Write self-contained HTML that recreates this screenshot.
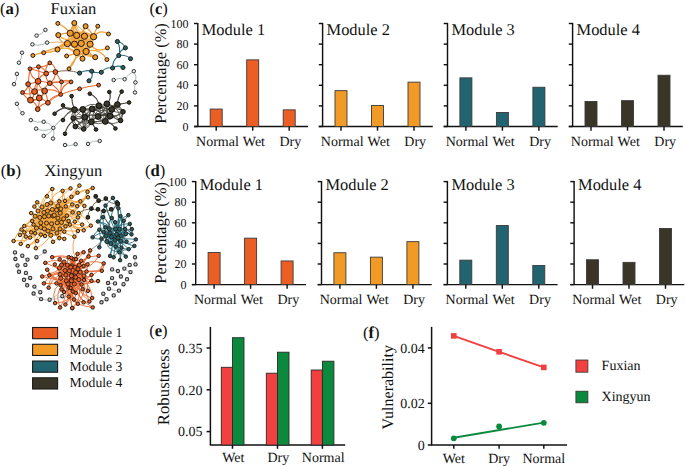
<!DOCTYPE html>
<html><head><meta charset="utf-8"><style>
html,body{margin:0;padding:0;background:#fff;width:685px;height:467px;overflow:hidden}
svg{display:block}
text{font-family:"Liberation Serif", serif;fill:#111;text-rendering:geometricPrecision}
</style></head><body>
<svg width="685" height="467" viewBox="0 0 685 467">
<rect width="685" height="467" fill="#fff"/>
<path d="M70.20,33.20 Q73.80,33.27 76.70,35.40" fill="none" stroke="#F2A33A" stroke-width="0.9" stroke-opacity="0.9"/>
<path d="M70.20,33.20 Q74.14,32.26 76.70,35.40" fill="none" stroke="#F2A33A" stroke-width="0.9" stroke-opacity="0.9"/>
<path d="M70.20,33.20 Q76.94,36.64 84.50,36.20" fill="none" stroke="#F2A33A" stroke-width="0.9" stroke-opacity="0.9"/>
<path d="M70.20,33.20 Q78.50,29.20 84.50,36.20" fill="none" stroke="#F2A33A" stroke-width="0.9" stroke-opacity="0.9"/>
<path d="M70.20,33.20 Q81.79,35.71 93.60,36.70" fill="none" stroke="#F2A33A" stroke-width="0.9" stroke-opacity="0.9"/>
<path d="M70.20,33.20 Q82.32,32.12 93.60,36.70" fill="none" stroke="#F2A33A" stroke-width="0.9" stroke-opacity="0.9"/>
<path d="M70.20,33.20 Q72.94,39.51 67.40,43.60" fill="none" stroke="#F2A33A" stroke-width="0.9" stroke-opacity="0.9"/>
<path d="M70.20,33.20 Q68.73,38.38 67.40,43.60" fill="none" stroke="#F2A33A" stroke-width="0.9" stroke-opacity="0.9"/>
<path d="M70.20,33.20 Q76.93,36.91 74.50,44.20" fill="none" stroke="#F2A33A" stroke-width="0.9" stroke-opacity="0.9"/>
<path d="M70.20,33.20 Q73.01,38.44 74.50,44.20" fill="none" stroke="#F2A33A" stroke-width="0.9" stroke-opacity="0.9"/>
<path d="M70.20,33.20 Q79.65,34.04 81.20,43.40" fill="none" stroke="#F2A33A" stroke-width="0.9" stroke-opacity="0.9"/>
<path d="M70.20,33.20 Q79.46,34.25 81.20,43.40" fill="none" stroke="#F2A33A" stroke-width="0.9" stroke-opacity="0.9"/>
<path d="M70.20,33.20 Q80.90,37.35 90.10,44.20" fill="none" stroke="#F2A33A" stroke-width="0.9" stroke-opacity="0.9"/>
<path d="M70.20,33.20 Q76.91,44.55 90.10,44.20" fill="none" stroke="#F2A33A" stroke-width="0.9" stroke-opacity="0.9"/>
<path d="M70.20,33.20 Q79.95,40.60 76.70,52.40" fill="none" stroke="#F2A33A" stroke-width="0.9" stroke-opacity="0.9"/>
<path d="M70.20,33.20 Q78.23,41.18 76.70,52.40" fill="none" stroke="#F2A33A" stroke-width="0.9" stroke-opacity="0.9"/>
<path d="M70.20,33.20 Q76.05,44.17 86.10,51.50" fill="none" stroke="#F2A33A" stroke-width="0.9" stroke-opacity="0.9"/>
<path d="M70.20,33.20 Q70.78,48.76 86.10,51.50" fill="none" stroke="#F2A33A" stroke-width="0.9" stroke-opacity="0.9"/>
<path d="M76.70,35.40 Q80.54,36.34 84.50,36.20" fill="none" stroke="#F2A33A" stroke-width="0.9" stroke-opacity="0.9"/>
<path d="M76.70,35.40 Q80.67,35.07 84.50,36.20" fill="none" stroke="#F2A33A" stroke-width="0.9" stroke-opacity="0.9"/>
<path d="M76.70,35.40 Q84.59,43.29 93.60,36.70" fill="none" stroke="#F2A33A" stroke-width="0.9" stroke-opacity="0.9"/>
<path d="M76.70,35.40 Q85.68,29.15 93.60,36.70" fill="none" stroke="#F2A33A" stroke-width="0.9" stroke-opacity="0.9"/>
<path d="M76.70,35.40 Q69.40,36.50 67.40,43.60" fill="none" stroke="#F2A33A" stroke-width="0.9" stroke-opacity="0.9"/>
<path d="M76.70,35.40 Q73.60,41.26 67.40,43.60" fill="none" stroke="#F2A33A" stroke-width="0.9" stroke-opacity="0.9"/>
<path d="M76.70,35.40 Q78.42,40.50 74.50,44.20" fill="none" stroke="#F2A33A" stroke-width="0.9" stroke-opacity="0.9"/>
<path d="M76.70,35.40 Q78.63,40.56 74.50,44.20" fill="none" stroke="#F2A33A" stroke-width="0.9" stroke-opacity="0.9"/>
<path d="M76.70,35.40 Q80.33,38.62 81.20,43.40" fill="none" stroke="#F2A33A" stroke-width="0.9" stroke-opacity="0.9"/>
<path d="M76.70,35.40 Q76.67,40.68 81.20,43.40" fill="none" stroke="#F2A33A" stroke-width="0.9" stroke-opacity="0.9"/>
<path d="M76.70,35.40 Q85.93,35.95 90.10,44.20" fill="none" stroke="#F2A33A" stroke-width="0.9" stroke-opacity="0.9"/>
<path d="M76.70,35.40 Q82.75,40.78 90.10,44.20" fill="none" stroke="#F2A33A" stroke-width="0.9" stroke-opacity="0.9"/>
<path d="M76.70,35.40 Q74.57,43.90 76.70,52.40" fill="none" stroke="#F2A33A" stroke-width="0.9" stroke-opacity="0.9"/>
<path d="M76.70,35.40 Q78.65,43.90 76.70,52.40" fill="none" stroke="#F2A33A" stroke-width="0.9" stroke-opacity="0.9"/>
<path d="M76.70,35.40 Q80.71,43.85 86.10,51.50" fill="none" stroke="#F2A33A" stroke-width="0.9" stroke-opacity="0.9"/>
<path d="M76.70,35.40 Q87.74,39.75 86.10,51.50" fill="none" stroke="#F2A33A" stroke-width="0.9" stroke-opacity="0.9"/>
<path d="M84.50,36.20 Q89.25,32.84 93.60,36.70" fill="none" stroke="#F2A33A" stroke-width="0.9" stroke-opacity="0.9"/>
<path d="M84.50,36.20 Q89.18,34.04 93.60,36.70" fill="none" stroke="#F2A33A" stroke-width="0.9" stroke-opacity="0.9"/>
<path d="M84.50,36.20 Q74.75,37.12 67.40,43.60" fill="none" stroke="#F2A33A" stroke-width="0.9" stroke-opacity="0.9"/>
<path d="M84.50,36.20 Q76.43,41.01 67.40,43.60" fill="none" stroke="#F2A33A" stroke-width="0.9" stroke-opacity="0.9"/>
<path d="M84.50,36.20 Q80.84,41.87 74.50,44.20" fill="none" stroke="#F2A33A" stroke-width="0.9" stroke-opacity="0.9"/>
<path d="M84.50,36.20 Q78.88,39.43 74.50,44.20" fill="none" stroke="#F2A33A" stroke-width="0.9" stroke-opacity="0.9"/>
<path d="M84.50,36.20 Q83.15,39.94 81.20,43.40" fill="none" stroke="#F2A33A" stroke-width="0.9" stroke-opacity="0.9"/>
<path d="M84.50,36.20 Q84.15,40.39 81.20,43.40" fill="none" stroke="#F2A33A" stroke-width="0.9" stroke-opacity="0.9"/>
<path d="M84.50,36.20 Q85.18,41.68 90.10,44.20" fill="none" stroke="#F2A33A" stroke-width="0.9" stroke-opacity="0.9"/>
<path d="M84.50,36.20 Q85.87,41.20 90.10,44.20" fill="none" stroke="#F2A33A" stroke-width="0.9" stroke-opacity="0.9"/>
<path d="M84.50,36.20 Q84.33,46.10 76.70,52.40" fill="none" stroke="#F2A33A" stroke-width="0.9" stroke-opacity="0.9"/>
<path d="M84.50,36.20 Q79.51,43.78 76.70,52.40" fill="none" stroke="#F2A33A" stroke-width="0.9" stroke-opacity="0.9"/>
<path d="M84.50,36.20 Q84.95,43.89 86.10,51.50" fill="none" stroke="#F2A33A" stroke-width="0.9" stroke-opacity="0.9"/>
<path d="M84.50,36.20 Q80.13,44.39 86.10,51.50" fill="none" stroke="#F2A33A" stroke-width="0.9" stroke-opacity="0.9"/>
<path d="M93.60,36.70 Q79.08,34.74 67.40,43.60" fill="none" stroke="#F2A33A" stroke-width="0.9" stroke-opacity="0.9"/>
<path d="M93.60,36.70 Q81.82,45.15 67.40,43.60" fill="none" stroke="#F2A33A" stroke-width="0.9" stroke-opacity="0.9"/>
<path d="M93.60,36.70 Q80.81,32.20 74.50,44.20" fill="none" stroke="#F2A33A" stroke-width="0.9" stroke-opacity="0.9"/>
<path d="M93.60,36.70 Q86.63,47.02 74.50,44.20" fill="none" stroke="#F2A33A" stroke-width="0.9" stroke-opacity="0.9"/>
<path d="M93.60,36.70 Q87.89,40.96 81.20,43.40" fill="none" stroke="#F2A33A" stroke-width="0.9" stroke-opacity="0.9"/>
<path d="M93.60,36.70 Q85.85,37.18 81.20,43.40" fill="none" stroke="#F2A33A" stroke-width="0.9" stroke-opacity="0.9"/>
<path d="M93.60,36.70 Q94.20,41.55 90.10,44.20" fill="none" stroke="#F2A33A" stroke-width="0.9" stroke-opacity="0.9"/>
<path d="M93.60,36.70 Q91.92,40.48 90.10,44.20" fill="none" stroke="#F2A33A" stroke-width="0.9" stroke-opacity="0.9"/>
<path d="M93.60,36.70 Q91.66,51.56 76.70,52.40" fill="none" stroke="#F2A33A" stroke-width="0.9" stroke-opacity="0.9"/>
<path d="M93.60,36.70 Q82.77,41.99 76.70,52.40" fill="none" stroke="#F2A33A" stroke-width="0.9" stroke-opacity="0.9"/>
<path d="M93.60,36.70 Q86.33,42.31 86.10,51.50" fill="none" stroke="#F2A33A" stroke-width="0.9" stroke-opacity="0.9"/>
<path d="M93.60,36.70 Q88.88,43.61 86.10,51.50" fill="none" stroke="#F2A33A" stroke-width="0.9" stroke-opacity="0.9"/>
<path d="M67.40,43.60 Q70.75,46.30 74.50,44.20" fill="none" stroke="#F2A33A" stroke-width="0.9" stroke-opacity="0.9"/>
<path d="M67.40,43.60 Q71.05,42.71 74.50,44.20" fill="none" stroke="#F2A33A" stroke-width="0.9" stroke-opacity="0.9"/>
<path d="M67.40,43.60 Q74.34,45.93 81.20,43.40" fill="none" stroke="#F2A33A" stroke-width="0.9" stroke-opacity="0.9"/>
<path d="M67.40,43.60 Q74.32,44.67 81.20,43.40" fill="none" stroke="#F2A33A" stroke-width="0.9" stroke-opacity="0.9"/>
<path d="M67.40,43.60 Q78.71,45.53 90.10,44.20" fill="none" stroke="#F2A33A" stroke-width="0.9" stroke-opacity="0.9"/>
<path d="M67.40,43.60 Q78.77,43.01 90.10,44.20" fill="none" stroke="#F2A33A" stroke-width="0.9" stroke-opacity="0.9"/>
<path d="M67.40,43.60 Q69.36,50.85 76.70,52.40" fill="none" stroke="#F2A33A" stroke-width="0.9" stroke-opacity="0.9"/>
<path d="M67.40,43.60 Q68.53,51.72 76.70,52.40" fill="none" stroke="#F2A33A" stroke-width="0.9" stroke-opacity="0.9"/>
<path d="M67.40,43.60 Q76.93,47.11 86.10,51.50" fill="none" stroke="#F2A33A" stroke-width="0.9" stroke-opacity="0.9"/>
<path d="M67.40,43.60 Q75.58,50.31 86.10,51.50" fill="none" stroke="#F2A33A" stroke-width="0.9" stroke-opacity="0.9"/>
<path d="M74.50,44.20 Q77.53,41.15 81.20,43.40" fill="none" stroke="#F2A33A" stroke-width="0.9" stroke-opacity="0.9"/>
<path d="M74.50,44.20 Q78.00,45.01 81.20,43.40" fill="none" stroke="#F2A33A" stroke-width="0.9" stroke-opacity="0.9"/>
<path d="M74.50,44.20 Q82.30,46.27 90.10,44.20" fill="none" stroke="#F2A33A" stroke-width="0.9" stroke-opacity="0.9"/>
<path d="M74.50,44.20 Q82.30,51.12 90.10,44.20" fill="none" stroke="#F2A33A" stroke-width="0.9" stroke-opacity="0.9"/>
<path d="M74.50,44.20 Q73.22,48.94 76.70,52.40" fill="none" stroke="#F2A33A" stroke-width="0.9" stroke-opacity="0.9"/>
<path d="M74.50,44.20 Q77.19,47.87 76.70,52.40" fill="none" stroke="#F2A33A" stroke-width="0.9" stroke-opacity="0.9"/>
<path d="M74.50,44.20 Q81.05,46.66 86.10,51.50" fill="none" stroke="#F2A33A" stroke-width="0.9" stroke-opacity="0.9"/>
<path d="M74.50,44.20 Q79.19,49.61 86.10,51.50" fill="none" stroke="#F2A33A" stroke-width="0.9" stroke-opacity="0.9"/>
<path d="M81.20,43.40 Q85.99,39.98 90.10,44.20" fill="none" stroke="#F2A33A" stroke-width="0.9" stroke-opacity="0.9"/>
<path d="M81.20,43.40 Q85.68,43.49 90.10,44.20" fill="none" stroke="#F2A33A" stroke-width="0.9" stroke-opacity="0.9"/>
<path d="M81.20,43.40 Q81.64,49.24 76.70,52.40" fill="none" stroke="#F2A33A" stroke-width="0.9" stroke-opacity="0.9"/>
<path d="M81.20,43.40 Q82.05,49.45 76.70,52.40" fill="none" stroke="#F2A33A" stroke-width="0.9" stroke-opacity="0.9"/>
<path d="M81.20,43.40 Q86.87,45.50 86.10,51.50" fill="none" stroke="#F2A33A" stroke-width="0.9" stroke-opacity="0.9"/>
<path d="M81.20,43.40 Q81.69,48.63 86.10,51.50" fill="none" stroke="#F2A33A" stroke-width="0.9" stroke-opacity="0.9"/>
<path d="M90.10,44.20 Q86.14,52.77 76.70,52.40" fill="none" stroke="#F2A33A" stroke-width="0.9" stroke-opacity="0.9"/>
<path d="M90.10,44.20 Q85.26,51.34 76.70,52.40" fill="none" stroke="#F2A33A" stroke-width="0.9" stroke-opacity="0.9"/>
<path d="M90.10,44.20 Q88.82,48.24 86.10,51.50" fill="none" stroke="#F2A33A" stroke-width="0.9" stroke-opacity="0.9"/>
<path d="M90.10,44.20 Q85.66,46.51 86.10,51.50" fill="none" stroke="#F2A33A" stroke-width="0.9" stroke-opacity="0.9"/>
<path d="M76.70,52.40 Q81.06,48.40 86.10,51.50" fill="none" stroke="#F2A33A" stroke-width="0.9" stroke-opacity="0.9"/>
<path d="M76.70,52.40 Q81.36,51.52 86.10,51.50" fill="none" stroke="#F2A33A" stroke-width="0.9" stroke-opacity="0.9"/>
<path d="M74.30,23.00 Q71.75,27.90 70.20,33.20" fill="none" stroke="#F2A33A" stroke-width="1.3" stroke-opacity="1.0"/>
<path d="M74.30,23.00 Q70.75,30.12 76.70,35.40" fill="none" stroke="#F2A33A" stroke-width="1.3" stroke-opacity="1.0"/>
<path d="M74.30,23.00 Q75.19,32.86 84.50,36.20" fill="none" stroke="#F2A33A" stroke-width="1.3" stroke-opacity="1.0"/>
<path d="M85.60,26.20 Q81.41,30.80 84.50,36.20" fill="none" stroke="#F2A33A" stroke-width="1.3" stroke-opacity="1.0"/>
<path d="M85.60,26.20 Q83.19,32.77 76.70,35.40" fill="none" stroke="#F2A33A" stroke-width="1.3" stroke-opacity="1.0"/>
<path d="M85.60,26.20 Q90.49,30.77 93.60,36.70" fill="none" stroke="#F2A33A" stroke-width="1.3" stroke-opacity="1.0"/>
<path d="M58.30,35.10 Q63.98,32.47 70.20,33.20" fill="none" stroke="#F2A33A" stroke-width="1.3" stroke-opacity="1.0"/>
<path d="M58.30,35.10 Q59.58,42.85 67.40,43.60" fill="none" stroke="#F2A33A" stroke-width="1.3" stroke-opacity="1.0"/>
<path d="M58.30,35.10 Q67.36,43.67 76.70,35.40" fill="none" stroke="#F2A33A" stroke-width="1.3" stroke-opacity="1.0"/>
<path d="M57.50,49.50 Q60.39,43.09 67.40,43.60" fill="none" stroke="#F2A33A" stroke-width="1.3" stroke-opacity="1.0"/>
<path d="M57.50,49.50 Q64.28,41.35 74.50,44.20" fill="none" stroke="#F2A33A" stroke-width="1.3" stroke-opacity="1.0"/>
<path d="M57.50,49.50 Q67.88,45.80 76.70,52.40" fill="none" stroke="#F2A33A" stroke-width="1.3" stroke-opacity="1.0"/>
<path d="M82.50,58.70 Q82.38,54.14 86.10,51.50" fill="none" stroke="#F2A33A" stroke-width="1.3" stroke-opacity="1.0"/>
<path d="M82.50,58.70 Q79.51,55.64 76.70,52.40" fill="none" stroke="#F2A33A" stroke-width="1.3" stroke-opacity="1.0"/>
<path d="M82.50,58.70 Q83.21,50.93 81.20,43.40" fill="none" stroke="#F2A33A" stroke-width="1.3" stroke-opacity="1.0"/>
<path d="M95.20,57.20 Q89.30,56.51 86.10,51.50" fill="none" stroke="#F2A33A" stroke-width="1.3" stroke-opacity="1.0"/>
<path d="M95.20,57.20 Q86.20,53.23 90.10,44.20" fill="none" stroke="#F2A33A" stroke-width="1.3" stroke-opacity="1.0"/>
<path d="M95.20,57.20 Q85.56,56.30 76.70,52.40" fill="none" stroke="#F2A33A" stroke-width="1.3" stroke-opacity="1.0"/>
<path d="M57.80,23.40 Q65.28,26.68 70.20,33.20" fill="none" stroke="#F2A33A" stroke-width="1.3" stroke-opacity="1.0"/>
<path d="M97.80,26.20 Q95.00,31.17 93.60,36.70" fill="none" stroke="#F2A33A" stroke-width="1.3" stroke-opacity="1.0"/>
<path d="M108.50,34.00 Q99.83,28.60 93.60,36.70" fill="none" stroke="#F2A33A" stroke-width="1.3" stroke-opacity="1.0"/>
<path d="M43.70,52.70 Q57.28,52.66 67.40,43.60" fill="none" stroke="#F2A33A" stroke-width="1.3" stroke-opacity="1.0"/>
<path d="M32.90,55.50 Q50.33,50.08 67.40,43.60" fill="none" stroke="#F2A33A" stroke-width="1.3" stroke-opacity="1.0"/>
<path d="M66.60,56.00 Q72.07,55.39 76.70,52.40" fill="none" stroke="#F2A33A" stroke-width="1.3" stroke-opacity="1.0"/>
<path d="M69.00,68.80 Q75.74,61.96 76.70,52.40" fill="none" stroke="#F2A33A" stroke-width="1.3" stroke-opacity="1.0"/>
<path d="M107.40,47.90 Q97.10,53.77 90.10,44.20" fill="none" stroke="#F2A33A" stroke-width="1.3" stroke-opacity="1.0"/>
<path d="M106.90,59.60 Q99.74,47.24 86.10,51.50" fill="none" stroke="#F2A33A" stroke-width="1.3" stroke-opacity="1.0"/>
<path d="M74.30,23.00 Q71.23,27.69 70.20,33.20" fill="none" stroke="#F2A33A" stroke-width="0.9" stroke-opacity="1.0"/>
<path d="M74.30,23.00 Q74.26,29.44 76.70,35.40" fill="none" stroke="#F2A33A" stroke-width="0.9" stroke-opacity="1.0"/>
<path d="M74.30,23.00 Q78.08,30.62 84.50,36.20" fill="none" stroke="#F2A33A" stroke-width="0.9" stroke-opacity="1.0"/>
<path d="M74.30,23.00 Q82.58,31.78 93.60,36.70" fill="none" stroke="#F2A33A" stroke-width="0.9" stroke-opacity="1.0"/>
<path d="M74.30,23.00 Q68.79,32.61 67.40,43.60" fill="none" stroke="#F2A33A" stroke-width="0.9" stroke-opacity="1.0"/>
<path d="M74.30,23.00 Q72.28,33.62 74.50,44.20" fill="none" stroke="#F2A33A" stroke-width="0.9" stroke-opacity="1.0"/>
<path d="M43.70,52.70 Q38.16,53.56 32.90,55.50" fill="none" stroke="#F2A33A" stroke-width="1.1" stroke-opacity="1.0"/>
<path d="M69.00,68.80 Q74.09,56.73 86.10,51.50" fill="none" stroke="#F2A33A" stroke-width="1.1" stroke-opacity="1.0"/>
<path d="M47.10,42.60 Q57.35,41.07 67.40,43.60" fill="none" stroke="#D9B27A" stroke-width="1.0" stroke-opacity="1.0"/>
<path d="M38.10,81.30 Q34.28,85.74 34.50,91.60" fill="none" stroke="#EC6A30" stroke-width="1.1" stroke-opacity="1.0"/>
<path d="M38.10,81.30 Q38.83,87.80 44.60,90.90" fill="none" stroke="#EC6A30" stroke-width="1.1" stroke-opacity="1.0"/>
<path d="M38.10,81.30 Q35.22,89.90 39.30,98.00" fill="none" stroke="#EC6A30" stroke-width="1.1" stroke-opacity="1.0"/>
<path d="M38.10,81.30 Q33.31,83.45 28.10,84.10" fill="none" stroke="#EC6A30" stroke-width="1.1" stroke-opacity="1.0"/>
<path d="M38.10,81.30 Q44.08,81.42 49.80,83.20" fill="none" stroke="#EC6A30" stroke-width="1.1" stroke-opacity="1.0"/>
<path d="M38.10,81.30 Q40.01,75.20 46.20,73.60" fill="none" stroke="#EC6A30" stroke-width="1.1" stroke-opacity="1.0"/>
<path d="M38.10,81.30 Q39.67,74.04 38.50,66.70" fill="none" stroke="#EC6A30" stroke-width="1.1" stroke-opacity="1.0"/>
<path d="M38.10,81.30 Q30.22,77.53 30.00,68.80" fill="none" stroke="#EC6A30" stroke-width="1.1" stroke-opacity="1.0"/>
<path d="M34.50,91.60 Q39.34,88.19 44.60,90.90" fill="none" stroke="#EC6A30" stroke-width="1.1" stroke-opacity="1.0"/>
<path d="M34.50,91.60 Q34.23,96.67 30.50,100.10" fill="none" stroke="#EC6A30" stroke-width="1.1" stroke-opacity="1.0"/>
<path d="M34.50,91.60 Q38.41,93.67 39.30,98.00" fill="none" stroke="#EC6A30" stroke-width="1.1" stroke-opacity="1.0"/>
<path d="M34.50,91.60 Q30.46,88.57 28.10,84.10" fill="none" stroke="#EC6A30" stroke-width="1.1" stroke-opacity="1.0"/>
<path d="M34.50,91.60 Q28.78,95.81 22.50,92.50" fill="none" stroke="#EC6A30" stroke-width="1.1" stroke-opacity="1.0"/>
<path d="M44.60,90.90 Q40.77,100.43 30.50,100.10" fill="none" stroke="#EC6A30" stroke-width="1.1" stroke-opacity="1.0"/>
<path d="M44.60,90.90 Q43.68,95.74 39.30,98.00" fill="none" stroke="#EC6A30" stroke-width="1.1" stroke-opacity="1.0"/>
<path d="M44.60,90.90 Q45.05,85.60 49.80,83.20" fill="none" stroke="#EC6A30" stroke-width="1.1" stroke-opacity="1.0"/>
<path d="M44.60,90.90 Q47.39,96.53 47.90,102.80" fill="none" stroke="#EC6A30" stroke-width="1.1" stroke-opacity="1.0"/>
<path d="M44.60,90.90 Q53.85,87.35 60.70,94.50" fill="none" stroke="#EC6A30" stroke-width="1.1" stroke-opacity="1.0"/>
<path d="M30.50,100.10 Q35.45,101.36 39.30,98.00" fill="none" stroke="#EC6A30" stroke-width="1.1" stroke-opacity="1.0"/>
<path d="M30.50,100.10 Q30.58,91.91 28.10,84.10" fill="none" stroke="#EC6A30" stroke-width="1.1" stroke-opacity="1.0"/>
<path d="M30.50,100.10 Q36.34,102.88 37.70,109.20" fill="none" stroke="#EC6A30" stroke-width="1.1" stroke-opacity="1.0"/>
<path d="M30.50,100.10 Q25.18,97.69 22.50,92.50" fill="none" stroke="#EC6A30" stroke-width="1.1" stroke-opacity="1.0"/>
<path d="M39.30,98.00 Q44.11,99.48 47.90,102.80" fill="none" stroke="#EC6A30" stroke-width="1.1" stroke-opacity="1.0"/>
<path d="M39.30,98.00 Q39.56,103.75 37.70,109.20" fill="none" stroke="#EC6A30" stroke-width="1.1" stroke-opacity="1.0"/>
<path d="M55.40,72.00 Q55.56,79.08 49.80,83.20" fill="none" stroke="#EC6A30" stroke-width="1.1" stroke-opacity="1.0"/>
<path d="M55.40,72.00 Q50.41,70.55 46.20,73.60" fill="none" stroke="#EC6A30" stroke-width="1.1" stroke-opacity="1.0"/>
<path d="M55.40,72.00 Q55.74,65.52 49.80,62.90" fill="none" stroke="#EC6A30" stroke-width="1.1" stroke-opacity="1.0"/>
<path d="M55.40,72.00 Q58.69,76.80 61.50,81.90" fill="none" stroke="#EC6A30" stroke-width="1.1" stroke-opacity="1.0"/>
<path d="M28.10,84.10 Q28.88,76.43 30.00,68.80" fill="none" stroke="#EC6A30" stroke-width="1.1" stroke-opacity="1.0"/>
<path d="M28.10,84.10 Q27.73,89.92 22.50,92.50" fill="none" stroke="#EC6A30" stroke-width="1.1" stroke-opacity="1.0"/>
<path d="M49.80,83.20 Q45.33,79.40 46.20,73.60" fill="none" stroke="#EC6A30" stroke-width="1.1" stroke-opacity="1.0"/>
<path d="M49.80,83.20 Q55.51,81.26 61.50,81.90" fill="none" stroke="#EC6A30" stroke-width="1.1" stroke-opacity="1.0"/>
<path d="M49.80,83.20 Q57.11,87.06 60.70,94.50" fill="none" stroke="#EC6A30" stroke-width="1.1" stroke-opacity="1.0"/>
<path d="M47.90,102.80 Q41.33,103.65 37.70,109.20" fill="none" stroke="#EC6A30" stroke-width="1.1" stroke-opacity="1.0"/>
<path d="M47.90,102.80 Q52.33,95.62 60.70,94.50" fill="none" stroke="#EC6A30" stroke-width="1.1" stroke-opacity="1.0"/>
<path d="M46.20,73.60 Q44.43,67.05 49.80,62.90" fill="none" stroke="#EC6A30" stroke-width="1.1" stroke-opacity="1.0"/>
<path d="M46.20,73.60 Q44.53,67.72 38.50,66.70" fill="none" stroke="#EC6A30" stroke-width="1.1" stroke-opacity="1.0"/>
<path d="M46.20,73.60 Q38.19,70.88 30.00,68.80" fill="none" stroke="#EC6A30" stroke-width="1.1" stroke-opacity="1.0"/>
<path d="M49.80,62.90 Q45.09,67.60 38.50,66.70" fill="none" stroke="#EC6A30" stroke-width="1.1" stroke-opacity="1.0"/>
<path d="M38.50,66.70 Q34.19,67.49 30.00,68.80" fill="none" stroke="#EC6A30" stroke-width="1.1" stroke-opacity="1.0"/>
<path d="M61.50,81.90 Q66.30,78.72 71.10,81.90" fill="none" stroke="#EC6A30" stroke-width="1.1" stroke-opacity="1.0"/>
<path d="M61.50,81.90 Q60.85,88.18 60.70,94.50" fill="none" stroke="#EC6A30" stroke-width="1.1" stroke-opacity="1.0"/>
<path d="M71.10,81.90 Q61.68,84.72 60.70,94.50" fill="none" stroke="#EC6A30" stroke-width="1.1" stroke-opacity="1.0"/>
<path d="M47.90,102.80 Q53.47,97.37 60.70,94.50" fill="none" stroke="#EC6A30" stroke-width="1.0" stroke-opacity="1.0"/>
<path d="M60.70,94.50 Q69.87,90.71 79.60,88.80" fill="none" stroke="#EC6A30" stroke-width="1.0" stroke-opacity="1.0"/>
<path d="M79.60,88.80 Q88.91,86.00 98.60,85.10" fill="none" stroke="#EC6A30" stroke-width="1.0" stroke-opacity="1.0"/>
<path d="M49.80,83.20 Q55.65,82.55 61.50,81.90" fill="none" stroke="#EC6A30" stroke-width="1.0" stroke-opacity="1.0"/>
<path d="M61.50,81.90 Q66.30,81.90 71.10,81.90" fill="none" stroke="#EC6A30" stroke-width="1.0" stroke-opacity="1.0"/>
<path d="M55.40,72.00 Q67.66,68.92 79.60,73.10" fill="none" stroke="#8a6a55" stroke-width="1.0" stroke-opacity="1.0"/>
<path d="M117.40,41.50 Q123.25,42.39 125.40,47.90" fill="none" stroke="#2C7382" stroke-width="1.15" stroke-opacity="1.0"/>
<path d="M125.40,47.90 Q120.10,50.05 118.70,55.60" fill="none" stroke="#2C7382" stroke-width="1.15" stroke-opacity="1.0"/>
<path d="M117.40,41.50 Q121.17,48.26 118.70,55.60" fill="none" stroke="#2C7382" stroke-width="1.15" stroke-opacity="1.0"/>
<path d="M118.70,55.60 Q125.40,54.12 130.50,58.70" fill="none" stroke="#2C7382" stroke-width="1.15" stroke-opacity="1.0"/>
<path d="M118.70,55.60 Q112.21,60.11 112.60,68.00" fill="none" stroke="#2C7382" stroke-width="1.15" stroke-opacity="1.0"/>
<path d="M112.60,68.00 Q117.64,64.51 123.00,67.50" fill="none" stroke="#2C7382" stroke-width="1.15" stroke-opacity="1.0"/>
<path d="M112.60,68.00 Q105.67,66.78 101.30,72.30" fill="none" stroke="#2C7382" stroke-width="1.15" stroke-opacity="1.0"/>
<path d="M101.30,72.30 Q96.29,73.57 91.70,71.20" fill="none" stroke="#2C7382" stroke-width="1.15" stroke-opacity="1.0"/>
<path d="M91.70,71.20 Q85.23,69.47 79.60,73.10" fill="none" stroke="#2C7382" stroke-width="1.15" stroke-opacity="1.0"/>
<path d="M91.70,71.20 Q93.69,76.94 89.00,80.80" fill="none" stroke="#2C7382" stroke-width="1.15" stroke-opacity="1.0"/>
<path d="M106.90,103.80 Q111.94,106.94 117.40,104.60" fill="none" stroke="#3f3d33" stroke-width="0.8" stroke-opacity="1.0"/>
<path d="M106.90,103.80 Q102.95,104.95 98.90,105.70" fill="none" stroke="#3f3d33" stroke-width="0.8" stroke-opacity="1.0"/>
<path d="M106.90,103.80 Q100.96,110.40 92.20,108.90" fill="none" stroke="#3f3d33" stroke-width="0.8" stroke-opacity="1.0"/>
<path d="M106.90,103.80 Q108.82,107.06 111.80,109.40" fill="none" stroke="#3f3d33" stroke-width="0.8" stroke-opacity="1.0"/>
<path d="M106.90,103.80 Q104.28,111.38 98.10,116.50" fill="none" stroke="#3f3d33" stroke-width="0.8" stroke-opacity="1.0"/>
<path d="M106.90,103.80 Q105.08,110.84 110.10,116.10" fill="none" stroke="#3f3d33" stroke-width="0.8" stroke-opacity="1.0"/>
<path d="M106.90,103.80 Q95.54,109.69 91.40,121.80" fill="none" stroke="#3f3d33" stroke-width="0.8" stroke-opacity="1.0"/>
<path d="M106.90,103.80 Q108.48,112.82 105.30,121.40" fill="none" stroke="#3f3d33" stroke-width="0.8" stroke-opacity="1.0"/>
<path d="M106.90,103.80 Q111.53,114.68 123.00,111.80" fill="none" stroke="#3f3d33" stroke-width="0.8" stroke-opacity="1.0"/>
<path d="M106.90,103.80 Q120.05,106.98 120.60,120.50" fill="none" stroke="#3f3d33" stroke-width="0.8" stroke-opacity="1.0"/>
<path d="M117.40,104.60 Q108.54,111.77 98.90,105.70" fill="none" stroke="#3f3d33" stroke-width="0.8" stroke-opacity="1.0"/>
<path d="M117.40,104.60 Q114.73,107.15 111.80,109.40" fill="none" stroke="#3f3d33" stroke-width="0.8" stroke-opacity="1.0"/>
<path d="M117.40,104.60 Q109.49,113.37 98.10,116.50" fill="none" stroke="#3f3d33" stroke-width="0.8" stroke-opacity="1.0"/>
<path d="M117.40,104.60 Q113.93,110.46 110.10,116.10" fill="none" stroke="#3f3d33" stroke-width="0.8" stroke-opacity="1.0"/>
<path d="M117.40,104.60 Q104.01,107.72 105.30,121.40" fill="none" stroke="#3f3d33" stroke-width="0.8" stroke-opacity="1.0"/>
<path d="M117.40,104.60 Q119.49,108.76 123.00,111.80" fill="none" stroke="#3f3d33" stroke-width="0.8" stroke-opacity="1.0"/>
<path d="M117.40,104.60 Q126.13,111.12 120.60,120.50" fill="none" stroke="#3f3d33" stroke-width="0.8" stroke-opacity="1.0"/>
<path d="M98.90,105.70 Q89.49,101.62 82.80,109.40" fill="none" stroke="#3f3d33" stroke-width="0.8" stroke-opacity="1.0"/>
<path d="M98.90,105.70 Q96.00,108.24 92.20,108.90" fill="none" stroke="#3f3d33" stroke-width="0.8" stroke-opacity="1.0"/>
<path d="M98.90,105.70 Q104.87,109.21 111.80,109.40" fill="none" stroke="#3f3d33" stroke-width="0.8" stroke-opacity="1.0"/>
<path d="M98.90,105.70 Q88.36,107.25 84.80,117.30" fill="none" stroke="#3f3d33" stroke-width="0.8" stroke-opacity="1.0"/>
<path d="M98.90,105.70 Q102.19,111.37 98.10,116.50" fill="none" stroke="#3f3d33" stroke-width="0.8" stroke-opacity="1.0"/>
<path d="M98.90,105.70 Q105.54,109.78 110.10,116.10" fill="none" stroke="#3f3d33" stroke-width="0.8" stroke-opacity="1.0"/>
<path d="M98.90,105.70 Q92.09,112.32 91.40,121.80" fill="none" stroke="#3f3d33" stroke-width="0.8" stroke-opacity="1.0"/>
<path d="M98.90,105.70 Q106.35,111.82 105.30,121.40" fill="none" stroke="#3f3d33" stroke-width="0.8" stroke-opacity="1.0"/>
<path d="M74.50,109.70 Q78.76,112.46 82.80,109.40" fill="none" stroke="#3f3d33" stroke-width="0.8" stroke-opacity="1.0"/>
<path d="M74.50,109.70 Q83.30,108.25 92.20,108.90" fill="none" stroke="#3f3d33" stroke-width="0.8" stroke-opacity="1.0"/>
<path d="M74.50,109.70 Q78.72,114.76 84.80,117.30" fill="none" stroke="#3f3d33" stroke-width="0.8" stroke-opacity="1.0"/>
<path d="M74.50,109.70 Q87.45,109.46 91.40,121.80" fill="none" stroke="#3f3d33" stroke-width="0.8" stroke-opacity="1.0"/>
<path d="M74.50,109.70 Q68.11,118.47 75.30,126.60" fill="none" stroke="#3f3d33" stroke-width="0.8" stroke-opacity="1.0"/>
<path d="M74.50,109.70 Q75.25,121.19 83.70,129.00" fill="none" stroke="#3f3d33" stroke-width="0.8" stroke-opacity="1.0"/>
<path d="M74.50,109.70 Q74.13,113.99 73.20,118.20" fill="none" stroke="#3f3d33" stroke-width="0.8" stroke-opacity="1.0"/>
<path d="M82.80,109.40 Q87.61,111.21 92.20,108.90" fill="none" stroke="#3f3d33" stroke-width="0.8" stroke-opacity="1.0"/>
<path d="M82.80,109.40 Q86.75,112.60 84.80,117.30" fill="none" stroke="#3f3d33" stroke-width="0.8" stroke-opacity="1.0"/>
<path d="M82.80,109.40 Q92.63,108.25 98.10,116.50" fill="none" stroke="#3f3d33" stroke-width="0.8" stroke-opacity="1.0"/>
<path d="M82.80,109.40 Q81.60,119.42 91.40,121.80" fill="none" stroke="#3f3d33" stroke-width="0.8" stroke-opacity="1.0"/>
<path d="M82.80,109.40 Q86.36,121.19 75.30,126.60" fill="none" stroke="#3f3d33" stroke-width="0.8" stroke-opacity="1.0"/>
<path d="M82.80,109.40 Q81.65,119.27 83.70,129.00" fill="none" stroke="#3f3d33" stroke-width="0.8" stroke-opacity="1.0"/>
<path d="M82.80,109.40 Q78.27,114.10 73.20,118.20" fill="none" stroke="#3f3d33" stroke-width="0.8" stroke-opacity="1.0"/>
<path d="M92.20,108.90 Q101.93,111.90 111.80,109.40" fill="none" stroke="#3f3d33" stroke-width="0.8" stroke-opacity="1.0"/>
<path d="M92.20,108.90 Q87.66,112.36 84.80,117.30" fill="none" stroke="#3f3d33" stroke-width="0.8" stroke-opacity="1.0"/>
<path d="M92.20,108.90 Q94.49,113.21 98.10,116.50" fill="none" stroke="#3f3d33" stroke-width="0.8" stroke-opacity="1.0"/>
<path d="M92.20,108.90 Q101.32,112.09 110.10,116.10" fill="none" stroke="#3f3d33" stroke-width="0.8" stroke-opacity="1.0"/>
<path d="M92.20,108.90 Q86.72,115.04 91.40,121.80" fill="none" stroke="#3f3d33" stroke-width="0.8" stroke-opacity="1.0"/>
<path d="M92.20,108.90 Q102.62,111.09 105.30,121.40" fill="none" stroke="#3f3d33" stroke-width="0.8" stroke-opacity="1.0"/>
<path d="M92.20,108.90 Q87.08,118.58 83.70,129.00" fill="none" stroke="#3f3d33" stroke-width="0.8" stroke-opacity="1.0"/>
<path d="M92.20,108.90 Q86.71,121.73 73.20,118.20" fill="none" stroke="#3f3d33" stroke-width="0.8" stroke-opacity="1.0"/>
<path d="M111.80,109.40 Q103.04,109.26 98.10,116.50" fill="none" stroke="#3f3d33" stroke-width="0.8" stroke-opacity="1.0"/>
<path d="M111.80,109.40 Q109.58,112.40 110.10,116.10" fill="none" stroke="#3f3d33" stroke-width="0.8" stroke-opacity="1.0"/>
<path d="M111.80,109.40 Q106.03,122.89 91.40,121.80" fill="none" stroke="#3f3d33" stroke-width="0.8" stroke-opacity="1.0"/>
<path d="M111.80,109.40 Q105.86,113.94 105.30,121.40" fill="none" stroke="#3f3d33" stroke-width="0.8" stroke-opacity="1.0"/>
<path d="M111.80,109.40 Q118.18,106.96 123.00,111.80" fill="none" stroke="#3f3d33" stroke-width="0.8" stroke-opacity="1.0"/>
<path d="M111.80,109.40 Q111.34,118.80 120.60,120.50" fill="none" stroke="#3f3d33" stroke-width="0.8" stroke-opacity="1.0"/>
<path d="M84.80,117.30 Q91.23,113.25 98.10,116.50" fill="none" stroke="#3f3d33" stroke-width="0.8" stroke-opacity="1.0"/>
<path d="M84.80,117.30 Q86.59,121.77 91.40,121.80" fill="none" stroke="#3f3d33" stroke-width="0.8" stroke-opacity="1.0"/>
<path d="M84.80,117.30 Q96.79,110.64 105.30,121.40" fill="none" stroke="#3f3d33" stroke-width="0.8" stroke-opacity="1.0"/>
<path d="M84.80,117.30 Q82.45,124.41 75.30,126.60" fill="none" stroke="#3f3d33" stroke-width="0.8" stroke-opacity="1.0"/>
<path d="M84.80,117.30 Q84.24,123.15 83.70,129.00" fill="none" stroke="#3f3d33" stroke-width="0.8" stroke-opacity="1.0"/>
<path d="M84.80,117.30 Q78.79,115.00 73.20,118.20" fill="none" stroke="#3f3d33" stroke-width="0.8" stroke-opacity="1.0"/>
<path d="M98.10,116.50 Q104.04,114.42 110.10,116.10" fill="none" stroke="#3f3d33" stroke-width="0.8" stroke-opacity="1.0"/>
<path d="M98.10,116.50 Q94.54,118.88 91.40,121.80" fill="none" stroke="#3f3d33" stroke-width="0.8" stroke-opacity="1.0"/>
<path d="M98.10,116.50 Q100.23,121.12 105.30,121.40" fill="none" stroke="#3f3d33" stroke-width="0.8" stroke-opacity="1.0"/>
<path d="M98.10,116.50 Q110.93,109.61 120.60,120.50" fill="none" stroke="#3f3d33" stroke-width="0.8" stroke-opacity="1.0"/>
<path d="M98.10,116.50 Q88.20,119.64 83.70,129.00" fill="none" stroke="#3f3d33" stroke-width="0.8" stroke-opacity="1.0"/>
<path d="M110.10,116.10 Q98.71,112.26 91.40,121.80" fill="none" stroke="#3f3d33" stroke-width="0.8" stroke-opacity="1.0"/>
<path d="M110.10,116.10 Q106.92,118.05 105.30,121.40" fill="none" stroke="#3f3d33" stroke-width="0.8" stroke-opacity="1.0"/>
<path d="M110.10,116.10 Q117.77,117.61 123.00,111.80" fill="none" stroke="#3f3d33" stroke-width="0.8" stroke-opacity="1.0"/>
<path d="M110.10,116.10 Q115.28,118.46 120.60,120.50" fill="none" stroke="#3f3d33" stroke-width="0.8" stroke-opacity="1.0"/>
<path d="M91.40,121.80 Q98.47,125.69 105.30,121.40" fill="none" stroke="#3f3d33" stroke-width="0.8" stroke-opacity="1.0"/>
<path d="M91.40,121.80 Q81.72,118.72 75.30,126.60" fill="none" stroke="#3f3d33" stroke-width="0.8" stroke-opacity="1.0"/>
<path d="M91.40,121.80 Q89.94,127.96 83.70,129.00" fill="none" stroke="#3f3d33" stroke-width="0.8" stroke-opacity="1.0"/>
<path d="M91.40,121.80 Q81.17,125.70 73.20,118.20" fill="none" stroke="#3f3d33" stroke-width="0.8" stroke-opacity="1.0"/>
<path d="M105.30,121.40 Q114.24,116.77 123.00,111.80" fill="none" stroke="#3f3d33" stroke-width="0.8" stroke-opacity="1.0"/>
<path d="M105.30,121.40 Q113.25,126.08 120.60,120.50" fill="none" stroke="#3f3d33" stroke-width="0.8" stroke-opacity="1.0"/>
<path d="M105.30,121.40 Q92.61,119.82 83.70,129.00" fill="none" stroke="#3f3d33" stroke-width="0.8" stroke-opacity="1.0"/>
<path d="M123.00,111.80 Q120.95,115.92 120.60,120.50" fill="none" stroke="#3f3d33" stroke-width="0.8" stroke-opacity="1.0"/>
<path d="M75.30,126.60 Q78.90,129.89 83.70,129.00" fill="none" stroke="#3f3d33" stroke-width="0.8" stroke-opacity="1.0"/>
<path d="M75.30,126.60 Q71.60,123.06 73.20,118.20" fill="none" stroke="#3f3d33" stroke-width="0.8" stroke-opacity="1.0"/>
<path d="M83.70,129.00 Q74.97,126.99 73.20,118.20" fill="none" stroke="#3f3d33" stroke-width="0.8" stroke-opacity="1.0"/>
<path d="M71.60,96.10 Q71.75,103.18 74.50,109.70" fill="none" stroke="#3f3d33" stroke-width="1.1" stroke-opacity="1.0"/>
<path d="M89.80,93.70 Q97.99,96.94 98.90,105.70" fill="none" stroke="#3f3d33" stroke-width="1.1" stroke-opacity="1.0"/>
<path d="M109.30,92.00 Q112.24,98.74 106.90,103.80" fill="none" stroke="#3f3d33" stroke-width="1.1" stroke-opacity="1.0"/>
<path d="M121.70,91.60 Q117.65,97.47 117.40,104.60" fill="none" stroke="#3f3d33" stroke-width="1.1" stroke-opacity="1.0"/>
<path d="M129.10,102.50 Q123.20,103.26 117.40,104.60" fill="none" stroke="#3f3d33" stroke-width="1.1" stroke-opacity="1.0"/>
<path d="M96.00,129.50 Q93.59,125.71 91.40,121.80" fill="none" stroke="#3f3d33" stroke-width="1.1" stroke-opacity="1.0"/>
<path d="M115.40,128.50 Q111.92,122.72 105.30,121.40" fill="none" stroke="#3f3d33" stroke-width="1.1" stroke-opacity="1.0"/>
<path d="M63.00,105.40 Q67.43,111.08 74.50,109.70" fill="none" stroke="#3f3d33" stroke-width="1.1" stroke-opacity="1.0"/>
<path d="M54.60,113.70 Q63.13,104.64 74.50,109.70" fill="none" stroke="#3f3d33" stroke-width="1.1" stroke-opacity="1.0"/>
<path d="M63.00,120.10 Q66.18,112.06 74.50,109.70" fill="none" stroke="#3f3d33" stroke-width="1.1" stroke-opacity="1.0"/>
<path d="M65.00,133.80 Q68.86,118.30 84.80,117.30" fill="none" stroke="#3f3d33" stroke-width="1.1" stroke-opacity="1.0"/>
<path d="M45.40,29.90 Q42.00,34.30 36.60,35.60" fill="none" stroke="#a3b0b0" stroke-width="0.9" stroke-opacity="1.0"/>
<path d="M47.10,42.60 Q40.14,46.65 32.40,44.40" fill="none" stroke="#a3b0b0" stroke-width="0.9" stroke-opacity="1.0"/>
<path d="M22.00,52.70 Q22.11,58.22 18.90,62.70" fill="none" stroke="#a3b0b0" stroke-width="0.9" stroke-opacity="1.0"/>
<path d="M16.90,73.90 Q17.53,79.59 14.00,84.10" fill="none" stroke="#a3b0b0" stroke-width="0.9" stroke-opacity="1.0"/>
<path d="M16.90,103.80 Q18.04,109.49 22.50,113.20" fill="none" stroke="#a3b0b0" stroke-width="0.9" stroke-opacity="1.0"/>
<path d="M30.80,120.10 Q36.95,123.22 43.70,121.80" fill="none" stroke="#a3b0b0" stroke-width="0.9" stroke-opacity="1.0"/>
<path d="M43.70,121.80 Q49.75,122.88 53.30,127.90" fill="none" stroke="#a3b0b0" stroke-width="0.9" stroke-opacity="1.0"/>
<path d="M36.10,128.70 Q44.89,132.40 53.30,127.90" fill="none" stroke="#a3b0b0" stroke-width="0.9" stroke-opacity="1.0"/>
<path d="M53.30,127.90 Q50.31,134.07 43.70,135.90" fill="none" stroke="#a3b0b0" stroke-width="0.9" stroke-opacity="1.0"/>
<path d="M53.30,127.90 Q54.89,133.30 53.00,138.60" fill="none" stroke="#a3b0b0" stroke-width="0.9" stroke-opacity="1.0"/>
<path d="M65.00,145.00 Q70.43,146.36 75.60,144.20" fill="none" stroke="#a3b0b0" stroke-width="0.9" stroke-opacity="1.0"/>
<path d="M88.00,143.90 Q93.27,140.10 99.70,141.00" fill="none" stroke="#a3b0b0" stroke-width="0.9" stroke-opacity="1.0"/>
<path d="M133.80,71.20 Q128.31,74.18 124.60,79.20" fill="none" stroke="#a3b0b0" stroke-width="0.9" stroke-opacity="1.0"/>
<path d="M124.60,79.20 Q118.98,77.23 113.70,80.00" fill="none" stroke="#a3b0b0" stroke-width="0.9" stroke-opacity="1.0"/>
<path d="M133.80,71.20 Q137.30,76.41 135.40,82.40" fill="none" stroke="#a3b0b0" stroke-width="0.9" stroke-opacity="1.0"/>
<path d="M135.40,82.40 Q133.97,87.40 135.00,92.50" fill="none" stroke="#a3b0b0" stroke-width="0.9" stroke-opacity="1.0"/>
<path d="M53.30,127.90 Q62.08,116.68 74.50,109.70" fill="none" stroke="#8d9a90" stroke-width="0.9" stroke-opacity="1.0"/>
<circle cx="70.20" cy="33.20" r="3.10" fill="#F29A26" stroke="#241a12" stroke-width="1.0"/>
<circle cx="76.70" cy="35.40" r="3.10" fill="#F29A26" stroke="#241a12" stroke-width="1.0"/>
<circle cx="84.50" cy="36.20" r="3.10" fill="#F29A26" stroke="#241a12" stroke-width="1.0"/>
<circle cx="93.60" cy="36.70" r="3.10" fill="#F29A26" stroke="#241a12" stroke-width="1.0"/>
<circle cx="67.40" cy="43.60" r="3.10" fill="#F29A26" stroke="#241a12" stroke-width="1.0"/>
<circle cx="74.50" cy="44.20" r="3.10" fill="#F29A26" stroke="#241a12" stroke-width="1.0"/>
<circle cx="81.20" cy="43.40" r="3.10" fill="#F29A26" stroke="#241a12" stroke-width="1.0"/>
<circle cx="90.10" cy="44.20" r="3.10" fill="#F29A26" stroke="#241a12" stroke-width="1.0"/>
<circle cx="76.70" cy="52.40" r="3.10" fill="#F29A26" stroke="#241a12" stroke-width="1.0"/>
<circle cx="86.10" cy="51.50" r="3.10" fill="#F29A26" stroke="#241a12" stroke-width="1.0"/>
<circle cx="74.30" cy="23.00" r="2.50" fill="#F29A26" stroke="#241a12" stroke-width="1.0"/>
<circle cx="85.60" cy="26.20" r="2.50" fill="#F29A26" stroke="#241a12" stroke-width="1.0"/>
<circle cx="58.30" cy="35.10" r="2.50" fill="#F29A26" stroke="#241a12" stroke-width="1.0"/>
<circle cx="57.50" cy="49.50" r="2.50" fill="#F29A26" stroke="#241a12" stroke-width="1.0"/>
<circle cx="82.50" cy="58.70" r="2.50" fill="#F29A26" stroke="#241a12" stroke-width="1.0"/>
<circle cx="95.20" cy="57.20" r="2.50" fill="#F29A26" stroke="#241a12" stroke-width="1.0"/>
<circle cx="57.80" cy="23.40" r="1.95" fill="#F29A26" stroke="#241a12" stroke-width="1.0"/>
<circle cx="97.80" cy="26.20" r="1.95" fill="#F29A26" stroke="#241a12" stroke-width="1.0"/>
<circle cx="108.50" cy="34.00" r="1.95" fill="#F29A26" stroke="#241a12" stroke-width="1.0"/>
<circle cx="43.70" cy="52.70" r="1.95" fill="#F29A26" stroke="#241a12" stroke-width="1.0"/>
<circle cx="32.90" cy="55.50" r="1.95" fill="#F29A26" stroke="#241a12" stroke-width="1.0"/>
<circle cx="66.60" cy="56.00" r="1.95" fill="#F29A26" stroke="#241a12" stroke-width="1.0"/>
<circle cx="69.00" cy="68.80" r="1.95" fill="#F29A26" stroke="#241a12" stroke-width="1.0"/>
<circle cx="107.40" cy="47.90" r="1.95" fill="#F29A26" stroke="#241a12" stroke-width="1.0"/>
<circle cx="106.90" cy="59.60" r="1.95" fill="#F29A26" stroke="#241a12" stroke-width="1.0"/>
<circle cx="38.10" cy="81.30" r="2.90" fill="#EB5F24" stroke="#241a12" stroke-width="1.0"/>
<circle cx="34.50" cy="91.60" r="2.90" fill="#EB5F24" stroke="#241a12" stroke-width="1.0"/>
<circle cx="44.60" cy="90.90" r="2.90" fill="#EB5F24" stroke="#241a12" stroke-width="1.0"/>
<circle cx="30.50" cy="100.10" r="2.90" fill="#EB5F24" stroke="#241a12" stroke-width="1.0"/>
<circle cx="39.30" cy="98.00" r="2.90" fill="#EB5F24" stroke="#241a12" stroke-width="1.0"/>
<circle cx="55.40" cy="72.00" r="2.35" fill="#EB5F24" stroke="#241a12" stroke-width="1.0"/>
<circle cx="28.10" cy="84.10" r="2.35" fill="#EB5F24" stroke="#241a12" stroke-width="1.0"/>
<circle cx="49.80" cy="83.20" r="2.35" fill="#EB5F24" stroke="#241a12" stroke-width="1.0"/>
<circle cx="47.90" cy="102.80" r="2.35" fill="#EB5F24" stroke="#241a12" stroke-width="1.0"/>
<circle cx="37.70" cy="109.20" r="2.35" fill="#EB5F24" stroke="#241a12" stroke-width="1.0"/>
<circle cx="46.20" cy="73.60" r="2.35" fill="#EB5F24" stroke="#241a12" stroke-width="1.0"/>
<circle cx="49.80" cy="62.90" r="1.90" fill="#EB5F24" stroke="#241a12" stroke-width="1.0"/>
<circle cx="38.50" cy="66.70" r="1.90" fill="#EB5F24" stroke="#241a12" stroke-width="1.0"/>
<circle cx="30.00" cy="68.80" r="1.90" fill="#EB5F24" stroke="#241a12" stroke-width="1.0"/>
<circle cx="61.50" cy="81.90" r="1.90" fill="#EB5F24" stroke="#241a12" stroke-width="1.0"/>
<circle cx="71.10" cy="81.90" r="1.90" fill="#EB5F24" stroke="#241a12" stroke-width="1.0"/>
<circle cx="22.50" cy="92.50" r="1.90" fill="#EB5F24" stroke="#241a12" stroke-width="1.0"/>
<circle cx="60.70" cy="94.50" r="1.90" fill="#EB5F24" stroke="#241a12" stroke-width="1.0"/>
<circle cx="79.60" cy="88.80" r="1.90" fill="#EB5F24" stroke="#241a12" stroke-width="1.0"/>
<circle cx="98.60" cy="85.10" r="1.90" fill="#EB5F24" stroke="#241a12" stroke-width="1.0"/>
<circle cx="117.40" cy="41.50" r="2.05" fill="#21646F" stroke="#241a12" stroke-width="1.0"/>
<circle cx="125.40" cy="47.90" r="2.05" fill="#21646F" stroke="#241a12" stroke-width="1.0"/>
<circle cx="118.70" cy="55.60" r="2.05" fill="#21646F" stroke="#241a12" stroke-width="1.0"/>
<circle cx="130.50" cy="58.70" r="2.05" fill="#21646F" stroke="#241a12" stroke-width="1.0"/>
<circle cx="112.60" cy="68.00" r="2.05" fill="#21646F" stroke="#241a12" stroke-width="1.0"/>
<circle cx="123.00" cy="67.50" r="2.05" fill="#21646F" stroke="#241a12" stroke-width="1.0"/>
<circle cx="101.30" cy="72.30" r="2.05" fill="#21646F" stroke="#241a12" stroke-width="1.0"/>
<circle cx="91.70" cy="71.20" r="2.05" fill="#21646F" stroke="#241a12" stroke-width="1.0"/>
<circle cx="79.60" cy="73.10" r="2.05" fill="#21646F" stroke="#241a12" stroke-width="1.0"/>
<circle cx="89.00" cy="80.80" r="2.05" fill="#21646F" stroke="#241a12" stroke-width="1.0"/>
<circle cx="106.90" cy="103.80" r="2.90" fill="#3a372b" stroke="#0e0d0a" stroke-width="1.0"/>
<circle cx="117.40" cy="104.60" r="2.90" fill="#3a372b" stroke="#0e0d0a" stroke-width="1.0"/>
<circle cx="98.90" cy="105.70" r="2.90" fill="#3a372b" stroke="#0e0d0a" stroke-width="1.0"/>
<circle cx="74.50" cy="109.70" r="2.90" fill="#3a372b" stroke="#0e0d0a" stroke-width="1.0"/>
<circle cx="82.80" cy="109.40" r="2.90" fill="#3a372b" stroke="#0e0d0a" stroke-width="1.0"/>
<circle cx="92.20" cy="108.90" r="2.90" fill="#3a372b" stroke="#0e0d0a" stroke-width="1.0"/>
<circle cx="111.80" cy="109.40" r="2.90" fill="#3a372b" stroke="#0e0d0a" stroke-width="1.0"/>
<circle cx="84.80" cy="117.30" r="2.90" fill="#3a372b" stroke="#0e0d0a" stroke-width="1.0"/>
<circle cx="98.10" cy="116.50" r="2.90" fill="#3a372b" stroke="#0e0d0a" stroke-width="1.0"/>
<circle cx="110.10" cy="116.10" r="2.90" fill="#3a372b" stroke="#0e0d0a" stroke-width="1.0"/>
<circle cx="91.40" cy="121.80" r="2.90" fill="#3a372b" stroke="#0e0d0a" stroke-width="1.0"/>
<circle cx="105.30" cy="121.40" r="2.90" fill="#3a372b" stroke="#0e0d0a" stroke-width="1.0"/>
<circle cx="123.00" cy="111.80" r="2.30" fill="#3a372b" stroke="#0e0d0a" stroke-width="1.0"/>
<circle cx="120.60" cy="120.50" r="2.30" fill="#3a372b" stroke="#0e0d0a" stroke-width="1.0"/>
<circle cx="75.30" cy="126.60" r="2.30" fill="#3a372b" stroke="#0e0d0a" stroke-width="1.0"/>
<circle cx="83.70" cy="129.00" r="2.30" fill="#3a372b" stroke="#0e0d0a" stroke-width="1.0"/>
<circle cx="73.20" cy="118.20" r="2.30" fill="#3a372b" stroke="#0e0d0a" stroke-width="1.0"/>
<circle cx="71.60" cy="96.10" r="1.80" fill="#3a372b" stroke="#0e0d0a" stroke-width="1.0"/>
<circle cx="89.80" cy="93.70" r="1.80" fill="#3a372b" stroke="#0e0d0a" stroke-width="1.0"/>
<circle cx="109.30" cy="92.00" r="1.80" fill="#3a372b" stroke="#0e0d0a" stroke-width="1.0"/>
<circle cx="121.70" cy="91.60" r="1.80" fill="#3a372b" stroke="#0e0d0a" stroke-width="1.0"/>
<circle cx="129.10" cy="102.50" r="1.80" fill="#3a372b" stroke="#0e0d0a" stroke-width="1.0"/>
<circle cx="96.00" cy="129.50" r="1.80" fill="#3a372b" stroke="#0e0d0a" stroke-width="1.0"/>
<circle cx="115.40" cy="128.50" r="1.80" fill="#3a372b" stroke="#0e0d0a" stroke-width="1.0"/>
<circle cx="63.00" cy="105.40" r="1.80" fill="#3a372b" stroke="#0e0d0a" stroke-width="1.0"/>
<circle cx="54.60" cy="113.70" r="1.80" fill="#3a372b" stroke="#0e0d0a" stroke-width="1.0"/>
<circle cx="63.00" cy="120.10" r="1.80" fill="#3a372b" stroke="#0e0d0a" stroke-width="1.0"/>
<circle cx="65.00" cy="133.80" r="1.80" fill="#3a372b" stroke="#0e0d0a" stroke-width="1.0"/>
<circle cx="45.40" cy="29.90" r="1.75" fill="#e9e9e9" stroke="#333" stroke-width="1.0"/>
<circle cx="36.60" cy="35.60" r="1.75" fill="#e9e9e9" stroke="#333" stroke-width="1.0"/>
<circle cx="47.10" cy="42.60" r="1.75" fill="#e9e9e9" stroke="#333" stroke-width="1.0"/>
<circle cx="32.40" cy="44.40" r="1.75" fill="#e9e9e9" stroke="#333" stroke-width="1.0"/>
<circle cx="22.00" cy="52.70" r="1.75" fill="#e9e9e9" stroke="#333" stroke-width="1.0"/>
<circle cx="18.90" cy="62.70" r="1.75" fill="#e9e9e9" stroke="#333" stroke-width="1.0"/>
<circle cx="16.90" cy="73.90" r="1.75" fill="#e9e9e9" stroke="#333" stroke-width="1.0"/>
<circle cx="14.00" cy="84.10" r="1.75" fill="#e9e9e9" stroke="#333" stroke-width="1.0"/>
<circle cx="16.90" cy="103.80" r="1.75" fill="#e9e9e9" stroke="#333" stroke-width="1.0"/>
<circle cx="22.50" cy="113.20" r="1.75" fill="#e9e9e9" stroke="#333" stroke-width="1.0"/>
<circle cx="30.80" cy="120.10" r="1.75" fill="#e9e9e9" stroke="#333" stroke-width="1.0"/>
<circle cx="43.70" cy="121.80" r="1.75" fill="#e9e9e9" stroke="#333" stroke-width="1.0"/>
<circle cx="36.10" cy="128.70" r="1.75" fill="#e9e9e9" stroke="#333" stroke-width="1.0"/>
<circle cx="53.30" cy="127.90" r="1.75" fill="#e9e9e9" stroke="#333" stroke-width="1.0"/>
<circle cx="43.70" cy="135.90" r="1.75" fill="#e9e9e9" stroke="#333" stroke-width="1.0"/>
<circle cx="53.00" cy="138.60" r="1.75" fill="#e9e9e9" stroke="#333" stroke-width="1.0"/>
<circle cx="65.00" cy="145.00" r="1.75" fill="#e9e9e9" stroke="#333" stroke-width="1.0"/>
<circle cx="75.60" cy="144.20" r="1.75" fill="#e9e9e9" stroke="#333" stroke-width="1.0"/>
<circle cx="88.00" cy="143.90" r="1.75" fill="#e9e9e9" stroke="#333" stroke-width="1.0"/>
<circle cx="99.70" cy="141.00" r="1.75" fill="#e9e9e9" stroke="#333" stroke-width="1.0"/>
<circle cx="133.80" cy="71.20" r="1.75" fill="#e9e9e9" stroke="#333" stroke-width="1.0"/>
<circle cx="124.60" cy="79.20" r="1.75" fill="#e9e9e9" stroke="#333" stroke-width="1.0"/>
<circle cx="113.70" cy="80.00" r="1.75" fill="#e9e9e9" stroke="#333" stroke-width="1.0"/>
<circle cx="135.40" cy="82.40" r="1.75" fill="#e9e9e9" stroke="#333" stroke-width="1.0"/>
<circle cx="135.00" cy="92.50" r="1.75" fill="#e9e9e9" stroke="#333" stroke-width="1.0"/>
<path d="M47.00,204.50 Q48.68,203.20 50.80,203.00" fill="none" stroke="#F2A33A" stroke-width="0.85" stroke-opacity="0.95"/>
<path d="M47.00,204.50 Q43.17,207.57 44.00,212.40" fill="none" stroke="#F2A33A" stroke-width="0.85" stroke-opacity="0.95"/>
<path d="M47.00,204.50 Q48.31,208.42 52.30,209.50" fill="none" stroke="#F2A33A" stroke-width="0.85" stroke-opacity="0.95"/>
<path d="M47.00,204.50 Q45.62,210.58 48.70,216.00" fill="none" stroke="#F2A33A" stroke-width="0.85" stroke-opacity="0.95"/>
<path d="M47.00,204.50 Q52.83,202.23 57.90,205.90" fill="none" stroke="#F2A33A" stroke-width="0.85" stroke-opacity="0.95"/>
<path d="M47.00,204.50 Q53.84,203.63 56.50,210.00" fill="none" stroke="#F2A33A" stroke-width="0.85" stroke-opacity="0.95"/>
<path d="M47.00,204.50 Q44.32,205.39 42.00,207.00" fill="none" stroke="#F2A33A" stroke-width="0.85" stroke-opacity="0.95"/>
<path d="M47.00,204.50 Q42.78,208.14 38.00,211.00" fill="none" stroke="#F2A33A" stroke-width="0.85" stroke-opacity="0.95"/>
<path d="M50.80,203.00 Q46.91,207.35 44.00,212.40" fill="none" stroke="#F2A33A" stroke-width="0.85" stroke-opacity="0.95"/>
<path d="M50.80,203.00 Q47.34,206.26 47.50,211.00" fill="none" stroke="#F2A33A" stroke-width="0.85" stroke-opacity="0.95"/>
<path d="M50.80,203.00 Q51.38,206.29 52.30,209.50" fill="none" stroke="#F2A33A" stroke-width="0.85" stroke-opacity="0.95"/>
<path d="M44.00,212.40 Q45.39,210.80 47.50,211.00" fill="none" stroke="#F2A33A" stroke-width="0.85" stroke-opacity="0.95"/>
<path d="M44.00,212.40 Q48.67,212.45 52.30,209.50" fill="none" stroke="#F2A33A" stroke-width="0.85" stroke-opacity="0.95"/>
<path d="M44.00,212.40 Q40.54,216.62 35.10,216.20" fill="none" stroke="#F2A33A" stroke-width="0.85" stroke-opacity="0.95"/>
<path d="M44.00,212.40 Q40.61,213.82 39.80,217.40" fill="none" stroke="#F2A33A" stroke-width="0.85" stroke-opacity="0.95"/>
<path d="M44.00,212.40 Q45.83,214.87 48.70,216.00" fill="none" stroke="#F2A33A" stroke-width="0.85" stroke-opacity="0.95"/>
<path d="M44.00,212.40 Q47.48,216.74 53.00,216.00" fill="none" stroke="#F2A33A" stroke-width="0.85" stroke-opacity="0.95"/>
<path d="M44.00,212.40 Q40.89,217.14 40.80,222.80" fill="none" stroke="#F2A33A" stroke-width="0.85" stroke-opacity="0.95"/>
<path d="M44.00,212.40 Q42.76,218.33 46.50,223.10" fill="none" stroke="#F2A33A" stroke-width="0.85" stroke-opacity="0.95"/>
<path d="M44.00,212.40 Q50.01,210.65 54.30,215.20" fill="none" stroke="#F2A33A" stroke-width="0.85" stroke-opacity="0.95"/>
<path d="M44.00,212.40 Q42.01,210.07 42.00,207.00" fill="none" stroke="#F2A33A" stroke-width="0.85" stroke-opacity="0.95"/>
<path d="M44.00,212.40 Q40.65,213.20 38.00,211.00" fill="none" stroke="#F2A33A" stroke-width="0.85" stroke-opacity="0.95"/>
<path d="M47.50,211.00 Q49.59,209.26 52.30,209.50" fill="none" stroke="#F2A33A" stroke-width="0.85" stroke-opacity="0.95"/>
<path d="M47.50,211.00 Q43.34,213.83 39.80,217.40" fill="none" stroke="#F2A33A" stroke-width="0.85" stroke-opacity="0.95"/>
<path d="M47.50,211.00 Q45.69,213.71 44.40,216.70" fill="none" stroke="#F2A33A" stroke-width="0.85" stroke-opacity="0.95"/>
<path d="M47.50,211.00 Q48.80,215.09 53.00,216.00" fill="none" stroke="#F2A33A" stroke-width="0.85" stroke-opacity="0.95"/>
<path d="M47.50,211.00 Q53.49,210.06 57.90,205.90" fill="none" stroke="#F2A33A" stroke-width="0.85" stroke-opacity="0.95"/>
<path d="M47.50,211.00 Q51.57,212.01 54.30,215.20" fill="none" stroke="#F2A33A" stroke-width="0.85" stroke-opacity="0.95"/>
<path d="M47.50,211.00 Q52.20,212.31 56.50,210.00" fill="none" stroke="#F2A33A" stroke-width="0.85" stroke-opacity="0.95"/>
<path d="M47.50,211.00 Q45.81,207.54 42.00,207.00" fill="none" stroke="#F2A33A" stroke-width="0.85" stroke-opacity="0.95"/>
<path d="M52.30,209.50 Q51.01,216.02 44.40,216.70" fill="none" stroke="#F2A33A" stroke-width="0.85" stroke-opacity="0.95"/>
<path d="M52.30,209.50 Q50.30,212.64 48.70,216.00" fill="none" stroke="#F2A33A" stroke-width="0.85" stroke-opacity="0.95"/>
<path d="M52.30,209.50 Q53.83,212.62 53.00,216.00" fill="none" stroke="#F2A33A" stroke-width="0.85" stroke-opacity="0.95"/>
<path d="M52.30,209.50 Q53.85,205.76 57.90,205.90" fill="none" stroke="#F2A33A" stroke-width="0.85" stroke-opacity="0.95"/>
<path d="M52.30,209.50 Q55.74,212.55 60.30,213.10" fill="none" stroke="#F2A33A" stroke-width="0.85" stroke-opacity="0.95"/>
<path d="M52.30,209.50 Q53.13,212.41 54.30,215.20" fill="none" stroke="#F2A33A" stroke-width="0.85" stroke-opacity="0.95"/>
<path d="M52.30,209.50 Q54.55,208.45 56.50,210.00" fill="none" stroke="#F2A33A" stroke-width="0.85" stroke-opacity="0.95"/>
<path d="M52.30,209.50 Q56.52,208.26 60.88,208.88" fill="none" stroke="#F2A33A" stroke-width="0.85" stroke-opacity="0.95"/>
<path d="M35.10,216.20 Q37.48,216.67 39.80,217.40" fill="none" stroke="#F2A33A" stroke-width="0.85" stroke-opacity="0.95"/>
<path d="M35.10,216.20 Q39.60,219.24 44.40,216.70" fill="none" stroke="#F2A33A" stroke-width="0.85" stroke-opacity="0.95"/>
<path d="M35.10,216.20 Q37.66,219.75 40.80,222.80" fill="none" stroke="#F2A33A" stroke-width="0.85" stroke-opacity="0.95"/>
<path d="M35.10,216.20 Q37.71,221.92 36.50,228.10" fill="none" stroke="#F2A33A" stroke-width="0.85" stroke-opacity="0.95"/>
<path d="M35.10,216.20 Q37.70,214.24 38.00,211.00" fill="none" stroke="#F2A33A" stroke-width="0.85" stroke-opacity="0.95"/>
<path d="M39.80,217.40 Q42.26,218.13 44.40,216.70" fill="none" stroke="#F2A33A" stroke-width="0.85" stroke-opacity="0.95"/>
<path d="M39.80,217.40 Q44.57,218.74 48.70,216.00" fill="none" stroke="#F2A33A" stroke-width="0.85" stroke-opacity="0.95"/>
<path d="M39.80,217.40 Q41.52,219.87 40.80,222.80" fill="none" stroke="#F2A33A" stroke-width="0.85" stroke-opacity="0.95"/>
<path d="M39.80,217.40 Q38.66,222.91 36.50,228.10" fill="none" stroke="#F2A33A" stroke-width="0.85" stroke-opacity="0.95"/>
<path d="M39.80,217.40 Q44.02,222.03 40.80,227.40" fill="none" stroke="#F2A33A" stroke-width="0.85" stroke-opacity="0.95"/>
<path d="M39.80,217.40 Q43.85,212.82 42.00,207.00" fill="none" stroke="#F2A33A" stroke-width="0.85" stroke-opacity="0.95"/>
<path d="M39.80,217.40 Q40.36,213.79 38.00,211.00" fill="none" stroke="#F2A33A" stroke-width="0.85" stroke-opacity="0.95"/>
<path d="M44.40,216.70 Q48.80,217.54 53.00,216.00" fill="none" stroke="#F2A33A" stroke-width="0.85" stroke-opacity="0.95"/>
<path d="M44.40,216.70 Q43.72,220.41 40.80,222.80" fill="none" stroke="#F2A33A" stroke-width="0.85" stroke-opacity="0.95"/>
<path d="M44.40,216.70 Q45.52,219.88 46.50,223.10" fill="none" stroke="#F2A33A" stroke-width="0.85" stroke-opacity="0.95"/>
<path d="M44.40,216.70 Q47.57,220.69 51.60,223.80" fill="none" stroke="#F2A33A" stroke-width="0.85" stroke-opacity="0.95"/>
<path d="M44.40,216.70 Q49.18,214.83 54.30,215.20" fill="none" stroke="#F2A33A" stroke-width="0.85" stroke-opacity="0.95"/>
<path d="M44.40,216.70 Q40.02,215.17 38.00,211.00" fill="none" stroke="#F2A33A" stroke-width="0.85" stroke-opacity="0.95"/>
<path d="M48.70,216.00 Q44.18,218.73 40.80,222.80" fill="none" stroke="#F2A33A" stroke-width="0.85" stroke-opacity="0.95"/>
<path d="M48.70,216.00 Q48.15,220.64 51.60,223.80" fill="none" stroke="#F2A33A" stroke-width="0.85" stroke-opacity="0.95"/>
<path d="M48.70,216.00 Q55.14,217.09 60.30,213.10" fill="none" stroke="#F2A33A" stroke-width="0.85" stroke-opacity="0.95"/>
<path d="M48.70,216.00 Q51.64,216.56 54.30,215.20" fill="none" stroke="#F2A33A" stroke-width="0.85" stroke-opacity="0.95"/>
<path d="M48.70,216.00 Q51.94,220.67 57.20,222.80" fill="none" stroke="#F2A33A" stroke-width="0.85" stroke-opacity="0.95"/>
<path d="M48.70,216.00 Q52.72,213.15 56.50,210.00" fill="none" stroke="#F2A33A" stroke-width="0.85" stroke-opacity="0.95"/>
<path d="M48.70,216.00 Q45.16,209.62 38.00,211.00" fill="none" stroke="#F2A33A" stroke-width="0.85" stroke-opacity="0.95"/>
<path d="M53.00,216.00 Q49.94,219.73 46.50,223.10" fill="none" stroke="#F2A33A" stroke-width="0.85" stroke-opacity="0.95"/>
<path d="M53.00,216.00 Q56.35,213.81 60.30,213.10" fill="none" stroke="#F2A33A" stroke-width="0.85" stroke-opacity="0.95"/>
<path d="M53.00,216.00 Q53.81,215.86 54.30,215.20" fill="none" stroke="#F2A33A" stroke-width="0.85" stroke-opacity="0.95"/>
<path d="M53.00,216.00 Q56.26,215.16 57.90,218.10" fill="none" stroke="#F2A33A" stroke-width="0.85" stroke-opacity="0.95"/>
<path d="M53.00,216.00 Q58.35,217.21 63.60,218.80" fill="none" stroke="#F2A33A" stroke-width="0.85" stroke-opacity="0.95"/>
<path d="M53.00,216.00 Q56.84,218.32 57.20,222.80" fill="none" stroke="#F2A33A" stroke-width="0.85" stroke-opacity="0.95"/>
<path d="M40.80,222.80 Q43.73,221.50 46.50,223.10" fill="none" stroke="#F2A33A" stroke-width="0.85" stroke-opacity="0.95"/>
<path d="M40.80,222.80 Q46.03,225.16 51.60,223.80" fill="none" stroke="#F2A33A" stroke-width="0.85" stroke-opacity="0.95"/>
<path d="M40.80,222.80 Q38.91,225.66 36.50,228.10" fill="none" stroke="#F2A33A" stroke-width="0.85" stroke-opacity="0.95"/>
<path d="M40.80,222.80 Q42.50,225.10 40.80,227.40" fill="none" stroke="#F2A33A" stroke-width="0.85" stroke-opacity="0.95"/>
<path d="M40.80,222.80 Q41.67,226.40 44.40,228.90" fill="none" stroke="#F2A33A" stroke-width="0.85" stroke-opacity="0.95"/>
<path d="M40.80,222.80 Q46.15,225.36 48.00,231.00" fill="none" stroke="#F2A33A" stroke-width="0.85" stroke-opacity="0.95"/>
<path d="M46.50,223.10 Q49.17,222.54 51.60,223.80" fill="none" stroke="#F2A33A" stroke-width="0.85" stroke-opacity="0.95"/>
<path d="M46.50,223.10 Q40.18,222.95 36.50,228.10" fill="none" stroke="#F2A33A" stroke-width="0.85" stroke-opacity="0.95"/>
<path d="M46.50,223.10 Q42.97,224.35 40.80,227.40" fill="none" stroke="#F2A33A" stroke-width="0.85" stroke-opacity="0.95"/>
<path d="M46.50,223.10 Q44.37,225.61 44.40,228.90" fill="none" stroke="#F2A33A" stroke-width="0.85" stroke-opacity="0.95"/>
<path d="M46.50,223.10 Q51.74,223.77 53.00,228.90" fill="none" stroke="#F2A33A" stroke-width="0.85" stroke-opacity="0.95"/>
<path d="M46.50,223.10 Q50.56,219.30 54.30,215.20" fill="none" stroke="#F2A33A" stroke-width="0.85" stroke-opacity="0.95"/>
<path d="M46.50,223.10 Q51.80,221.23 57.20,222.80" fill="none" stroke="#F2A33A" stroke-width="0.85" stroke-opacity="0.95"/>
<path d="M46.50,223.10 Q44.20,227.63 48.00,231.00" fill="none" stroke="#F2A33A" stroke-width="0.85" stroke-opacity="0.95"/>
<path d="M51.60,223.80 Q46.21,225.63 40.80,227.40" fill="none" stroke="#F2A33A" stroke-width="0.85" stroke-opacity="0.95"/>
<path d="M51.60,223.80 Q53.38,226.05 53.00,228.90" fill="none" stroke="#F2A33A" stroke-width="0.85" stroke-opacity="0.95"/>
<path d="M51.60,223.80 Q54.37,229.77 50.80,235.30" fill="none" stroke="#F2A33A" stroke-width="0.85" stroke-opacity="0.95"/>
<path d="M51.60,223.80 Q56.41,222.11 61.50,222.40" fill="none" stroke="#F2A33A" stroke-width="0.85" stroke-opacity="0.95"/>
<path d="M51.60,223.80 Q57.14,224.14 60.00,228.90" fill="none" stroke="#F2A33A" stroke-width="0.85" stroke-opacity="0.95"/>
<path d="M51.60,223.80 Q55.56,227.66 57.00,233.00" fill="none" stroke="#F2A33A" stroke-width="0.85" stroke-opacity="0.95"/>
<path d="M36.50,228.10 Q38.75,228.34 40.80,227.40" fill="none" stroke="#F2A33A" stroke-width="0.85" stroke-opacity="0.95"/>
<path d="M36.50,228.10 Q40.64,226.64 44.40,228.90" fill="none" stroke="#F2A33A" stroke-width="0.85" stroke-opacity="0.95"/>
<path d="M36.50,228.10 Q42.90,226.96 48.00,231.00" fill="none" stroke="#F2A33A" stroke-width="0.85" stroke-opacity="0.95"/>
<path d="M40.80,227.40 Q43.17,231.66 48.00,231.00" fill="none" stroke="#F2A33A" stroke-width="0.85" stroke-opacity="0.95"/>
<path d="M44.40,228.90 Q45.44,234.26 50.80,235.30" fill="none" stroke="#F2A33A" stroke-width="0.85" stroke-opacity="0.95"/>
<path d="M53.00,228.90 Q49.47,231.27 50.80,235.30" fill="none" stroke="#F2A33A" stroke-width="0.85" stroke-opacity="0.95"/>
<path d="M53.00,228.90 Q56.66,224.05 57.90,218.10" fill="none" stroke="#F2A33A" stroke-width="0.85" stroke-opacity="0.95"/>
<path d="M53.00,228.90 Q56.14,226.56 57.20,222.80" fill="none" stroke="#F2A33A" stroke-width="0.85" stroke-opacity="0.95"/>
<path d="M53.00,228.90 Q58.66,227.50 61.50,222.40" fill="none" stroke="#F2A33A" stroke-width="0.85" stroke-opacity="0.95"/>
<path d="M53.00,228.90 Q49.93,228.60 48.00,231.00" fill="none" stroke="#F2A33A" stroke-width="0.85" stroke-opacity="0.95"/>
<path d="M53.00,228.90 Q56.51,229.48 57.00,233.00" fill="none" stroke="#F2A33A" stroke-width="0.85" stroke-opacity="0.95"/>
<path d="M50.80,235.30 Q47.80,234.19 48.00,231.00" fill="none" stroke="#F2A33A" stroke-width="0.85" stroke-opacity="0.95"/>
<path d="M50.80,235.30 Q54.19,234.92 57.00,233.00" fill="none" stroke="#F2A33A" stroke-width="0.85" stroke-opacity="0.95"/>
<path d="M57.90,205.90 Q59.85,209.25 60.30,213.10" fill="none" stroke="#F2A33A" stroke-width="0.85" stroke-opacity="0.95"/>
<path d="M57.90,205.90 Q54.57,209.96 54.30,215.20" fill="none" stroke="#F2A33A" stroke-width="0.85" stroke-opacity="0.95"/>
<path d="M57.90,205.90 Q56.06,207.56 56.50,210.00" fill="none" stroke="#F2A33A" stroke-width="0.85" stroke-opacity="0.95"/>
<path d="M57.90,205.90 Q58.73,208.05 60.88,208.88" fill="none" stroke="#F2A33A" stroke-width="0.85" stroke-opacity="0.95"/>
<path d="M60.30,213.10 Q57.96,216.03 54.30,215.20" fill="none" stroke="#F2A33A" stroke-width="0.85" stroke-opacity="0.95"/>
<path d="M60.30,213.10 Q61.04,216.48 63.60,218.80" fill="none" stroke="#F2A33A" stroke-width="0.85" stroke-opacity="0.95"/>
<path d="M60.30,213.10 Q57.25,212.96 56.50,210.00" fill="none" stroke="#F2A33A" stroke-width="0.85" stroke-opacity="0.95"/>
<path d="M60.30,213.10 Q61.72,211.14 60.88,208.88" fill="none" stroke="#F2A33A" stroke-width="0.85" stroke-opacity="0.95"/>
<path d="M54.30,215.20 Q56.80,215.79 57.90,218.10" fill="none" stroke="#F2A33A" stroke-width="0.85" stroke-opacity="0.95"/>
<path d="M54.30,215.20 Q53.34,219.92 57.20,222.80" fill="none" stroke="#F2A33A" stroke-width="0.85" stroke-opacity="0.95"/>
<path d="M54.30,215.20 Q59.37,217.33 61.50,222.40" fill="none" stroke="#F2A33A" stroke-width="0.85" stroke-opacity="0.95"/>
<path d="M54.30,215.20 Q58.37,212.85 60.88,208.88" fill="none" stroke="#F2A33A" stroke-width="0.85" stroke-opacity="0.95"/>
<path d="M57.90,218.10 Q60.92,217.05 63.60,218.80" fill="none" stroke="#F2A33A" stroke-width="0.85" stroke-opacity="0.95"/>
<path d="M57.90,218.10 Q57.19,220.40 57.20,222.80" fill="none" stroke="#F2A33A" stroke-width="0.85" stroke-opacity="0.95"/>
<path d="M57.90,218.10 Q58.61,221.16 61.50,222.40" fill="none" stroke="#F2A33A" stroke-width="0.85" stroke-opacity="0.95"/>
<path d="M57.90,218.10 Q61.50,223.00 60.00,228.90" fill="none" stroke="#F2A33A" stroke-width="0.85" stroke-opacity="0.95"/>
<path d="M57.90,218.10 Q60.00,213.57 56.50,210.00" fill="none" stroke="#F2A33A" stroke-width="0.85" stroke-opacity="0.95"/>
<path d="M57.90,218.10 Q61.78,214.26 60.88,208.88" fill="none" stroke="#F2A33A" stroke-width="0.85" stroke-opacity="0.95"/>
<path d="M63.60,218.80 Q63.48,221.14 61.50,222.40" fill="none" stroke="#F2A33A" stroke-width="0.85" stroke-opacity="0.95"/>
<path d="M63.60,218.80 Q63.05,224.30 60.00,228.90" fill="none" stroke="#F2A33A" stroke-width="0.85" stroke-opacity="0.95"/>
<path d="M63.60,218.80 Q59.62,214.75 56.50,210.00" fill="none" stroke="#F2A33A" stroke-width="0.85" stroke-opacity="0.95"/>
<path d="M63.60,218.80 Q62.79,213.69 60.88,208.88" fill="none" stroke="#F2A33A" stroke-width="0.85" stroke-opacity="0.95"/>
<path d="M57.20,222.80 Q59.48,224.01 61.50,222.40" fill="none" stroke="#F2A33A" stroke-width="0.85" stroke-opacity="0.95"/>
<path d="M57.20,222.80 Q60.96,224.77 60.00,228.90" fill="none" stroke="#F2A33A" stroke-width="0.85" stroke-opacity="0.95"/>
<path d="M57.20,222.80 Q60.30,227.96 57.00,233.00" fill="none" stroke="#F2A33A" stroke-width="0.85" stroke-opacity="0.95"/>
<path d="M61.50,222.40 Q58.61,225.16 60.00,228.90" fill="none" stroke="#F2A33A" stroke-width="0.85" stroke-opacity="0.95"/>
<path d="M60.00,228.90 Q59.98,232.03 57.00,233.00" fill="none" stroke="#F2A33A" stroke-width="0.85" stroke-opacity="0.95"/>
<path d="M56.50,210.00 Q58.33,208.04 60.88,208.88" fill="none" stroke="#F2A33A" stroke-width="0.85" stroke-opacity="0.95"/>
<path d="M48.00,231.00 Q52.39,232.50 57.00,233.00" fill="none" stroke="#F2A33A" stroke-width="0.85" stroke-opacity="0.95"/>
<path d="M52.30,189.00 Q50.24,203.06 60.30,213.10" fill="none" stroke="#F2A33A" stroke-width="0.95" stroke-opacity="0.95"/>
<path d="M52.30,189.00 Q33.13,203.28 46.50,223.10" fill="none" stroke="#F2A33A" stroke-width="0.95" stroke-opacity="0.95"/>
<path d="M52.30,189.00 Q48.06,191.50 47.00,196.30" fill="none" stroke="#F2A33A" stroke-width="0.95" stroke-opacity="0.95"/>
<path d="M47.00,196.30 Q58.55,205.15 63.60,218.80" fill="none" stroke="#F2A33A" stroke-width="0.95" stroke-opacity="0.95"/>
<path d="M47.00,196.30 Q38.50,206.96 48.70,216.00" fill="none" stroke="#F2A33A" stroke-width="0.95" stroke-opacity="0.95"/>
<path d="M37.20,202.30 Q56.84,211.29 48.00,231.00" fill="none" stroke="#F2A33A" stroke-width="0.95" stroke-opacity="0.95"/>
<path d="M37.20,202.30 Q38.54,208.73 44.00,212.40" fill="none" stroke="#F2A33A" stroke-width="0.95" stroke-opacity="0.95"/>
<path d="M37.20,202.30 Q35.31,204.13 34.40,206.60" fill="none" stroke="#F2A33A" stroke-width="0.95" stroke-opacity="0.95"/>
<path d="M34.40,206.60 Q38.95,214.74 47.50,211.00" fill="none" stroke="#F2A33A" stroke-width="0.95" stroke-opacity="0.95"/>
<path d="M34.40,206.60 Q45.73,220.53 63.60,218.80" fill="none" stroke="#F2A33A" stroke-width="0.95" stroke-opacity="0.95"/>
<path d="M34.40,206.60 Q36.09,204.64 37.20,202.30" fill="none" stroke="#F2A33A" stroke-width="0.95" stroke-opacity="0.95"/>
<path d="M31.20,213.10 Q46.34,215.72 48.00,231.00" fill="none" stroke="#F2A33A" stroke-width="0.95" stroke-opacity="0.95"/>
<path d="M31.20,213.10 Q38.07,215.90 40.80,222.80" fill="none" stroke="#F2A33A" stroke-width="0.95" stroke-opacity="0.95"/>
<path d="M31.20,213.10 Q32.89,214.97 35.10,216.20" fill="none" stroke="#F2A33A" stroke-width="0.95" stroke-opacity="0.95"/>
<path d="M32.20,221.00 Q39.17,221.31 44.40,216.70" fill="none" stroke="#F2A33A" stroke-width="0.95" stroke-opacity="0.95"/>
<path d="M32.20,221.00 Q35.16,217.42 39.80,217.40" fill="none" stroke="#F2A33A" stroke-width="0.95" stroke-opacity="0.95"/>
<path d="M32.20,221.00 Q33.41,222.60 33.60,224.60" fill="none" stroke="#F2A33A" stroke-width="0.95" stroke-opacity="0.95"/>
<path d="M24.30,226.00 Q36.25,229.27 39.80,217.40" fill="none" stroke="#F2A33A" stroke-width="0.95" stroke-opacity="0.95"/>
<path d="M24.30,226.00 Q34.68,225.13 44.40,228.90" fill="none" stroke="#F2A33A" stroke-width="0.95" stroke-opacity="0.95"/>
<path d="M33.60,224.60 Q40.79,219.66 48.70,216.00" fill="none" stroke="#F2A33A" stroke-width="0.95" stroke-opacity="0.95"/>
<path d="M33.60,224.60 Q43.50,220.76 53.00,216.00" fill="none" stroke="#F2A33A" stroke-width="0.95" stroke-opacity="0.95"/>
<path d="M33.60,224.60 Q33.34,222.63 32.20,221.00" fill="none" stroke="#F2A33A" stroke-width="0.95" stroke-opacity="0.95"/>
<path d="M21.50,229.60 Q41.09,235.32 57.20,222.80" fill="none" stroke="#F2A33A" stroke-width="0.95" stroke-opacity="0.95"/>
<path d="M21.50,229.60 Q30.57,218.15 44.00,212.40" fill="none" stroke="#F2A33A" stroke-width="0.95" stroke-opacity="0.95"/>
<path d="M24.30,232.40 Q37.03,215.68 57.90,218.10" fill="none" stroke="#F2A33A" stroke-width="0.95" stroke-opacity="0.95"/>
<path d="M24.30,232.40 Q40.87,217.61 60.00,228.90" fill="none" stroke="#F2A33A" stroke-width="0.95" stroke-opacity="0.95"/>
<path d="M31.20,232.40 Q36.47,225.63 44.40,228.90" fill="none" stroke="#F2A33A" stroke-width="0.95" stroke-opacity="0.95"/>
<path d="M31.20,232.40 Q36.08,223.10 44.40,216.70" fill="none" stroke="#F2A33A" stroke-width="0.95" stroke-opacity="0.95"/>
<path d="M35.10,233.20 Q53.65,240.89 61.50,222.40" fill="none" stroke="#F2A33A" stroke-width="0.95" stroke-opacity="0.95"/>
<path d="M35.10,233.20 Q30.42,216.02 47.50,211.00" fill="none" stroke="#F2A33A" stroke-width="0.95" stroke-opacity="0.95"/>
<path d="M35.10,233.20 Q33.25,232.29 31.20,232.40" fill="none" stroke="#F2A33A" stroke-width="0.95" stroke-opacity="0.95"/>
<path d="M40.80,234.60 Q44.06,232.67 44.40,228.90" fill="none" stroke="#F2A33A" stroke-width="0.95" stroke-opacity="0.95"/>
<path d="M40.80,234.60 Q55.67,232.90 57.90,218.10" fill="none" stroke="#F2A33A" stroke-width="0.95" stroke-opacity="0.95"/>
<path d="M40.80,234.60 Q42.89,235.32 45.00,236.00" fill="none" stroke="#F2A33A" stroke-width="0.95" stroke-opacity="0.95"/>
<path d="M20.00,234.90 Q41.42,225.81 63.60,218.80" fill="none" stroke="#F2A33A" stroke-width="0.95" stroke-opacity="0.95"/>
<path d="M20.00,234.90 Q35.09,227.33 51.60,223.80" fill="none" stroke="#F2A33A" stroke-width="0.95" stroke-opacity="0.95"/>
<path d="M20.00,234.90 Q21.96,233.32 24.30,232.40" fill="none" stroke="#F2A33A" stroke-width="0.95" stroke-opacity="0.95"/>
<path d="M25.80,236.70 Q40.45,224.98 57.90,218.10" fill="none" stroke="#F2A33A" stroke-width="0.95" stroke-opacity="0.95"/>
<path d="M25.80,236.70 Q24.48,216.75 44.00,212.40" fill="none" stroke="#F2A33A" stroke-width="0.95" stroke-opacity="0.95"/>
<path d="M30.10,237.50 Q36.32,226.46 44.40,216.70" fill="none" stroke="#F2A33A" stroke-width="0.95" stroke-opacity="0.95"/>
<path d="M30.10,237.50 Q40.98,223.47 57.90,218.10" fill="none" stroke="#F2A33A" stroke-width="0.95" stroke-opacity="0.95"/>
<path d="M13.60,241.00 Q26.66,210.97 57.20,222.80" fill="none" stroke="#F2A33A" stroke-width="0.95" stroke-opacity="0.95"/>
<path d="M13.60,241.00 Q35.89,242.79 46.50,223.10" fill="none" stroke="#F2A33A" stroke-width="0.95" stroke-opacity="0.95"/>
<path d="M20.70,243.90 Q36.08,233.74 51.60,223.80" fill="none" stroke="#F2A33A" stroke-width="0.95" stroke-opacity="0.95"/>
<path d="M20.70,243.90 Q23.68,227.04 40.80,227.40" fill="none" stroke="#F2A33A" stroke-width="0.95" stroke-opacity="0.95"/>
<path d="M27.90,246.10 Q51.06,236.01 47.50,211.00" fill="none" stroke="#F2A33A" stroke-width="0.95" stroke-opacity="0.95"/>
<path d="M27.90,246.10 Q46.78,234.42 44.00,212.40" fill="none" stroke="#F2A33A" stroke-width="0.95" stroke-opacity="0.95"/>
<path d="M37.20,241.00 Q42.50,235.96 44.40,228.90" fill="none" stroke="#F2A33A" stroke-width="0.95" stroke-opacity="0.95"/>
<path d="M37.20,241.00 Q49.40,231.40 44.40,216.70" fill="none" stroke="#F2A33A" stroke-width="0.95" stroke-opacity="0.95"/>
<path d="M53.00,241.80 Q70.46,230.96 60.30,213.10" fill="none" stroke="#F2A33A" stroke-width="0.95" stroke-opacity="0.95"/>
<path d="M53.00,241.80 Q47.28,230.57 57.20,222.80" fill="none" stroke="#F2A33A" stroke-width="0.95" stroke-opacity="0.95"/>
<path d="M35.80,248.20 Q32.64,232.13 39.80,217.40" fill="none" stroke="#F2A33A" stroke-width="0.95" stroke-opacity="0.95"/>
<path d="M35.80,248.20 Q57.80,238.33 48.70,216.00" fill="none" stroke="#F2A33A" stroke-width="0.95" stroke-opacity="0.95"/>
<path d="M62.60,190.90 Q67.60,204.69 63.60,218.80" fill="none" stroke="#F2A33A" stroke-width="0.95" stroke-opacity="0.95"/>
<path d="M62.60,190.90 Q63.80,209.59 51.60,223.80" fill="none" stroke="#F2A33A" stroke-width="0.95" stroke-opacity="0.95"/>
<path d="M70.50,188.40 Q57.07,200.20 44.00,212.40" fill="none" stroke="#F2A33A" stroke-width="0.95" stroke-opacity="0.95"/>
<path d="M70.50,188.40 Q49.64,190.17 47.50,211.00" fill="none" stroke="#F2A33A" stroke-width="0.95" stroke-opacity="0.95"/>
<path d="M79.40,185.60 Q68.50,204.65 47.50,211.00" fill="none" stroke="#F2A33A" stroke-width="0.95" stroke-opacity="0.95"/>
<path d="M79.40,185.60 Q62.63,205.27 39.80,217.40" fill="none" stroke="#F2A33A" stroke-width="0.95" stroke-opacity="0.95"/>
<path d="M92.70,188.00 Q57.87,196.53 48.00,231.00" fill="none" stroke="#F2A33A" stroke-width="0.95" stroke-opacity="0.95"/>
<path d="M92.70,188.00 Q69.29,191.25 60.30,213.10" fill="none" stroke="#F2A33A" stroke-width="0.95" stroke-opacity="0.95"/>
<path d="M92.70,188.00 Q90.46,190.44 87.50,191.90" fill="none" stroke="#F2A33A" stroke-width="0.95" stroke-opacity="0.95"/>
<path d="M77.50,192.70 Q59.26,203.84 51.60,223.80" fill="none" stroke="#F2A33A" stroke-width="0.95" stroke-opacity="0.95"/>
<path d="M77.50,192.70 Q63.56,208.30 44.40,216.70" fill="none" stroke="#F2A33A" stroke-width="0.95" stroke-opacity="0.95"/>
<path d="M87.50,191.90 Q80.91,214.28 57.90,218.10" fill="none" stroke="#F2A33A" stroke-width="0.95" stroke-opacity="0.95"/>
<path d="M87.50,191.90 Q81.28,211.97 60.30,213.10" fill="none" stroke="#F2A33A" stroke-width="0.95" stroke-opacity="0.95"/>
<path d="M71.50,196.90 Q66.17,209.12 54.30,215.20" fill="none" stroke="#F2A33A" stroke-width="0.95" stroke-opacity="0.95"/>
<path d="M71.50,196.90 Q52.80,209.16 48.00,231.00" fill="none" stroke="#F2A33A" stroke-width="0.95" stroke-opacity="0.95"/>
<path d="M88.00,197.30 Q66.78,201.44 61.50,222.40" fill="none" stroke="#F2A33A" stroke-width="0.95" stroke-opacity="0.95"/>
<path d="M88.00,197.30 Q64.49,208.77 39.80,217.40" fill="none" stroke="#F2A33A" stroke-width="0.95" stroke-opacity="0.95"/>
<path d="M59.30,201.30 Q52.55,216.12 40.80,227.40" fill="none" stroke="#F2A33A" stroke-width="0.95" stroke-opacity="0.95"/>
<path d="M59.30,201.30 Q44.96,212.55 53.00,228.90" fill="none" stroke="#F2A33A" stroke-width="0.95" stroke-opacity="0.95"/>
<path d="M65.00,200.90 Q66.17,216.96 51.60,223.80" fill="none" stroke="#F2A33A" stroke-width="0.95" stroke-opacity="0.95"/>
<path d="M65.00,200.90 Q48.90,207.43 40.80,222.80" fill="none" stroke="#F2A33A" stroke-width="0.95" stroke-opacity="0.95"/>
<path d="M80.40,201.30 Q68.20,226.05 40.80,222.80" fill="none" stroke="#F2A33A" stroke-width="0.95" stroke-opacity="0.95"/>
<path d="M80.40,201.30 Q58.89,200.79 44.40,216.70" fill="none" stroke="#F2A33A" stroke-width="0.95" stroke-opacity="0.95"/>
<path d="M80.40,201.30 Q78.79,203.75 77.20,206.20" fill="none" stroke="#F2A33A" stroke-width="0.95" stroke-opacity="0.95"/>
<path d="M72.20,204.50 Q60.38,212.53 51.60,223.80" fill="none" stroke="#F2A33A" stroke-width="0.95" stroke-opacity="0.95"/>
<path d="M72.20,204.50 Q63.54,209.71 57.90,218.10" fill="none" stroke="#F2A33A" stroke-width="0.95" stroke-opacity="0.95"/>
<path d="M65.80,206.40 Q65.65,211.89 60.30,213.10" fill="none" stroke="#F2A33A" stroke-width="0.95" stroke-opacity="0.95"/>
<path d="M65.80,206.40 Q48.62,211.33 40.80,227.40" fill="none" stroke="#F2A33A" stroke-width="0.95" stroke-opacity="0.95"/>
<path d="M77.20,206.20 Q62.54,207.70 61.50,222.40" fill="none" stroke="#F2A33A" stroke-width="0.95" stroke-opacity="0.95"/>
<path d="M77.20,206.20 Q63.43,197.91 52.30,209.50" fill="none" stroke="#F2A33A" stroke-width="0.95" stroke-opacity="0.95"/>
<path d="M77.20,206.20 Q74.85,204.92 72.20,204.50" fill="none" stroke="#F2A33A" stroke-width="0.95" stroke-opacity="0.95"/>
<path d="M84.40,205.90 Q61.36,191.52 44.00,212.40" fill="none" stroke="#F2A33A" stroke-width="0.95" stroke-opacity="0.95"/>
<path d="M84.40,205.90 Q79.36,231.95 53.00,228.90" fill="none" stroke="#F2A33A" stroke-width="0.95" stroke-opacity="0.95"/>
<path d="M84.40,205.90 Q82.14,203.83 80.40,201.30" fill="none" stroke="#F2A33A" stroke-width="0.95" stroke-opacity="0.95"/>
<path d="M72.60,212.40 Q63.52,220.72 51.60,223.80" fill="none" stroke="#F2A33A" stroke-width="0.95" stroke-opacity="0.95"/>
<path d="M72.60,212.40 Q61.83,215.28 52.30,209.50" fill="none" stroke="#F2A33A" stroke-width="0.95" stroke-opacity="0.95"/>
<path d="M72.60,212.40 Q75.56,213.57 78.70,213.10" fill="none" stroke="#F2A33A" stroke-width="0.95" stroke-opacity="0.95"/>
<path d="M78.70,213.10 Q61.02,219.85 44.40,228.90" fill="none" stroke="#F2A33A" stroke-width="0.95" stroke-opacity="0.95"/>
<path d="M78.70,213.10 Q73.26,221.54 63.60,218.80" fill="none" stroke="#F2A33A" stroke-width="0.95" stroke-opacity="0.95"/>
<path d="M66.90,215.70 Q56.01,213.63 51.60,223.80" fill="none" stroke="#F2A33A" stroke-width="0.95" stroke-opacity="0.95"/>
<path d="M66.90,215.70 Q59.22,221.53 53.00,228.90" fill="none" stroke="#F2A33A" stroke-width="0.95" stroke-opacity="0.95"/>
<path d="M77.90,217.40 Q68.77,201.57 52.30,209.50" fill="none" stroke="#F2A33A" stroke-width="0.95" stroke-opacity="0.95"/>
<path d="M77.90,217.40 Q67.19,204.60 54.30,215.20" fill="none" stroke="#F2A33A" stroke-width="0.95" stroke-opacity="0.95"/>
<path d="M68.60,221.00 Q60.62,230.78 48.00,231.00" fill="none" stroke="#F2A33A" stroke-width="0.95" stroke-opacity="0.95"/>
<path d="M68.60,221.00 Q55.56,218.80 44.00,212.40" fill="none" stroke="#F2A33A" stroke-width="0.95" stroke-opacity="0.95"/>
<path d="M68.60,221.00 Q68.47,223.04 69.80,224.60" fill="none" stroke="#F2A33A" stroke-width="0.95" stroke-opacity="0.95"/>
<path d="M74.80,221.70 Q68.51,211.38 56.50,210.00" fill="none" stroke="#F2A33A" stroke-width="0.95" stroke-opacity="0.95"/>
<path d="M74.80,221.70 Q55.96,230.45 39.80,217.40" fill="none" stroke="#F2A33A" stroke-width="0.95" stroke-opacity="0.95"/>
<path d="M82.20,224.60 Q61.41,224.60 40.80,227.40" fill="none" stroke="#F2A33A" stroke-width="0.95" stroke-opacity="0.95"/>
<path d="M82.20,224.60 Q68.61,208.01 48.70,216.00" fill="none" stroke="#F2A33A" stroke-width="0.95" stroke-opacity="0.95"/>
<path d="M90.80,225.70 Q74.94,201.31 47.50,211.00" fill="none" stroke="#F2A33A" stroke-width="0.95" stroke-opacity="0.95"/>
<path d="M90.80,225.70 Q74.67,232.22 63.60,218.80" fill="none" stroke="#F2A33A" stroke-width="0.95" stroke-opacity="0.95"/>
<path d="M90.80,225.70 Q87.00,227.62 83.70,230.30" fill="none" stroke="#F2A33A" stroke-width="0.95" stroke-opacity="0.95"/>
<path d="M65.50,226.30 Q63.54,229.28 60.00,228.90" fill="none" stroke="#F2A33A" stroke-width="0.95" stroke-opacity="0.95"/>
<path d="M65.50,226.30 Q69.02,213.72 56.50,210.00" fill="none" stroke="#F2A33A" stroke-width="0.95" stroke-opacity="0.95"/>
<path d="M65.50,226.30 Q67.34,224.67 69.80,224.60" fill="none" stroke="#F2A33A" stroke-width="0.95" stroke-opacity="0.95"/>
<path d="M69.80,224.60 Q57.44,224.73 48.70,216.00" fill="none" stroke="#F2A33A" stroke-width="0.95" stroke-opacity="0.95"/>
<path d="M69.80,224.60 Q60.69,224.38 51.60,223.80" fill="none" stroke="#F2A33A" stroke-width="0.95" stroke-opacity="0.95"/>
<path d="M83.70,230.30 Q65.07,224.32 52.30,209.50" fill="none" stroke="#F2A33A" stroke-width="0.95" stroke-opacity="0.95"/>
<path d="M83.70,230.30 Q66.40,229.31 60.30,213.10" fill="none" stroke="#F2A33A" stroke-width="0.95" stroke-opacity="0.95"/>
<path d="M77.90,231.00 Q62.66,211.94 40.80,222.80" fill="none" stroke="#F2A33A" stroke-width="0.95" stroke-opacity="0.95"/>
<path d="M77.90,231.00 Q57.15,233.21 44.40,216.70" fill="none" stroke="#F2A33A" stroke-width="0.95" stroke-opacity="0.95"/>
<path d="M77.90,231.00 Q80.59,228.95 83.70,230.30" fill="none" stroke="#F2A33A" stroke-width="0.95" stroke-opacity="0.95"/>
<path d="M64.30,231.70 Q54.31,230.55 44.40,228.90" fill="none" stroke="#F2A33A" stroke-width="0.95" stroke-opacity="0.95"/>
<path d="M64.30,231.70 Q50.61,240.16 40.80,227.40" fill="none" stroke="#F2A33A" stroke-width="0.95" stroke-opacity="0.95"/>
<path d="M64.30,231.70 Q62.13,230.34 60.00,228.90" fill="none" stroke="#F2A33A" stroke-width="0.95" stroke-opacity="0.95"/>
<path d="M74.40,236.70 Q70.13,219.71 53.00,216.00" fill="none" stroke="#F2A33A" stroke-width="0.95" stroke-opacity="0.95"/>
<path d="M74.40,236.70 Q58.34,229.39 40.80,227.40" fill="none" stroke="#F2A33A" stroke-width="0.95" stroke-opacity="0.95"/>
<path d="M59.30,238.20 Q46.64,230.53 39.80,217.40" fill="none" stroke="#F2A33A" stroke-width="0.95" stroke-opacity="0.95"/>
<path d="M59.30,238.20 Q65.59,223.34 56.50,210.00" fill="none" stroke="#F2A33A" stroke-width="0.95" stroke-opacity="0.95"/>
<path d="M64.30,238.90 Q47.47,230.77 44.00,212.40" fill="none" stroke="#F2A33A" stroke-width="0.95" stroke-opacity="0.95"/>
<path d="M64.30,238.90 Q51.71,234.86 40.80,227.40" fill="none" stroke="#F2A33A" stroke-width="0.95" stroke-opacity="0.95"/>
<path d="M45.00,236.00 Q39.95,224.72 48.70,216.00" fill="none" stroke="#F2A33A" stroke-width="0.95" stroke-opacity="0.95"/>
<path d="M45.00,236.00 Q43.83,221.56 57.90,218.10" fill="none" stroke="#F2A33A" stroke-width="0.95" stroke-opacity="0.95"/>
<path d="M109.30,228.70 Q112.48,227.19 115.50,229.00" fill="none" stroke="#2C7382" stroke-width="0.85" stroke-opacity="0.95"/>
<path d="M109.30,228.70 Q114.83,229.12 116.50,234.40" fill="none" stroke="#2C7382" stroke-width="0.85" stroke-opacity="0.95"/>
<path d="M109.30,228.70 Q108.96,233.14 111.50,236.80" fill="none" stroke="#2C7382" stroke-width="0.85" stroke-opacity="0.95"/>
<path d="M109.30,228.70 Q109.23,233.06 106.00,236.00" fill="none" stroke="#2C7382" stroke-width="0.85" stroke-opacity="0.95"/>
<path d="M115.50,229.00 Q117.45,229.02 119.40,229.10" fill="none" stroke="#2C7382" stroke-width="0.85" stroke-opacity="0.95"/>
<path d="M115.50,229.00 Q114.12,232.78 110.10,233.00" fill="none" stroke="#2C7382" stroke-width="0.85" stroke-opacity="0.95"/>
<path d="M115.50,229.00 Q116.29,231.65 116.50,234.40" fill="none" stroke="#2C7382" stroke-width="0.85" stroke-opacity="0.95"/>
<path d="M115.50,229.00 Q116.50,233.95 121.20,235.80" fill="none" stroke="#2C7382" stroke-width="0.85" stroke-opacity="0.95"/>
<path d="M115.50,229.00 Q121.15,230.24 125.80,233.70" fill="none" stroke="#2C7382" stroke-width="0.85" stroke-opacity="0.95"/>
<path d="M115.50,229.00 Q118.23,234.66 115.10,240.10" fill="none" stroke="#2C7382" stroke-width="0.85" stroke-opacity="0.95"/>
<path d="M115.50,229.00 Q115.42,233.87 118.00,238.00" fill="none" stroke="#2C7382" stroke-width="0.85" stroke-opacity="0.95"/>
<path d="M119.40,229.10 Q121.38,232.16 121.20,235.80" fill="none" stroke="#2C7382" stroke-width="0.85" stroke-opacity="0.95"/>
<path d="M119.40,229.10 Q116.67,234.20 111.50,236.80" fill="none" stroke="#2C7382" stroke-width="0.85" stroke-opacity="0.95"/>
<path d="M119.40,229.10 Q120.74,235.97 115.10,240.10" fill="none" stroke="#2C7382" stroke-width="0.85" stroke-opacity="0.95"/>
<path d="M119.40,229.10 Q116.95,233.27 118.00,238.00" fill="none" stroke="#2C7382" stroke-width="0.85" stroke-opacity="0.95"/>
<path d="M110.10,233.00 Q113.27,233.82 116.50,234.40" fill="none" stroke="#2C7382" stroke-width="0.85" stroke-opacity="0.95"/>
<path d="M110.10,233.00 Q115.93,233.30 121.20,235.80" fill="none" stroke="#2C7382" stroke-width="0.85" stroke-opacity="0.95"/>
<path d="M110.10,233.00 Q114.93,234.91 115.10,240.10" fill="none" stroke="#2C7382" stroke-width="0.85" stroke-opacity="0.95"/>
<path d="M110.10,233.00 Q109.75,237.76 106.90,241.60" fill="none" stroke="#2C7382" stroke-width="0.85" stroke-opacity="0.95"/>
<path d="M116.50,234.40 Q118.90,234.92 121.20,235.80" fill="none" stroke="#2C7382" stroke-width="0.85" stroke-opacity="0.95"/>
<path d="M116.50,234.40 Q120.89,230.57 125.80,233.70" fill="none" stroke="#2C7382" stroke-width="0.85" stroke-opacity="0.95"/>
<path d="M116.50,234.40 Q113.58,234.73 111.50,236.80" fill="none" stroke="#2C7382" stroke-width="0.85" stroke-opacity="0.95"/>
<path d="M116.50,234.40 Q116.18,237.34 115.10,240.10" fill="none" stroke="#2C7382" stroke-width="0.85" stroke-opacity="0.95"/>
<path d="M116.50,234.40 Q119.40,237.27 120.80,241.10" fill="none" stroke="#2C7382" stroke-width="0.85" stroke-opacity="0.95"/>
<path d="M116.50,234.40 Q112.48,239.04 106.90,241.60" fill="none" stroke="#2C7382" stroke-width="0.85" stroke-opacity="0.95"/>
<path d="M116.50,234.40 Q111.08,234.11 106.00,236.00" fill="none" stroke="#2C7382" stroke-width="0.85" stroke-opacity="0.95"/>
<path d="M116.50,234.40 Q118.06,235.86 118.00,238.00" fill="none" stroke="#2C7382" stroke-width="0.85" stroke-opacity="0.95"/>
<path d="M121.20,235.80 Q124.05,235.95 125.80,233.70" fill="none" stroke="#2C7382" stroke-width="0.85" stroke-opacity="0.95"/>
<path d="M121.20,235.80 Q116.52,237.98 111.50,236.80" fill="none" stroke="#2C7382" stroke-width="0.85" stroke-opacity="0.95"/>
<path d="M121.20,235.80 Q118.01,237.75 115.10,240.10" fill="none" stroke="#2C7382" stroke-width="0.85" stroke-opacity="0.95"/>
<path d="M121.20,235.80 Q119.59,238.34 120.80,241.10" fill="none" stroke="#2C7382" stroke-width="0.85" stroke-opacity="0.95"/>
<path d="M125.80,233.70 Q124.16,237.98 120.80,241.10" fill="none" stroke="#2C7382" stroke-width="0.85" stroke-opacity="0.95"/>
<path d="M111.50,236.80 Q113.74,237.97 115.10,240.10" fill="none" stroke="#2C7382" stroke-width="0.85" stroke-opacity="0.95"/>
<path d="M111.50,236.80 Q115.96,239.36 120.80,241.10" fill="none" stroke="#2C7382" stroke-width="0.85" stroke-opacity="0.95"/>
<path d="M111.50,236.80 Q108.58,238.60 106.90,241.60" fill="none" stroke="#2C7382" stroke-width="0.85" stroke-opacity="0.95"/>
<path d="M111.50,236.80 Q110.72,240.21 110.80,243.70" fill="none" stroke="#2C7382" stroke-width="0.85" stroke-opacity="0.95"/>
<path d="M111.50,236.80 Q115.02,235.93 118.00,238.00" fill="none" stroke="#2C7382" stroke-width="0.85" stroke-opacity="0.95"/>
<path d="M115.10,240.10 Q118.31,238.56 120.80,241.10" fill="none" stroke="#2C7382" stroke-width="0.85" stroke-opacity="0.95"/>
<path d="M115.10,240.10 Q111.19,241.88 106.90,241.60" fill="none" stroke="#2C7382" stroke-width="0.85" stroke-opacity="0.95"/>
<path d="M115.10,240.10 Q112.26,241.08 110.80,243.70" fill="none" stroke="#2C7382" stroke-width="0.85" stroke-opacity="0.95"/>
<path d="M115.10,240.10 Q110.11,239.03 106.00,236.00" fill="none" stroke="#2C7382" stroke-width="0.85" stroke-opacity="0.95"/>
<path d="M115.10,240.10 Q116.29,238.70 118.00,238.00" fill="none" stroke="#2C7382" stroke-width="0.85" stroke-opacity="0.95"/>
<path d="M120.80,241.10 Q114.94,239.08 110.80,243.70" fill="none" stroke="#2C7382" stroke-width="0.85" stroke-opacity="0.95"/>
<path d="M120.80,241.10 Q119.09,239.83 118.00,238.00" fill="none" stroke="#2C7382" stroke-width="0.85" stroke-opacity="0.95"/>
<path d="M106.90,241.60 Q109.50,241.44 110.80,243.70" fill="none" stroke="#2C7382" stroke-width="0.85" stroke-opacity="0.95"/>
<path d="M106.90,241.60 Q106.39,238.81 106.00,236.00" fill="none" stroke="#2C7382" stroke-width="0.85" stroke-opacity="0.95"/>
<path d="M110.80,243.70 Q106.90,240.79 106.00,236.00" fill="none" stroke="#2C7382" stroke-width="0.85" stroke-opacity="0.95"/>
<path d="M110.80,243.70 Q114.54,241.02 118.00,238.00" fill="none" stroke="#2C7382" stroke-width="0.85" stroke-opacity="0.95"/>
<path d="M112.90,197.90 Q90.70,217.11 106.90,241.60" fill="none" stroke="#2C7382" stroke-width="0.95" stroke-opacity="0.95"/>
<path d="M112.90,197.90 Q126.00,221.45 110.80,243.70" fill="none" stroke="#2C7382" stroke-width="0.95" stroke-opacity="0.95"/>
<path d="M116.90,202.20 Q126.42,219.82 118.00,238.00" fill="none" stroke="#2C7382" stroke-width="0.95" stroke-opacity="0.95"/>
<path d="M116.90,202.20 Q105.64,221.74 110.80,243.70" fill="none" stroke="#2C7382" stroke-width="0.95" stroke-opacity="0.95"/>
<path d="M105.50,205.50 Q111.07,222.01 118.00,238.00" fill="none" stroke="#2C7382" stroke-width="0.95" stroke-opacity="0.95"/>
<path d="M105.50,205.50 Q110.15,223.56 125.80,233.70" fill="none" stroke="#2C7382" stroke-width="0.95" stroke-opacity="0.95"/>
<path d="M118.40,208.20 Q119.81,219.00 115.50,229.00" fill="none" stroke="#2C7382" stroke-width="0.95" stroke-opacity="0.95"/>
<path d="M118.40,208.20 Q118.95,223.11 118.00,238.00" fill="none" stroke="#2C7382" stroke-width="0.95" stroke-opacity="0.95"/>
<path d="M102.90,217.20 Q102.58,226.91 106.00,236.00" fill="none" stroke="#2C7382" stroke-width="0.95" stroke-opacity="0.95"/>
<path d="M102.90,217.20 Q110.43,223.31 110.10,233.00" fill="none" stroke="#2C7382" stroke-width="0.95" stroke-opacity="0.95"/>
<path d="M102.90,217.20 Q101.07,220.13 97.90,221.50" fill="none" stroke="#2C7382" stroke-width="0.95" stroke-opacity="0.95"/>
<path d="M111.80,217.90 Q103.47,227.22 111.50,236.80" fill="none" stroke="#2C7382" stroke-width="0.95" stroke-opacity="0.95"/>
<path d="M111.80,217.90 Q123.37,227.53 115.10,240.10" fill="none" stroke="#2C7382" stroke-width="0.95" stroke-opacity="0.95"/>
<path d="M120.50,216.20 Q118.15,226.97 118.00,238.00" fill="none" stroke="#2C7382" stroke-width="0.95" stroke-opacity="0.95"/>
<path d="M120.50,216.20 Q125.63,230.71 111.50,236.80" fill="none" stroke="#2C7382" stroke-width="0.95" stroke-opacity="0.95"/>
<path d="M120.50,216.20 Q121.59,218.86 123.70,220.80" fill="none" stroke="#2C7382" stroke-width="0.95" stroke-opacity="0.95"/>
<path d="M128.40,215.10 Q114.52,219.86 116.50,234.40" fill="none" stroke="#2C7382" stroke-width="0.95" stroke-opacity="0.95"/>
<path d="M128.40,215.10 Q120.47,223.47 125.80,233.70" fill="none" stroke="#2C7382" stroke-width="0.95" stroke-opacity="0.95"/>
<path d="M97.90,221.50 Q104.12,224.27 109.30,228.70" fill="none" stroke="#2C7382" stroke-width="0.95" stroke-opacity="0.95"/>
<path d="M97.90,221.50 Q114.10,223.77 115.10,240.10" fill="none" stroke="#2C7382" stroke-width="0.95" stroke-opacity="0.95"/>
<path d="M97.90,221.50 Q101.04,220.09 102.90,217.20" fill="none" stroke="#2C7382" stroke-width="0.95" stroke-opacity="0.95"/>
<path d="M115.10,222.20 Q112.28,231.63 121.20,235.80" fill="none" stroke="#2C7382" stroke-width="0.95" stroke-opacity="0.95"/>
<path d="M115.10,222.20 Q115.73,232.35 125.80,233.70" fill="none" stroke="#2C7382" stroke-width="0.95" stroke-opacity="0.95"/>
<path d="M123.70,220.80 Q125.86,233.33 115.10,240.10" fill="none" stroke="#2C7382" stroke-width="0.95" stroke-opacity="0.95"/>
<path d="M123.70,220.80 Q118.87,229.07 109.30,228.70" fill="none" stroke="#2C7382" stroke-width="0.95" stroke-opacity="0.95"/>
<path d="M123.70,220.80 Q122.98,217.89 120.50,216.20" fill="none" stroke="#2C7382" stroke-width="0.95" stroke-opacity="0.95"/>
<path d="M129.80,223.90 Q120.90,230.71 111.50,236.80" fill="none" stroke="#2C7382" stroke-width="0.95" stroke-opacity="0.95"/>
<path d="M129.80,223.90 Q121.52,223.27 115.50,229.00" fill="none" stroke="#2C7382" stroke-width="0.95" stroke-opacity="0.95"/>
<path d="M129.80,223.90 Q129.91,226.84 131.80,229.10" fill="none" stroke="#2C7382" stroke-width="0.95" stroke-opacity="0.95"/>
<path d="M105.50,227.20 Q106.40,231.56 106.00,236.00" fill="none" stroke="#2C7382" stroke-width="0.95" stroke-opacity="0.95"/>
<path d="M105.50,227.20 Q105.89,236.94 115.10,240.10" fill="none" stroke="#2C7382" stroke-width="0.95" stroke-opacity="0.95"/>
<path d="M105.50,227.20 Q106.97,229.04 109.30,228.70" fill="none" stroke="#2C7382" stroke-width="0.95" stroke-opacity="0.95"/>
<path d="M125.10,229.10 Q117.31,231.20 111.50,236.80" fill="none" stroke="#2C7382" stroke-width="0.95" stroke-opacity="0.95"/>
<path d="M125.10,229.10 Q127.36,231.11 125.80,233.70" fill="none" stroke="#2C7382" stroke-width="0.95" stroke-opacity="0.95"/>
<path d="M125.10,229.10 Q124.68,231.52 125.80,233.70" fill="none" stroke="#2C7382" stroke-width="0.95" stroke-opacity="0.95"/>
<path d="M131.80,229.10 Q117.29,230.64 110.80,243.70" fill="none" stroke="#2C7382" stroke-width="0.95" stroke-opacity="0.95"/>
<path d="M131.80,229.10 Q123.58,238.05 111.50,236.80" fill="none" stroke="#2C7382" stroke-width="0.95" stroke-opacity="0.95"/>
<path d="M131.80,229.10 Q132.86,231.82 131.50,234.40" fill="none" stroke="#2C7382" stroke-width="0.95" stroke-opacity="0.95"/>
<path d="M99.30,229.70 Q108.77,237.81 120.80,241.10" fill="none" stroke="#2C7382" stroke-width="0.95" stroke-opacity="0.95"/>
<path d="M99.30,229.70 Q99.01,241.66 110.80,243.70" fill="none" stroke="#2C7382" stroke-width="0.95" stroke-opacity="0.95"/>
<path d="M99.30,229.70 Q101.24,231.25 103.60,232.00" fill="none" stroke="#2C7382" stroke-width="0.95" stroke-opacity="0.95"/>
<path d="M103.60,232.00 Q106.94,231.93 110.10,233.00" fill="none" stroke="#2C7382" stroke-width="0.95" stroke-opacity="0.95"/>
<path d="M103.60,232.00 Q113.17,230.62 115.10,240.10" fill="none" stroke="#2C7382" stroke-width="0.95" stroke-opacity="0.95"/>
<path d="M103.60,232.00 Q105.57,233.54 106.00,236.00" fill="none" stroke="#2C7382" stroke-width="0.95" stroke-opacity="0.95"/>
<path d="M131.50,234.40 Q123.28,230.70 118.00,238.00" fill="none" stroke="#2C7382" stroke-width="0.95" stroke-opacity="0.95"/>
<path d="M131.50,234.40 Q127.72,226.57 119.40,229.10" fill="none" stroke="#2C7382" stroke-width="0.95" stroke-opacity="0.95"/>
<path d="M131.50,234.40 Q130.51,231.69 131.80,229.10" fill="none" stroke="#2C7382" stroke-width="0.95" stroke-opacity="0.95"/>
<path d="M92.60,237.30 Q103.70,228.81 116.50,234.40" fill="none" stroke="#2C7382" stroke-width="0.95" stroke-opacity="0.95"/>
<path d="M92.60,237.30 Q97.74,226.77 109.30,228.70" fill="none" stroke="#2C7382" stroke-width="0.95" stroke-opacity="0.95"/>
<path d="M92.60,237.30 Q96.77,239.75 101.50,238.70" fill="none" stroke="#2C7382" stroke-width="0.95" stroke-opacity="0.95"/>
<path d="M101.50,238.70 Q107.11,229.97 116.50,234.40" fill="none" stroke="#2C7382" stroke-width="0.95" stroke-opacity="0.95"/>
<path d="M101.50,238.70 Q108.72,230.67 119.40,229.10" fill="none" stroke="#2C7382" stroke-width="0.95" stroke-opacity="0.95"/>
<path d="M126.50,241.60 Q116.70,245.21 106.90,241.60" fill="none" stroke="#2C7382" stroke-width="0.95" stroke-opacity="0.95"/>
<path d="M126.50,241.60 Q122.10,234.34 115.50,229.00" fill="none" stroke="#2C7382" stroke-width="0.95" stroke-opacity="0.95"/>
<path d="M126.50,241.60 Q123.58,242.15 120.80,241.10" fill="none" stroke="#2C7382" stroke-width="0.95" stroke-opacity="0.95"/>
<path d="M135.80,239.40 Q129.05,246.82 120.80,241.10" fill="none" stroke="#2C7382" stroke-width="0.95" stroke-opacity="0.95"/>
<path d="M135.80,239.40 Q125.37,237.47 115.10,240.10" fill="none" stroke="#2C7382" stroke-width="0.95" stroke-opacity="0.95"/>
<path d="M115.80,246.60 Q117.30,242.94 120.80,241.10" fill="none" stroke="#2C7382" stroke-width="0.95" stroke-opacity="0.95"/>
<path d="M115.80,246.60 Q113.08,241.02 106.90,241.60" fill="none" stroke="#2C7382" stroke-width="0.95" stroke-opacity="0.95"/>
<path d="M121.50,247.70 Q118.23,235.92 106.00,236.00" fill="none" stroke="#2C7382" stroke-width="0.95" stroke-opacity="0.95"/>
<path d="M121.50,247.70 Q114.59,241.29 110.10,233.00" fill="none" stroke="#2C7382" stroke-width="0.95" stroke-opacity="0.95"/>
<path d="M121.50,247.70 Q120.10,249.84 119.40,252.30" fill="none" stroke="#2C7382" stroke-width="0.95" stroke-opacity="0.95"/>
<path d="M128.70,249.20 Q119.47,238.95 106.00,236.00" fill="none" stroke="#2C7382" stroke-width="0.95" stroke-opacity="0.95"/>
<path d="M128.70,249.20 Q116.67,248.63 106.90,241.60" fill="none" stroke="#2C7382" stroke-width="0.95" stroke-opacity="0.95"/>
<path d="M134.40,245.90 Q121.55,256.06 110.80,243.70" fill="none" stroke="#2C7382" stroke-width="0.95" stroke-opacity="0.95"/>
<path d="M134.40,245.90 Q125.14,244.14 118.00,238.00" fill="none" stroke="#2C7382" stroke-width="0.95" stroke-opacity="0.95"/>
<path d="M99.30,247.30 Q102.15,236.85 109.30,228.70" fill="none" stroke="#2C7382" stroke-width="0.95" stroke-opacity="0.95"/>
<path d="M99.30,247.30 Q101.37,229.39 119.40,229.10" fill="none" stroke="#2C7382" stroke-width="0.95" stroke-opacity="0.95"/>
<path d="M99.30,247.30 Q99.80,242.85 101.50,238.70" fill="none" stroke="#2C7382" stroke-width="0.95" stroke-opacity="0.95"/>
<path d="M110.10,255.90 Q114.51,244.45 110.10,233.00" fill="none" stroke="#2C7382" stroke-width="0.95" stroke-opacity="0.95"/>
<path d="M110.10,255.90 Q111.28,247.58 115.10,240.10" fill="none" stroke="#2C7382" stroke-width="0.95" stroke-opacity="0.95"/>
<path d="M113.60,257.30 Q114.53,242.80 119.40,229.10" fill="none" stroke="#2C7382" stroke-width="0.95" stroke-opacity="0.95"/>
<path d="M113.60,257.30 Q122.22,249.39 115.10,240.10" fill="none" stroke="#2C7382" stroke-width="0.95" stroke-opacity="0.95"/>
<path d="M113.60,257.30 Q111.96,256.33 110.10,255.90" fill="none" stroke="#2C7382" stroke-width="0.95" stroke-opacity="0.95"/>
<path d="M119.40,252.30 Q104.81,250.64 106.00,236.00" fill="none" stroke="#2C7382" stroke-width="0.95" stroke-opacity="0.95"/>
<path d="M119.40,252.30 Q111.22,248.33 115.10,240.10" fill="none" stroke="#2C7382" stroke-width="0.95" stroke-opacity="0.95"/>
<path d="M125.80,256.60 Q116.51,248.90 106.90,241.60" fill="none" stroke="#2C7382" stroke-width="0.95" stroke-opacity="0.95"/>
<path d="M125.80,256.60 Q115.03,245.15 125.80,233.70" fill="none" stroke="#2C7382" stroke-width="0.95" stroke-opacity="0.95"/>
<path d="M120.10,260.20 Q121.46,246.42 111.50,236.80" fill="none" stroke="#2C7382" stroke-width="0.95" stroke-opacity="0.95"/>
<path d="M120.10,260.20 Q121.25,246.58 125.80,233.70" fill="none" stroke="#2C7382" stroke-width="0.95" stroke-opacity="0.95"/>
<path d="M61.50,265.10 Q64.40,265.84 67.30,265.10" fill="none" stroke="#EC6A30" stroke-width="0.85" stroke-opacity="0.95"/>
<path d="M61.50,265.10 Q66.89,263.42 72.00,265.80" fill="none" stroke="#EC6A30" stroke-width="0.85" stroke-opacity="0.95"/>
<path d="M61.50,265.10 Q60.02,266.18 59.40,267.90" fill="none" stroke="#EC6A30" stroke-width="0.85" stroke-opacity="0.95"/>
<path d="M61.50,265.10 Q62.27,268.49 65.10,270.50" fill="none" stroke="#EC6A30" stroke-width="0.85" stroke-opacity="0.95"/>
<path d="M61.50,265.10 Q61.23,269.81 60.10,274.40" fill="none" stroke="#EC6A30" stroke-width="0.85" stroke-opacity="0.95"/>
<path d="M61.50,265.10 Q66.35,268.94 65.80,275.10" fill="none" stroke="#EC6A30" stroke-width="0.85" stroke-opacity="0.95"/>
<path d="M61.50,265.10 Q66.74,263.37 70.70,267.20" fill="none" stroke="#EC6A30" stroke-width="0.85" stroke-opacity="0.95"/>
<path d="M61.50,265.10 Q63.74,264.35 64.00,262.00" fill="none" stroke="#EC6A30" stroke-width="0.85" stroke-opacity="0.95"/>
<path d="M67.30,265.10 Q63.64,267.32 59.40,267.90" fill="none" stroke="#EC6A30" stroke-width="0.85" stroke-opacity="0.95"/>
<path d="M67.30,265.10 Q65.70,267.60 65.10,270.50" fill="none" stroke="#EC6A30" stroke-width="0.85" stroke-opacity="0.95"/>
<path d="M67.30,265.10 Q66.75,268.54 69.40,270.80" fill="none" stroke="#EC6A30" stroke-width="0.85" stroke-opacity="0.95"/>
<path d="M67.30,265.10 Q66.77,270.13 65.80,275.10" fill="none" stroke="#EC6A30" stroke-width="0.85" stroke-opacity="0.95"/>
<path d="M67.30,265.10 Q72.63,268.73 71.60,275.10" fill="none" stroke="#EC6A30" stroke-width="0.85" stroke-opacity="0.95"/>
<path d="M67.30,265.10 Q70.46,268.69 75.00,267.20" fill="none" stroke="#EC6A30" stroke-width="0.85" stroke-opacity="0.95"/>
<path d="M67.30,265.10 Q68.95,271.70 75.70,272.50" fill="none" stroke="#EC6A30" stroke-width="0.85" stroke-opacity="0.95"/>
<path d="M67.30,265.10 Q68.68,270.71 71.40,275.80" fill="none" stroke="#EC6A30" stroke-width="0.85" stroke-opacity="0.95"/>
<path d="M67.30,265.10 Q64.96,264.28 64.00,262.00" fill="none" stroke="#EC6A30" stroke-width="0.85" stroke-opacity="0.95"/>
<path d="M67.30,265.10 Q73.72,264.11 78.00,269.00" fill="none" stroke="#EC6A30" stroke-width="0.85" stroke-opacity="0.95"/>
<path d="M72.00,265.80 Q66.95,265.80 65.10,270.50" fill="none" stroke="#EC6A30" stroke-width="0.85" stroke-opacity="0.95"/>
<path d="M72.00,265.80 Q71.59,268.76 69.40,270.80" fill="none" stroke="#EC6A30" stroke-width="0.85" stroke-opacity="0.95"/>
<path d="M72.00,265.80 Q65.78,268.37 65.80,275.10" fill="none" stroke="#EC6A30" stroke-width="0.85" stroke-opacity="0.95"/>
<path d="M72.00,265.80 Q68.73,270.32 71.60,275.10" fill="none" stroke="#EC6A30" stroke-width="0.85" stroke-opacity="0.95"/>
<path d="M72.00,265.80 Q70.88,266.06 70.70,267.20" fill="none" stroke="#EC6A30" stroke-width="0.85" stroke-opacity="0.95"/>
<path d="M72.00,265.80 Q73.50,266.50 75.00,267.20" fill="none" stroke="#EC6A30" stroke-width="0.85" stroke-opacity="0.95"/>
<path d="M72.00,265.80 Q75.74,266.41 79.30,265.10" fill="none" stroke="#EC6A30" stroke-width="0.85" stroke-opacity="0.95"/>
<path d="M72.00,265.80 Q71.52,270.43 75.70,272.50" fill="none" stroke="#EC6A30" stroke-width="0.85" stroke-opacity="0.95"/>
<path d="M72.00,265.80 Q75.31,271.02 71.40,275.80" fill="none" stroke="#EC6A30" stroke-width="0.85" stroke-opacity="0.95"/>
<path d="M72.00,265.80 Q76.13,265.27 78.00,269.00" fill="none" stroke="#EC6A30" stroke-width="0.85" stroke-opacity="0.95"/>
<path d="M59.40,267.90 Q61.66,270.49 65.10,270.50" fill="none" stroke="#EC6A30" stroke-width="0.85" stroke-opacity="0.95"/>
<path d="M59.40,267.90 Q64.99,267.31 69.40,270.80" fill="none" stroke="#EC6A30" stroke-width="0.85" stroke-opacity="0.95"/>
<path d="M59.40,267.90 Q59.94,271.13 60.10,274.40" fill="none" stroke="#EC6A30" stroke-width="0.85" stroke-opacity="0.95"/>
<path d="M59.40,267.90 Q62.10,271.94 65.80,275.10" fill="none" stroke="#EC6A30" stroke-width="0.85" stroke-opacity="0.95"/>
<path d="M59.40,267.90 Q64.94,265.77 70.70,267.20" fill="none" stroke="#EC6A30" stroke-width="0.85" stroke-opacity="0.95"/>
<path d="M59.40,267.90 Q59.60,263.32 64.00,262.00" fill="none" stroke="#EC6A30" stroke-width="0.85" stroke-opacity="0.95"/>
<path d="M65.10,270.50 Q67.31,269.82 69.40,270.80" fill="none" stroke="#EC6A30" stroke-width="0.85" stroke-opacity="0.95"/>
<path d="M65.10,270.50 Q63.80,273.05 65.80,275.10" fill="none" stroke="#EC6A30" stroke-width="0.85" stroke-opacity="0.95"/>
<path d="M65.10,270.50 Q67.16,274.49 71.60,275.10" fill="none" stroke="#EC6A30" stroke-width="0.85" stroke-opacity="0.95"/>
<path d="M65.10,270.50 Q60.35,272.97 60.80,278.30" fill="none" stroke="#EC6A30" stroke-width="0.85" stroke-opacity="0.95"/>
<path d="M65.10,270.50 Q65.35,275.69 66.30,280.80" fill="none" stroke="#EC6A30" stroke-width="0.85" stroke-opacity="0.95"/>
<path d="M65.10,270.50 Q67.02,275.92 71.60,279.40" fill="none" stroke="#EC6A30" stroke-width="0.85" stroke-opacity="0.95"/>
<path d="M65.10,270.50 Q69.50,267.19 75.00,267.20" fill="none" stroke="#EC6A30" stroke-width="0.85" stroke-opacity="0.95"/>
<path d="M65.10,270.50 Q70.86,269.04 75.70,272.50" fill="none" stroke="#EC6A30" stroke-width="0.85" stroke-opacity="0.95"/>
<path d="M65.10,270.50 Q67.29,274.29 71.40,275.80" fill="none" stroke="#EC6A30" stroke-width="0.85" stroke-opacity="0.95"/>
<path d="M65.10,270.50 Q63.92,266.33 64.00,262.00" fill="none" stroke="#EC6A30" stroke-width="0.85" stroke-opacity="0.95"/>
<path d="M69.40,270.80 Q66.12,276.14 60.10,274.40" fill="none" stroke="#EC6A30" stroke-width="0.85" stroke-opacity="0.95"/>
<path d="M69.40,270.80 Q66.76,272.25 65.80,275.10" fill="none" stroke="#EC6A30" stroke-width="0.85" stroke-opacity="0.95"/>
<path d="M69.40,270.80 Q71.98,272.19 71.60,275.10" fill="none" stroke="#EC6A30" stroke-width="0.85" stroke-opacity="0.95"/>
<path d="M69.40,270.80 Q69.66,275.31 71.60,279.40" fill="none" stroke="#EC6A30" stroke-width="0.85" stroke-opacity="0.95"/>
<path d="M69.40,270.80 Q69.38,268.76 70.70,267.20" fill="none" stroke="#EC6A30" stroke-width="0.85" stroke-opacity="0.95"/>
<path d="M69.40,270.80 Q72.32,269.19 75.00,267.20" fill="none" stroke="#EC6A30" stroke-width="0.85" stroke-opacity="0.95"/>
<path d="M69.40,270.80 Q75.48,269.90 79.30,265.10" fill="none" stroke="#EC6A30" stroke-width="0.85" stroke-opacity="0.95"/>
<path d="M69.40,270.80 Q75.35,267.62 80.30,272.20" fill="none" stroke="#EC6A30" stroke-width="0.85" stroke-opacity="0.95"/>
<path d="M69.40,270.80 Q71.95,272.68 71.40,275.80" fill="none" stroke="#EC6A30" stroke-width="0.85" stroke-opacity="0.95"/>
<path d="M69.40,270.80 Q70.07,276.46 75.70,277.30" fill="none" stroke="#EC6A30" stroke-width="0.85" stroke-opacity="0.95"/>
<path d="M69.40,270.80 Q69.22,276.04 71.40,280.80" fill="none" stroke="#EC6A30" stroke-width="0.85" stroke-opacity="0.95"/>
<path d="M69.40,270.80 Q63.75,268.21 64.00,262.00" fill="none" stroke="#EC6A30" stroke-width="0.85" stroke-opacity="0.95"/>
<path d="M69.40,270.80 Q73.50,268.93 78.00,269.00" fill="none" stroke="#EC6A30" stroke-width="0.85" stroke-opacity="0.95"/>
<path d="M60.10,274.40 Q62.91,275.04 65.80,275.10" fill="none" stroke="#EC6A30" stroke-width="0.85" stroke-opacity="0.95"/>
<path d="M60.10,274.40 Q59.62,276.50 60.80,278.30" fill="none" stroke="#EC6A30" stroke-width="0.85" stroke-opacity="0.95"/>
<path d="M60.10,274.40 Q61.56,279.19 66.30,280.80" fill="none" stroke="#EC6A30" stroke-width="0.85" stroke-opacity="0.95"/>
<path d="M60.10,274.40 Q65.44,277.57 71.40,275.80" fill="none" stroke="#EC6A30" stroke-width="0.85" stroke-opacity="0.95"/>
<path d="M65.80,275.10 Q68.70,273.32 71.60,275.10" fill="none" stroke="#EC6A30" stroke-width="0.85" stroke-opacity="0.95"/>
<path d="M65.80,275.10 Q63.53,277.07 60.80,278.30" fill="none" stroke="#EC6A30" stroke-width="0.85" stroke-opacity="0.95"/>
<path d="M65.80,275.10 Q67.75,277.80 66.30,280.80" fill="none" stroke="#EC6A30" stroke-width="0.85" stroke-opacity="0.95"/>
<path d="M65.80,275.10 Q67.18,279.30 71.60,279.40" fill="none" stroke="#EC6A30" stroke-width="0.85" stroke-opacity="0.95"/>
<path d="M65.80,275.10 Q69.38,271.85 70.70,267.20" fill="none" stroke="#EC6A30" stroke-width="0.85" stroke-opacity="0.95"/>
<path d="M65.80,275.10 Q68.54,275.93 71.40,275.80" fill="none" stroke="#EC6A30" stroke-width="0.85" stroke-opacity="0.95"/>
<path d="M65.80,275.10 Q71.17,274.31 75.70,277.30" fill="none" stroke="#EC6A30" stroke-width="0.85" stroke-opacity="0.95"/>
<path d="M65.80,275.10 Q70.25,278.72 68.00,284.00" fill="none" stroke="#EC6A30" stroke-width="0.85" stroke-opacity="0.95"/>
<path d="M71.60,275.10 Q65.23,273.42 60.80,278.30" fill="none" stroke="#EC6A30" stroke-width="0.85" stroke-opacity="0.95"/>
<path d="M71.60,275.10 Q69.10,278.09 66.30,280.80" fill="none" stroke="#EC6A30" stroke-width="0.85" stroke-opacity="0.95"/>
<path d="M71.60,275.10 Q71.78,277.25 71.60,279.40" fill="none" stroke="#EC6A30" stroke-width="0.85" stroke-opacity="0.95"/>
<path d="M71.60,275.10 Q69.47,271.34 70.70,267.20" fill="none" stroke="#EC6A30" stroke-width="0.85" stroke-opacity="0.95"/>
<path d="M71.60,275.10 Q71.40,270.33 75.00,267.20" fill="none" stroke="#EC6A30" stroke-width="0.85" stroke-opacity="0.95"/>
<path d="M71.60,275.10 Q74.57,275.25 75.70,272.50" fill="none" stroke="#EC6A30" stroke-width="0.85" stroke-opacity="0.95"/>
<path d="M71.60,275.10 Q74.84,270.33 80.30,272.20" fill="none" stroke="#EC6A30" stroke-width="0.85" stroke-opacity="0.95"/>
<path d="M71.60,275.10 Q73.82,275.88 75.70,277.30" fill="none" stroke="#EC6A30" stroke-width="0.85" stroke-opacity="0.95"/>
<path d="M71.60,275.10 Q70.81,277.93 71.40,280.80" fill="none" stroke="#EC6A30" stroke-width="0.85" stroke-opacity="0.95"/>
<path d="M71.60,275.10 Q75.93,276.31 78.90,279.70" fill="none" stroke="#EC6A30" stroke-width="0.85" stroke-opacity="0.95"/>
<path d="M71.60,275.10 Q76.17,278.57 74.30,284.00" fill="none" stroke="#EC6A30" stroke-width="0.85" stroke-opacity="0.95"/>
<path d="M71.60,275.10 Q75.19,272.46 78.00,269.00" fill="none" stroke="#EC6A30" stroke-width="0.85" stroke-opacity="0.95"/>
<path d="M71.60,275.10 Q71.67,280.31 68.00,284.00" fill="none" stroke="#EC6A30" stroke-width="0.85" stroke-opacity="0.95"/>
<path d="M60.80,278.30 Q66.23,278.56 71.60,279.40" fill="none" stroke="#EC6A30" stroke-width="0.85" stroke-opacity="0.95"/>
<path d="M60.80,278.30 Q65.26,273.49 71.40,275.80" fill="none" stroke="#EC6A30" stroke-width="0.85" stroke-opacity="0.95"/>
<path d="M60.80,278.30 Q66.64,277.28 71.40,280.80" fill="none" stroke="#EC6A30" stroke-width="0.85" stroke-opacity="0.95"/>
<path d="M60.80,278.30 Q64.28,281.30 68.00,284.00" fill="none" stroke="#EC6A30" stroke-width="0.85" stroke-opacity="0.95"/>
<path d="M66.30,280.80 Q69.34,281.58 71.60,279.40" fill="none" stroke="#EC6A30" stroke-width="0.85" stroke-opacity="0.95"/>
<path d="M66.30,280.80 Q69.33,283.59 69.40,287.70" fill="none" stroke="#EC6A30" stroke-width="0.85" stroke-opacity="0.95"/>
<path d="M66.30,280.80 Q69.12,278.57 71.40,275.80" fill="none" stroke="#EC6A30" stroke-width="0.85" stroke-opacity="0.95"/>
<path d="M66.30,280.80 Q72.26,282.44 75.70,277.30" fill="none" stroke="#EC6A30" stroke-width="0.85" stroke-opacity="0.95"/>
<path d="M66.30,280.80 Q68.85,282.55 71.40,280.80" fill="none" stroke="#EC6A30" stroke-width="0.85" stroke-opacity="0.95"/>
<path d="M66.30,280.80 Q70.56,281.74 74.30,284.00" fill="none" stroke="#EC6A30" stroke-width="0.85" stroke-opacity="0.95"/>
<path d="M66.30,280.80 Q65.98,283.02 68.00,284.00" fill="none" stroke="#EC6A30" stroke-width="0.85" stroke-opacity="0.95"/>
<path d="M71.60,279.40 Q68.78,283.10 69.40,287.70" fill="none" stroke="#EC6A30" stroke-width="0.85" stroke-opacity="0.95"/>
<path d="M71.60,279.40 Q73.86,273.28 80.30,272.20" fill="none" stroke="#EC6A30" stroke-width="0.85" stroke-opacity="0.95"/>
<path d="M71.60,279.40 Q70.64,277.65 71.40,275.80" fill="none" stroke="#EC6A30" stroke-width="0.85" stroke-opacity="0.95"/>
<path d="M71.60,279.40 Q74.47,279.96 75.70,277.30" fill="none" stroke="#EC6A30" stroke-width="0.85" stroke-opacity="0.95"/>
<path d="M71.60,279.40 Q72.01,280.17 71.40,280.80" fill="none" stroke="#EC6A30" stroke-width="0.85" stroke-opacity="0.95"/>
<path d="M69.40,287.70 Q70.52,284.29 71.40,280.80" fill="none" stroke="#EC6A30" stroke-width="0.85" stroke-opacity="0.95"/>
<path d="M69.40,287.70 Q67.68,286.24 68.00,284.00" fill="none" stroke="#EC6A30" stroke-width="0.85" stroke-opacity="0.95"/>
<path d="M70.70,267.20 Q72.85,267.47 75.00,267.20" fill="none" stroke="#EC6A30" stroke-width="0.85" stroke-opacity="0.95"/>
<path d="M70.70,267.20 Q75.75,269.24 79.30,265.10" fill="none" stroke="#EC6A30" stroke-width="0.85" stroke-opacity="0.95"/>
<path d="M70.70,267.20 Q74.44,268.68 75.70,272.50" fill="none" stroke="#EC6A30" stroke-width="0.85" stroke-opacity="0.95"/>
<path d="M70.70,267.20 Q73.55,273.44 80.30,272.20" fill="none" stroke="#EC6A30" stroke-width="0.85" stroke-opacity="0.95"/>
<path d="M70.70,267.20 Q70.67,271.53 71.40,275.80" fill="none" stroke="#EC6A30" stroke-width="0.85" stroke-opacity="0.95"/>
<path d="M70.70,267.20 Q75.54,271.09 75.70,277.30" fill="none" stroke="#EC6A30" stroke-width="0.85" stroke-opacity="0.95"/>
<path d="M70.70,267.20 Q67.59,264.29 64.00,262.00" fill="none" stroke="#EC6A30" stroke-width="0.85" stroke-opacity="0.95"/>
<path d="M70.70,267.20 Q73.64,270.98 78.00,269.00" fill="none" stroke="#EC6A30" stroke-width="0.85" stroke-opacity="0.95"/>
<path d="M75.00,267.20 Q76.36,264.52 79.30,265.10" fill="none" stroke="#EC6A30" stroke-width="0.85" stroke-opacity="0.95"/>
<path d="M75.00,267.20 Q76.25,271.18 80.30,272.20" fill="none" stroke="#EC6A30" stroke-width="0.85" stroke-opacity="0.95"/>
<path d="M75.00,267.20 Q74.35,271.98 71.40,275.80" fill="none" stroke="#EC6A30" stroke-width="0.85" stroke-opacity="0.95"/>
<path d="M75.00,267.20 Q73.10,272.41 75.70,277.30" fill="none" stroke="#EC6A30" stroke-width="0.85" stroke-opacity="0.95"/>
<path d="M75.00,267.20 Q76.96,267.33 78.00,269.00" fill="none" stroke="#EC6A30" stroke-width="0.85" stroke-opacity="0.95"/>
<path d="M79.30,265.10 Q80.16,270.10 75.70,272.50" fill="none" stroke="#EC6A30" stroke-width="0.85" stroke-opacity="0.95"/>
<path d="M79.30,265.10 Q80.58,268.54 80.30,272.20" fill="none" stroke="#EC6A30" stroke-width="0.85" stroke-opacity="0.95"/>
<path d="M79.30,265.10 Q77.18,266.56 78.00,269.00" fill="none" stroke="#EC6A30" stroke-width="0.85" stroke-opacity="0.95"/>
<path d="M75.70,272.50 Q77.97,271.96 80.30,272.20" fill="none" stroke="#EC6A30" stroke-width="0.85" stroke-opacity="0.95"/>
<path d="M75.70,272.50 Q72.46,272.73 71.40,275.80" fill="none" stroke="#EC6A30" stroke-width="0.85" stroke-opacity="0.95"/>
<path d="M75.70,272.50 Q76.39,274.90 75.70,277.30" fill="none" stroke="#EC6A30" stroke-width="0.85" stroke-opacity="0.95"/>
<path d="M75.70,272.50 Q79.57,274.87 84.00,275.80" fill="none" stroke="#EC6A30" stroke-width="0.85" stroke-opacity="0.95"/>
<path d="M75.70,272.50 Q70.86,275.26 71.40,280.80" fill="none" stroke="#EC6A30" stroke-width="0.85" stroke-opacity="0.95"/>
<path d="M75.70,272.50 Q78.47,275.58 78.90,279.70" fill="none" stroke="#EC6A30" stroke-width="0.85" stroke-opacity="0.95"/>
<path d="M75.70,272.50 Q78.21,278.64 74.30,284.00" fill="none" stroke="#EC6A30" stroke-width="0.85" stroke-opacity="0.95"/>
<path d="M75.70,272.50 Q77.32,271.06 78.00,269.00" fill="none" stroke="#EC6A30" stroke-width="0.85" stroke-opacity="0.95"/>
<path d="M80.30,272.20 Q77.00,276.85 71.40,275.80" fill="none" stroke="#EC6A30" stroke-width="0.85" stroke-opacity="0.95"/>
<path d="M80.30,272.20 Q77.66,274.45 75.70,277.30" fill="none" stroke="#EC6A30" stroke-width="0.85" stroke-opacity="0.95"/>
<path d="M80.30,272.20 Q82.08,274.07 84.00,275.80" fill="none" stroke="#EC6A30" stroke-width="0.85" stroke-opacity="0.95"/>
<path d="M80.30,272.20 Q78.44,275.73 78.90,279.70" fill="none" stroke="#EC6A30" stroke-width="0.85" stroke-opacity="0.95"/>
<path d="M80.30,272.20 Q78.86,270.81 78.00,269.00" fill="none" stroke="#EC6A30" stroke-width="0.85" stroke-opacity="0.95"/>
<path d="M71.40,275.80 Q73.53,276.61 75.70,277.30" fill="none" stroke="#EC6A30" stroke-width="0.85" stroke-opacity="0.95"/>
<path d="M71.40,275.80 Q70.83,278.30 71.40,280.80" fill="none" stroke="#EC6A30" stroke-width="0.85" stroke-opacity="0.95"/>
<path d="M71.40,275.80 Q75.52,273.20 78.00,269.00" fill="none" stroke="#EC6A30" stroke-width="0.85" stroke-opacity="0.95"/>
<path d="M71.40,275.80 Q70.96,280.42 68.00,284.00" fill="none" stroke="#EC6A30" stroke-width="0.85" stroke-opacity="0.95"/>
<path d="M75.70,277.30 Q76.69,279.31 78.90,279.70" fill="none" stroke="#EC6A30" stroke-width="0.85" stroke-opacity="0.95"/>
<path d="M75.70,277.30 Q79.19,273.80 78.00,269.00" fill="none" stroke="#EC6A30" stroke-width="0.85" stroke-opacity="0.95"/>
<path d="M75.70,277.30 Q71.04,279.72 68.00,284.00" fill="none" stroke="#EC6A30" stroke-width="0.85" stroke-opacity="0.95"/>
<path d="M84.00,275.80 Q80.19,276.11 78.90,279.70" fill="none" stroke="#EC6A30" stroke-width="0.85" stroke-opacity="0.95"/>
<path d="M84.00,275.80 Q79.12,274.05 78.00,269.00" fill="none" stroke="#EC6A30" stroke-width="0.85" stroke-opacity="0.95"/>
<path d="M71.40,280.80 Q73.90,281.45 74.30,284.00" fill="none" stroke="#EC6A30" stroke-width="0.85" stroke-opacity="0.95"/>
<path d="M71.40,280.80 Q70.90,283.67 68.00,284.00" fill="none" stroke="#EC6A30" stroke-width="0.85" stroke-opacity="0.95"/>
<path d="M78.90,279.70 Q76.37,274.53 78.00,269.00" fill="none" stroke="#EC6A30" stroke-width="0.85" stroke-opacity="0.95"/>
<path d="M74.30,284.00 Q71.15,284.09 68.00,284.00" fill="none" stroke="#EC6A30" stroke-width="0.85" stroke-opacity="0.95"/>
<path d="M52.20,257.20 Q67.42,253.50 75.00,267.20" fill="none" stroke="#EC6A30" stroke-width="0.95" stroke-opacity="0.95"/>
<path d="M52.20,257.20 Q73.49,251.14 80.30,272.20" fill="none" stroke="#EC6A30" stroke-width="0.95" stroke-opacity="0.95"/>
<path d="M59.70,259.30 Q65.81,269.88 78.00,269.00" fill="none" stroke="#EC6A30" stroke-width="0.95" stroke-opacity="0.95"/>
<path d="M59.70,259.30 Q65.50,272.94 80.30,272.20" fill="none" stroke="#EC6A30" stroke-width="0.95" stroke-opacity="0.95"/>
<path d="M68.70,257.20 Q65.50,264.18 69.40,270.80" fill="none" stroke="#EC6A30" stroke-width="0.95" stroke-opacity="0.95"/>
<path d="M68.70,257.20 Q72.19,260.79 72.00,265.80" fill="none" stroke="#EC6A30" stroke-width="0.95" stroke-opacity="0.95"/>
<path d="M68.70,257.20 Q69.90,258.12 71.40,257.90" fill="none" stroke="#EC6A30" stroke-width="0.95" stroke-opacity="0.95"/>
<path d="M73.40,259.30 Q76.07,267.61 71.60,275.10" fill="none" stroke="#EC6A30" stroke-width="0.95" stroke-opacity="0.95"/>
<path d="M73.40,259.30 Q74.15,262.86 72.00,265.80" fill="none" stroke="#EC6A30" stroke-width="0.95" stroke-opacity="0.95"/>
<path d="M45.30,262.90 Q54.90,267.49 65.10,270.50" fill="none" stroke="#EC6A30" stroke-width="0.95" stroke-opacity="0.95"/>
<path d="M45.30,262.90 Q56.98,257.20 67.30,265.10" fill="none" stroke="#EC6A30" stroke-width="0.95" stroke-opacity="0.95"/>
<path d="M54.80,264.40 Q57.59,272.53 65.80,275.10" fill="none" stroke="#EC6A30" stroke-width="0.95" stroke-opacity="0.95"/>
<path d="M54.80,264.40 Q57.96,270.81 65.10,270.50" fill="none" stroke="#EC6A30" stroke-width="0.95" stroke-opacity="0.95"/>
<path d="M47.20,269.70 Q56.04,285.78 74.30,284.00" fill="none" stroke="#EC6A30" stroke-width="0.95" stroke-opacity="0.95"/>
<path d="M47.20,269.70 Q59.13,287.11 78.90,279.70" fill="none" stroke="#EC6A30" stroke-width="0.95" stroke-opacity="0.95"/>
<path d="M42.20,276.50 Q55.68,272.84 67.30,265.10" fill="none" stroke="#EC6A30" stroke-width="0.95" stroke-opacity="0.95"/>
<path d="M42.20,276.50 Q60.22,281.85 78.90,279.70" fill="none" stroke="#EC6A30" stroke-width="0.95" stroke-opacity="0.95"/>
<path d="M49.30,275.40 Q60.21,271.84 70.70,267.20" fill="none" stroke="#EC6A30" stroke-width="0.95" stroke-opacity="0.95"/>
<path d="M49.30,275.40 Q58.75,284.63 71.40,280.80" fill="none" stroke="#EC6A30" stroke-width="0.95" stroke-opacity="0.95"/>
<path d="M49.30,275.40 Q49.46,272.11 47.20,269.70" fill="none" stroke="#EC6A30" stroke-width="0.95" stroke-opacity="0.95"/>
<path d="M43.90,283.40 Q60.68,284.93 75.70,277.30" fill="none" stroke="#EC6A30" stroke-width="0.95" stroke-opacity="0.95"/>
<path d="M43.90,283.40 Q51.38,270.10 65.80,275.10" fill="none" stroke="#EC6A30" stroke-width="0.95" stroke-opacity="0.95"/>
<path d="M56.50,283.40 Q61.85,283.79 66.30,280.80" fill="none" stroke="#EC6A30" stroke-width="0.95" stroke-opacity="0.95"/>
<path d="M56.50,283.40 Q61.53,270.48 75.00,267.20" fill="none" stroke="#EC6A30" stroke-width="0.95" stroke-opacity="0.95"/>
<path d="M60.50,285.10 Q75.05,285.79 80.30,272.20" fill="none" stroke="#EC6A30" stroke-width="0.95" stroke-opacity="0.95"/>
<path d="M60.50,285.10 Q68.47,279.25 75.70,272.50" fill="none" stroke="#EC6A30" stroke-width="0.95" stroke-opacity="0.95"/>
<path d="M60.50,285.10 Q58.39,284.50 56.50,283.40" fill="none" stroke="#EC6A30" stroke-width="0.95" stroke-opacity="0.95"/>
<path d="M48.60,287.70 Q49.65,272.19 65.10,270.50" fill="none" stroke="#EC6A30" stroke-width="0.95" stroke-opacity="0.95"/>
<path d="M48.60,287.70 Q54.69,271.52 71.60,275.10" fill="none" stroke="#EC6A30" stroke-width="0.95" stroke-opacity="0.95"/>
<path d="M61.50,289.40 Q69.00,283.82 75.70,277.30" fill="none" stroke="#EC6A30" stroke-width="0.95" stroke-opacity="0.95"/>
<path d="M61.50,289.40 Q64.51,282.51 65.80,275.10" fill="none" stroke="#EC6A30" stroke-width="0.95" stroke-opacity="0.95"/>
<path d="M61.50,289.40 Q63.36,290.11 64.00,292.00" fill="none" stroke="#EC6A30" stroke-width="0.95" stroke-opacity="0.95"/>
<path d="M73.00,291.60 Q75.83,282.26 75.70,272.50" fill="none" stroke="#EC6A30" stroke-width="0.95" stroke-opacity="0.95"/>
<path d="M73.00,291.60 Q73.45,283.25 71.60,275.10" fill="none" stroke="#EC6A30" stroke-width="0.95" stroke-opacity="0.95"/>
<path d="M68.70,296.60 Q85.44,284.81 75.00,267.20" fill="none" stroke="#EC6A30" stroke-width="0.95" stroke-opacity="0.95"/>
<path d="M68.70,296.60 Q63.44,283.55 69.40,270.80" fill="none" stroke="#EC6A30" stroke-width="0.95" stroke-opacity="0.95"/>
<path d="M68.70,296.60 Q71.48,297.82 74.00,299.50" fill="none" stroke="#EC6A30" stroke-width="0.95" stroke-opacity="0.95"/>
<path d="M55.10,303.10 Q74.19,303.09 74.30,284.00" fill="none" stroke="#EC6A30" stroke-width="0.95" stroke-opacity="0.95"/>
<path d="M55.10,303.10 Q49.60,286.37 66.30,280.80" fill="none" stroke="#EC6A30" stroke-width="0.95" stroke-opacity="0.95"/>
<path d="M60.10,307.40 Q68.43,295.32 66.30,280.80" fill="none" stroke="#EC6A30" stroke-width="0.95" stroke-opacity="0.95"/>
<path d="M60.10,307.40 Q52.23,287.81 71.60,279.40" fill="none" stroke="#EC6A30" stroke-width="0.95" stroke-opacity="0.95"/>
<path d="M65.40,304.50 Q73.05,288.44 80.30,272.20" fill="none" stroke="#EC6A30" stroke-width="0.95" stroke-opacity="0.95"/>
<path d="M65.40,304.50 Q81.84,288.85 75.00,267.20" fill="none" stroke="#EC6A30" stroke-width="0.95" stroke-opacity="0.95"/>
<path d="M72.30,308.10 Q69.65,294.37 66.30,280.80" fill="none" stroke="#EC6A30" stroke-width="0.95" stroke-opacity="0.95"/>
<path d="M72.30,308.10 Q66.84,289.62 75.70,272.50" fill="none" stroke="#EC6A30" stroke-width="0.95" stroke-opacity="0.95"/>
<path d="M72.30,308.10 Q72.25,308.11 72.20,308.10" fill="none" stroke="#EC6A30" stroke-width="0.95" stroke-opacity="0.95"/>
<path d="M77.50,253.90 Q76.26,263.01 67.30,265.10" fill="none" stroke="#EC6A30" stroke-width="0.95" stroke-opacity="0.95"/>
<path d="M77.50,253.90 Q71.41,268.47 74.30,284.00" fill="none" stroke="#EC6A30" stroke-width="0.95" stroke-opacity="0.95"/>
<path d="M83.60,252.20 Q62.95,261.80 68.00,284.00" fill="none" stroke="#EC6A30" stroke-width="0.95" stroke-opacity="0.95"/>
<path d="M83.60,252.20 Q77.42,261.15 67.30,265.10" fill="none" stroke="#EC6A30" stroke-width="0.95" stroke-opacity="0.95"/>
<path d="M83.60,252.20 Q80.10,251.43 77.50,253.90" fill="none" stroke="#EC6A30" stroke-width="0.95" stroke-opacity="0.95"/>
<path d="M90.10,250.40 Q83.18,260.39 80.30,272.20" fill="none" stroke="#EC6A30" stroke-width="0.95" stroke-opacity="0.95"/>
<path d="M90.10,250.40 Q83.25,266.43 71.60,279.40" fill="none" stroke="#EC6A30" stroke-width="0.95" stroke-opacity="0.95"/>
<path d="M90.10,250.40 Q90.75,253.80 88.60,256.50" fill="none" stroke="#EC6A30" stroke-width="0.95" stroke-opacity="0.95"/>
<path d="M88.60,256.50 Q82.57,265.20 72.00,265.80" fill="none" stroke="#EC6A30" stroke-width="0.95" stroke-opacity="0.95"/>
<path d="M88.60,256.50 Q72.90,264.47 66.30,280.80" fill="none" stroke="#EC6A30" stroke-width="0.95" stroke-opacity="0.95"/>
<path d="M88.60,256.50 Q88.26,253.18 90.10,250.40" fill="none" stroke="#EC6A30" stroke-width="0.95" stroke-opacity="0.95"/>
<path d="M98.70,255.80 Q80.64,255.12 75.70,272.50" fill="none" stroke="#EC6A30" stroke-width="0.95" stroke-opacity="0.95"/>
<path d="M98.70,255.80 Q87.42,275.37 67.30,265.10" fill="none" stroke="#EC6A30" stroke-width="0.95" stroke-opacity="0.95"/>
<path d="M71.40,257.90 Q69.62,268.80 60.10,274.40" fill="none" stroke="#EC6A30" stroke-width="0.95" stroke-opacity="0.95"/>
<path d="M71.40,257.90 Q73.33,267.65 75.70,277.30" fill="none" stroke="#EC6A30" stroke-width="0.95" stroke-opacity="0.95"/>
<path d="M71.40,257.90 Q72.52,258.43 73.40,259.30" fill="none" stroke="#EC6A30" stroke-width="0.95" stroke-opacity="0.95"/>
<path d="M76.00,259.00 Q73.71,263.33 70.70,267.20" fill="none" stroke="#EC6A30" stroke-width="0.95" stroke-opacity="0.95"/>
<path d="M76.00,259.00 Q72.19,264.96 78.00,269.00" fill="none" stroke="#EC6A30" stroke-width="0.95" stroke-opacity="0.95"/>
<path d="M81.20,260.80 Q74.68,265.07 69.40,270.80" fill="none" stroke="#EC6A30" stroke-width="0.95" stroke-opacity="0.95"/>
<path d="M81.20,260.80 Q74.76,267.29 71.40,275.80" fill="none" stroke="#EC6A30" stroke-width="0.95" stroke-opacity="0.95"/>
<path d="M81.20,260.80 Q80.97,263.27 79.30,265.10" fill="none" stroke="#EC6A30" stroke-width="0.95" stroke-opacity="0.95"/>
<path d="M87.50,264.40 Q87.72,278.79 74.30,284.00" fill="none" stroke="#EC6A30" stroke-width="0.95" stroke-opacity="0.95"/>
<path d="M87.50,264.40 Q77.12,256.55 67.30,265.10" fill="none" stroke="#EC6A30" stroke-width="0.95" stroke-opacity="0.95"/>
<path d="M87.50,264.40 Q85.14,264.40 83.60,266.20" fill="none" stroke="#EC6A30" stroke-width="0.95" stroke-opacity="0.95"/>
<path d="M103.70,263.40 Q92.59,282.80 71.60,275.10" fill="none" stroke="#EC6A30" stroke-width="0.95" stroke-opacity="0.95"/>
<path d="M103.70,263.40 Q89.01,257.75 78.00,269.00" fill="none" stroke="#EC6A30" stroke-width="0.95" stroke-opacity="0.95"/>
<path d="M103.70,263.40 Q104.40,267.52 101.80,270.80" fill="none" stroke="#EC6A30" stroke-width="0.95" stroke-opacity="0.95"/>
<path d="M83.60,266.20 Q75.15,270.13 67.30,265.10" fill="none" stroke="#EC6A30" stroke-width="0.95" stroke-opacity="0.95"/>
<path d="M83.60,266.20 Q70.79,262.83 65.80,275.10" fill="none" stroke="#EC6A30" stroke-width="0.95" stroke-opacity="0.95"/>
<path d="M86.50,271.50 Q80.35,282.34 68.00,284.00" fill="none" stroke="#EC6A30" stroke-width="0.95" stroke-opacity="0.95"/>
<path d="M86.50,271.50 Q75.28,268.30 65.80,275.10" fill="none" stroke="#EC6A30" stroke-width="0.95" stroke-opacity="0.95"/>
<path d="M86.50,271.50 Q86.47,274.36 84.00,275.80" fill="none" stroke="#EC6A30" stroke-width="0.95" stroke-opacity="0.95"/>
<path d="M101.80,270.80 Q80.90,272.05 60.10,274.40" fill="none" stroke="#EC6A30" stroke-width="0.95" stroke-opacity="0.95"/>
<path d="M101.80,270.80 Q88.68,270.53 75.70,272.50" fill="none" stroke="#EC6A30" stroke-width="0.95" stroke-opacity="0.95"/>
<path d="M101.80,270.80 Q100.99,266.65 103.70,263.40" fill="none" stroke="#EC6A30" stroke-width="0.95" stroke-opacity="0.95"/>
<path d="M91.50,274.80 Q84.72,283.12 75.70,277.30" fill="none" stroke="#EC6A30" stroke-width="0.95" stroke-opacity="0.95"/>
<path d="M91.50,274.80 Q80.18,283.18 66.30,280.80" fill="none" stroke="#EC6A30" stroke-width="0.95" stroke-opacity="0.95"/>
<path d="M84.00,280.10 Q82.49,264.98 67.30,265.10" fill="none" stroke="#EC6A30" stroke-width="0.95" stroke-opacity="0.95"/>
<path d="M84.00,280.10 Q74.56,276.52 70.70,267.20" fill="none" stroke="#EC6A30" stroke-width="0.95" stroke-opacity="0.95"/>
<path d="M91.50,280.80 Q80.99,288.11 71.60,279.40" fill="none" stroke="#EC6A30" stroke-width="0.95" stroke-opacity="0.95"/>
<path d="M91.50,280.80 Q80.23,276.29 69.40,270.80" fill="none" stroke="#EC6A30" stroke-width="0.95" stroke-opacity="0.95"/>
<path d="M91.50,280.80 Q91.80,277.80 91.50,274.80" fill="none" stroke="#EC6A30" stroke-width="0.95" stroke-opacity="0.95"/>
<path d="M98.00,281.10 Q86.50,285.41 74.30,284.00" fill="none" stroke="#EC6A30" stroke-width="0.95" stroke-opacity="0.95"/>
<path d="M98.00,281.10 Q79.02,283.65 65.10,270.50" fill="none" stroke="#EC6A30" stroke-width="0.95" stroke-opacity="0.95"/>
<path d="M81.50,284.40 Q82.56,272.13 72.00,265.80" fill="none" stroke="#EC6A30" stroke-width="0.95" stroke-opacity="0.95"/>
<path d="M81.50,284.40 Q77.18,273.79 65.80,275.10" fill="none" stroke="#EC6A30" stroke-width="0.95" stroke-opacity="0.95"/>
<path d="M70.70,288.00 Q77.07,278.47 75.00,267.20" fill="none" stroke="#EC6A30" stroke-width="0.95" stroke-opacity="0.95"/>
<path d="M70.70,288.00 Q70.73,281.50 75.70,277.30" fill="none" stroke="#EC6A30" stroke-width="0.95" stroke-opacity="0.95"/>
<path d="M82.60,289.20 Q76.93,278.05 70.70,267.20" fill="none" stroke="#EC6A30" stroke-width="0.95" stroke-opacity="0.95"/>
<path d="M82.60,289.20 Q78.37,285.38 78.90,279.70" fill="none" stroke="#EC6A30" stroke-width="0.95" stroke-opacity="0.95"/>
<path d="M87.90,290.90 Q88.35,275.29 75.00,267.20" fill="none" stroke="#EC6A30" stroke-width="0.95" stroke-opacity="0.95"/>
<path d="M87.90,290.90 Q80.65,279.67 68.00,284.00" fill="none" stroke="#EC6A30" stroke-width="0.95" stroke-opacity="0.95"/>
<path d="M75.70,293.00 Q67.51,288.05 71.60,279.40" fill="none" stroke="#EC6A30" stroke-width="0.95" stroke-opacity="0.95"/>
<path d="M75.70,293.00 Q80.96,287.23 78.90,279.70" fill="none" stroke="#EC6A30" stroke-width="0.95" stroke-opacity="0.95"/>
<path d="M92.20,298.00 Q72.55,292.63 75.70,272.50" fill="none" stroke="#EC6A30" stroke-width="0.95" stroke-opacity="0.95"/>
<path d="M92.20,298.00 Q89.41,274.55 65.80,275.10" fill="none" stroke="#EC6A30" stroke-width="0.95" stroke-opacity="0.95"/>
<path d="M92.20,298.00 Q91.70,300.50 89.40,301.60" fill="none" stroke="#EC6A30" stroke-width="0.95" stroke-opacity="0.95"/>
<path d="M74.00,299.50 Q63.81,285.30 75.70,272.50" fill="none" stroke="#EC6A30" stroke-width="0.95" stroke-opacity="0.95"/>
<path d="M74.00,299.50 Q81.92,286.40 71.60,275.10" fill="none" stroke="#EC6A30" stroke-width="0.95" stroke-opacity="0.95"/>
<path d="M74.00,299.50 Q75.21,302.32 77.90,303.80" fill="none" stroke="#EC6A30" stroke-width="0.95" stroke-opacity="0.95"/>
<path d="M83.60,302.30 Q62.20,296.88 65.80,275.10" fill="none" stroke="#EC6A30" stroke-width="0.95" stroke-opacity="0.95"/>
<path d="M83.60,302.30 Q76.01,291.69 71.60,279.40" fill="none" stroke="#EC6A30" stroke-width="0.95" stroke-opacity="0.95"/>
<path d="M83.60,302.30 Q86.51,302.03 89.40,301.60" fill="none" stroke="#EC6A30" stroke-width="0.95" stroke-opacity="0.95"/>
<path d="M89.40,301.60 Q73.94,290.28 80.30,272.20" fill="none" stroke="#EC6A30" stroke-width="0.95" stroke-opacity="0.95"/>
<path d="M89.40,301.60 Q84.54,285.63 71.60,275.10" fill="none" stroke="#EC6A30" stroke-width="0.95" stroke-opacity="0.95"/>
<path d="M89.40,301.60 Q90.24,299.36 92.20,298.00" fill="none" stroke="#EC6A30" stroke-width="0.95" stroke-opacity="0.95"/>
<path d="M77.90,303.80 Q67.65,291.43 71.40,275.80" fill="none" stroke="#EC6A30" stroke-width="0.95" stroke-opacity="0.95"/>
<path d="M77.90,303.80 Q57.23,288.86 70.70,267.20" fill="none" stroke="#EC6A30" stroke-width="0.95" stroke-opacity="0.95"/>
<path d="M72.20,308.10 Q93.16,291.23 78.00,269.00" fill="none" stroke="#EC6A30" stroke-width="0.95" stroke-opacity="0.95"/>
<path d="M72.20,308.10 Q87.62,291.56 71.40,275.80" fill="none" stroke="#EC6A30" stroke-width="0.95" stroke-opacity="0.95"/>
<path d="M92.70,307.40 Q69.35,294.06 70.70,267.20" fill="none" stroke="#EC6A30" stroke-width="0.95" stroke-opacity="0.95"/>
<path d="M92.70,307.40 Q62.47,304.67 60.10,274.40" fill="none" stroke="#EC6A30" stroke-width="0.95" stroke-opacity="0.95"/>
<path d="M64.00,292.00 Q63.09,285.98 66.30,280.80" fill="none" stroke="#EC6A30" stroke-width="0.95" stroke-opacity="0.95"/>
<path d="M64.00,292.00 Q70.99,290.37 74.30,284.00" fill="none" stroke="#EC6A30" stroke-width="0.95" stroke-opacity="0.95"/>
<path d="M95.70,196.40 Q96.08,199.28 98.60,200.70" fill="none" stroke="#575443" stroke-width="0.85" stroke-opacity="1.0"/>
<path d="M98.60,200.70 Q93.03,202.85 91.40,208.60" fill="none" stroke="#575443" stroke-width="0.85" stroke-opacity="1.0"/>
<path d="M98.60,200.70 Q102.72,201.45 105.80,198.60" fill="none" stroke="#575443" stroke-width="0.85" stroke-opacity="1.0"/>
<path d="M105.80,198.60 Q110.52,204.28 117.90,203.90" fill="none" stroke="#575443" stroke-width="0.85" stroke-opacity="1.0"/>
<path d="M91.40,208.60 Q94.47,210.57 97.90,209.30" fill="none" stroke="#575443" stroke-width="0.85" stroke-opacity="1.0"/>
<path d="M97.90,209.30 Q100.33,211.57 103.60,211.00" fill="none" stroke="#575443" stroke-width="0.85" stroke-opacity="1.0"/>
<path d="M103.60,211.00 Q107.83,212.05 111.20,209.30" fill="none" stroke="#575443" stroke-width="0.85" stroke-opacity="1.0"/>
<path d="M111.20,209.30 Q115.90,208.28 117.90,203.90" fill="none" stroke="#575443" stroke-width="0.85" stroke-opacity="1.0"/>
<path d="M91.40,208.60 Q87.47,212.07 87.90,217.30" fill="none" stroke="#575443" stroke-width="0.85" stroke-opacity="1.0"/>
<path d="M91.40,208.60 Q84.26,209.46 78.00,213.00" fill="none" stroke="#575443" stroke-width="0.8" stroke-opacity="1.0"/>
<path d="M103.60,211.00 Q104.00,219.28 110.00,225.00" fill="none" stroke="#575443" stroke-width="0.7" stroke-opacity="1.0"/>
<path d="M77.90,231.00 Q69.70,243.78 75.00,258.00" fill="none" stroke="#E8904A" stroke-width="0.8" stroke-opacity="1.0"/>
<path d="M90.00,250.40 Q99.44,244.80 106.00,236.00" fill="none" stroke="#8a6a55" stroke-width="0.7" stroke-opacity="1.0"/>
<path d="M15.00,252.40 Q14.41,255.75 15.40,259.00" fill="none" stroke="#A9AFB0" stroke-width="0.75" stroke-opacity="1.0"/>
<path d="M22.30,255.70 Q24.43,258.27 27.50,259.60" fill="none" stroke="#A9AFB0" stroke-width="0.75" stroke-opacity="1.0"/>
<path d="M27.50,259.60 Q25.81,262.00 25.40,264.90" fill="none" stroke="#A9AFB0" stroke-width="0.75" stroke-opacity="1.0"/>
<path d="M17.50,265.40 Q17.48,268.78 19.00,271.80" fill="none" stroke="#A9AFB0" stroke-width="0.75" stroke-opacity="1.0"/>
<path d="M25.90,272.90 Q27.44,275.97 30.20,278.00" fill="none" stroke="#A9AFB0" stroke-width="0.75" stroke-opacity="1.0"/>
<path d="M30.20,278.00 Q26.88,278.16 24.00,279.80" fill="none" stroke="#A9AFB0" stroke-width="0.75" stroke-opacity="1.0"/>
<path d="M24.00,279.80 Q24.94,282.93 27.20,285.30" fill="none" stroke="#A9AFB0" stroke-width="0.75" stroke-opacity="1.0"/>
<path d="M34.40,286.60 Q36.68,290.11 40.30,292.20" fill="none" stroke="#A9AFB0" stroke-width="0.75" stroke-opacity="1.0"/>
<path d="M33.60,293.50 Q36.68,297.20 41.10,299.10" fill="none" stroke="#A9AFB0" stroke-width="0.75" stroke-opacity="1.0"/>
<path d="M41.10,299.10 Q45.28,300.42 49.60,299.70" fill="none" stroke="#A9AFB0" stroke-width="0.75" stroke-opacity="1.0"/>
<path d="M49.60,299.70 Q56.37,299.47 62.30,296.20" fill="none" stroke="#A9AFB0" stroke-width="0.75" stroke-opacity="1.0"/>
<path d="M36.40,257.20 Q41.23,255.35 44.70,251.50" fill="none" stroke="#A9AFB0" stroke-width="0.75" stroke-opacity="1.0"/>
<path d="M135.00,257.30 Q134.40,260.91 135.50,264.40" fill="none" stroke="#A9AFB0" stroke-width="0.75" stroke-opacity="1.0"/>
<path d="M129.70,264.90 Q126.56,266.10 124.30,268.60" fill="none" stroke="#A9AFB0" stroke-width="0.75" stroke-opacity="1.0"/>
<path d="M124.30,268.60 Q126.98,271.09 130.50,272.10" fill="none" stroke="#A9AFB0" stroke-width="0.75" stroke-opacity="1.0"/>
<path d="M112.10,269.40 Q114.81,270.90 117.90,271.00" fill="none" stroke="#A9AFB0" stroke-width="0.75" stroke-opacity="1.0"/>
<path d="M117.90,271.00 Q118.74,274.11 120.90,276.50" fill="none" stroke="#A9AFB0" stroke-width="0.75" stroke-opacity="1.0"/>
<path d="M112.10,278.10 Q109.46,280.06 108.00,283.00" fill="none" stroke="#A9AFB0" stroke-width="0.75" stroke-opacity="1.0"/>
<path d="M108.00,283.00 Q111.45,284.04 115.00,283.40" fill="none" stroke="#A9AFB0" stroke-width="0.75" stroke-opacity="1.0"/>
<path d="M127.00,279.30 Q124.66,281.33 123.50,284.20" fill="none" stroke="#A9AFB0" stroke-width="0.75" stroke-opacity="1.0"/>
<path d="M109.00,288.70 Q113.77,290.85 119.00,290.60" fill="none" stroke="#A9AFB0" stroke-width="0.75" stroke-opacity="1.0"/>
<path d="M119.00,290.60 Q115.77,292.36 113.70,295.40" fill="none" stroke="#A9AFB0" stroke-width="0.75" stroke-opacity="1.0"/>
<path d="M103.30,293.70 Q104.29,296.85 106.60,299.20" fill="none" stroke="#A9AFB0" stroke-width="0.75" stroke-opacity="1.0"/>
<path d="M106.60,299.20 Q103.68,300.14 101.50,302.30" fill="none" stroke="#A9AFB0" stroke-width="0.75" stroke-opacity="1.0"/>
<path d="M49.60,299.70 Q56.77,296.09 62.00,290.00" fill="none" stroke="#98a8a8" stroke-width="0.7" stroke-opacity="1.0"/>
<circle cx="52.30" cy="189.00" r="1.75" fill="#F29A26" stroke="#241a12" stroke-width="1.0"/>
<circle cx="47.00" cy="196.30" r="1.75" fill="#F29A26" stroke="#241a12" stroke-width="1.0"/>
<circle cx="37.20" cy="202.30" r="1.75" fill="#F29A26" stroke="#241a12" stroke-width="1.0"/>
<circle cx="47.00" cy="204.50" r="2.05" fill="#F29A26" stroke="#241a12" stroke-width="0.9"/>
<circle cx="50.80" cy="203.00" r="2.05" fill="#F29A26" stroke="#241a12" stroke-width="0.9"/>
<circle cx="34.40" cy="206.60" r="1.75" fill="#F29A26" stroke="#241a12" stroke-width="1.0"/>
<circle cx="31.20" cy="213.10" r="1.75" fill="#F29A26" stroke="#241a12" stroke-width="1.0"/>
<circle cx="44.00" cy="212.40" r="2.05" fill="#F29A26" stroke="#241a12" stroke-width="0.9"/>
<circle cx="47.50" cy="211.00" r="2.05" fill="#F29A26" stroke="#241a12" stroke-width="0.9"/>
<circle cx="52.30" cy="209.50" r="2.05" fill="#F29A26" stroke="#241a12" stroke-width="0.9"/>
<circle cx="35.10" cy="216.20" r="2.05" fill="#F29A26" stroke="#241a12" stroke-width="0.9"/>
<circle cx="39.80" cy="217.40" r="2.05" fill="#F29A26" stroke="#241a12" stroke-width="0.9"/>
<circle cx="44.40" cy="216.70" r="2.05" fill="#F29A26" stroke="#241a12" stroke-width="0.9"/>
<circle cx="48.70" cy="216.00" r="2.05" fill="#F29A26" stroke="#241a12" stroke-width="0.9"/>
<circle cx="53.00" cy="216.00" r="2.05" fill="#F29A26" stroke="#241a12" stroke-width="0.9"/>
<circle cx="32.20" cy="221.00" r="1.75" fill="#F29A26" stroke="#241a12" stroke-width="1.0"/>
<circle cx="40.80" cy="222.80" r="2.05" fill="#F29A26" stroke="#241a12" stroke-width="0.9"/>
<circle cx="46.50" cy="223.10" r="2.05" fill="#F29A26" stroke="#241a12" stroke-width="0.9"/>
<circle cx="51.60" cy="223.80" r="2.05" fill="#F29A26" stroke="#241a12" stroke-width="0.9"/>
<circle cx="24.30" cy="226.00" r="1.75" fill="#F29A26" stroke="#241a12" stroke-width="1.0"/>
<circle cx="33.60" cy="224.60" r="1.75" fill="#F29A26" stroke="#241a12" stroke-width="1.0"/>
<circle cx="21.50" cy="229.60" r="1.75" fill="#F29A26" stroke="#241a12" stroke-width="1.0"/>
<circle cx="36.50" cy="228.10" r="2.05" fill="#F29A26" stroke="#241a12" stroke-width="0.9"/>
<circle cx="40.80" cy="227.40" r="2.05" fill="#F29A26" stroke="#241a12" stroke-width="0.9"/>
<circle cx="44.40" cy="228.90" r="2.05" fill="#F29A26" stroke="#241a12" stroke-width="0.9"/>
<circle cx="53.00" cy="228.90" r="2.05" fill="#F29A26" stroke="#241a12" stroke-width="0.9"/>
<circle cx="24.30" cy="232.40" r="1.75" fill="#F29A26" stroke="#241a12" stroke-width="1.0"/>
<circle cx="31.20" cy="232.40" r="1.75" fill="#F29A26" stroke="#241a12" stroke-width="1.0"/>
<circle cx="35.10" cy="233.20" r="1.75" fill="#F29A26" stroke="#241a12" stroke-width="1.0"/>
<circle cx="40.80" cy="234.60" r="1.75" fill="#F29A26" stroke="#241a12" stroke-width="1.0"/>
<circle cx="20.00" cy="234.90" r="1.75" fill="#F29A26" stroke="#241a12" stroke-width="1.0"/>
<circle cx="25.80" cy="236.70" r="1.75" fill="#F29A26" stroke="#241a12" stroke-width="1.0"/>
<circle cx="30.10" cy="237.50" r="1.75" fill="#F29A26" stroke="#241a12" stroke-width="1.0"/>
<circle cx="50.80" cy="235.30" r="2.05" fill="#F29A26" stroke="#241a12" stroke-width="0.9"/>
<circle cx="13.60" cy="241.00" r="1.75" fill="#F29A26" stroke="#241a12" stroke-width="1.0"/>
<circle cx="20.70" cy="243.90" r="1.75" fill="#F29A26" stroke="#241a12" stroke-width="1.0"/>
<circle cx="27.90" cy="246.10" r="1.75" fill="#F29A26" stroke="#241a12" stroke-width="1.0"/>
<circle cx="37.20" cy="241.00" r="1.75" fill="#F29A26" stroke="#241a12" stroke-width="1.0"/>
<circle cx="53.00" cy="241.80" r="1.75" fill="#F29A26" stroke="#241a12" stroke-width="1.0"/>
<circle cx="35.80" cy="248.20" r="1.75" fill="#F29A26" stroke="#241a12" stroke-width="1.0"/>
<circle cx="62.60" cy="190.90" r="1.75" fill="#F29A26" stroke="#241a12" stroke-width="1.0"/>
<circle cx="70.50" cy="188.40" r="1.75" fill="#F29A26" stroke="#241a12" stroke-width="1.0"/>
<circle cx="79.40" cy="185.60" r="1.75" fill="#F29A26" stroke="#241a12" stroke-width="1.0"/>
<circle cx="92.70" cy="188.00" r="1.75" fill="#F29A26" stroke="#241a12" stroke-width="1.0"/>
<circle cx="77.50" cy="192.70" r="1.75" fill="#F29A26" stroke="#241a12" stroke-width="1.0"/>
<circle cx="87.50" cy="191.90" r="1.75" fill="#F29A26" stroke="#241a12" stroke-width="1.0"/>
<circle cx="71.50" cy="196.90" r="1.75" fill="#F29A26" stroke="#241a12" stroke-width="1.0"/>
<circle cx="88.00" cy="197.30" r="1.75" fill="#F29A26" stroke="#241a12" stroke-width="1.0"/>
<circle cx="59.30" cy="201.30" r="1.75" fill="#F29A26" stroke="#241a12" stroke-width="1.0"/>
<circle cx="65.00" cy="200.90" r="1.75" fill="#F29A26" stroke="#241a12" stroke-width="1.0"/>
<circle cx="80.40" cy="201.30" r="1.75" fill="#F29A26" stroke="#241a12" stroke-width="1.0"/>
<circle cx="72.20" cy="204.50" r="1.75" fill="#F29A26" stroke="#241a12" stroke-width="1.0"/>
<circle cx="57.90" cy="205.90" r="2.05" fill="#F29A26" stroke="#241a12" stroke-width="0.9"/>
<circle cx="65.80" cy="206.40" r="1.75" fill="#F29A26" stroke="#241a12" stroke-width="1.0"/>
<circle cx="77.20" cy="206.20" r="1.75" fill="#F29A26" stroke="#241a12" stroke-width="1.0"/>
<circle cx="84.40" cy="205.90" r="1.75" fill="#F29A26" stroke="#241a12" stroke-width="1.0"/>
<circle cx="60.30" cy="213.10" r="2.05" fill="#F29A26" stroke="#241a12" stroke-width="0.9"/>
<circle cx="72.60" cy="212.40" r="1.75" fill="#F29A26" stroke="#241a12" stroke-width="1.0"/>
<circle cx="78.70" cy="213.10" r="1.75" fill="#F29A26" stroke="#241a12" stroke-width="1.0"/>
<circle cx="54.30" cy="215.20" r="2.05" fill="#F29A26" stroke="#241a12" stroke-width="0.9"/>
<circle cx="66.90" cy="215.70" r="1.75" fill="#F29A26" stroke="#241a12" stroke-width="1.0"/>
<circle cx="57.90" cy="218.10" r="2.05" fill="#F29A26" stroke="#241a12" stroke-width="0.9"/>
<circle cx="63.60" cy="218.80" r="2.05" fill="#F29A26" stroke="#241a12" stroke-width="0.9"/>
<circle cx="77.90" cy="217.40" r="1.75" fill="#F29A26" stroke="#241a12" stroke-width="1.0"/>
<circle cx="57.20" cy="222.80" r="2.05" fill="#F29A26" stroke="#241a12" stroke-width="0.9"/>
<circle cx="61.50" cy="222.40" r="2.05" fill="#F29A26" stroke="#241a12" stroke-width="0.9"/>
<circle cx="68.60" cy="221.00" r="1.75" fill="#F29A26" stroke="#241a12" stroke-width="1.0"/>
<circle cx="74.80" cy="221.70" r="1.75" fill="#F29A26" stroke="#241a12" stroke-width="1.0"/>
<circle cx="82.20" cy="224.60" r="1.75" fill="#F29A26" stroke="#241a12" stroke-width="1.0"/>
<circle cx="90.80" cy="225.70" r="1.75" fill="#F29A26" stroke="#241a12" stroke-width="1.0"/>
<circle cx="60.00" cy="228.90" r="2.05" fill="#F29A26" stroke="#241a12" stroke-width="0.9"/>
<circle cx="65.50" cy="226.30" r="1.75" fill="#F29A26" stroke="#241a12" stroke-width="1.0"/>
<circle cx="69.80" cy="224.60" r="1.75" fill="#F29A26" stroke="#241a12" stroke-width="1.0"/>
<circle cx="83.70" cy="230.30" r="1.75" fill="#F29A26" stroke="#241a12" stroke-width="1.0"/>
<circle cx="77.90" cy="231.00" r="1.75" fill="#F29A26" stroke="#241a12" stroke-width="1.0"/>
<circle cx="64.30" cy="231.70" r="1.75" fill="#F29A26" stroke="#241a12" stroke-width="1.0"/>
<circle cx="74.40" cy="236.70" r="1.75" fill="#F29A26" stroke="#241a12" stroke-width="1.0"/>
<circle cx="59.30" cy="238.20" r="1.75" fill="#F29A26" stroke="#241a12" stroke-width="1.0"/>
<circle cx="64.30" cy="238.90" r="1.75" fill="#F29A26" stroke="#241a12" stroke-width="1.0"/>
<circle cx="56.50" cy="210.00" r="2.05" fill="#F29A26" stroke="#241a12" stroke-width="0.9"/>
<circle cx="42.00" cy="207.00" r="2.05" fill="#F29A26" stroke="#241a12" stroke-width="0.9"/>
<circle cx="38.00" cy="211.00" r="2.05" fill="#F29A26" stroke="#241a12" stroke-width="0.9"/>
<circle cx="48.00" cy="231.00" r="2.05" fill="#F29A26" stroke="#241a12" stroke-width="0.9"/>
<circle cx="57.00" cy="233.00" r="2.05" fill="#F29A26" stroke="#241a12" stroke-width="0.9"/>
<circle cx="45.00" cy="236.00" r="1.75" fill="#F29A26" stroke="#241a12" stroke-width="1.0"/>
<circle cx="60.88" cy="208.88" r="2.05" fill="#F29A26" stroke="#241a12" stroke-width="0.9"/>
<circle cx="112.90" cy="197.90" r="1.75" fill="#21646F" stroke="#241a12" stroke-width="1.0"/>
<circle cx="116.90" cy="202.20" r="1.75" fill="#21646F" stroke="#241a12" stroke-width="1.0"/>
<circle cx="105.50" cy="205.50" r="1.75" fill="#21646F" stroke="#241a12" stroke-width="1.0"/>
<circle cx="118.40" cy="208.20" r="1.75" fill="#21646F" stroke="#241a12" stroke-width="1.0"/>
<circle cx="102.90" cy="217.20" r="1.75" fill="#21646F" stroke="#241a12" stroke-width="1.0"/>
<circle cx="111.80" cy="217.90" r="1.75" fill="#21646F" stroke="#241a12" stroke-width="1.0"/>
<circle cx="120.50" cy="216.20" r="1.75" fill="#21646F" stroke="#241a12" stroke-width="1.0"/>
<circle cx="128.40" cy="215.10" r="1.75" fill="#21646F" stroke="#241a12" stroke-width="1.0"/>
<circle cx="97.90" cy="221.50" r="1.75" fill="#21646F" stroke="#241a12" stroke-width="1.0"/>
<circle cx="115.10" cy="222.20" r="1.75" fill="#21646F" stroke="#241a12" stroke-width="1.0"/>
<circle cx="123.70" cy="220.80" r="1.75" fill="#21646F" stroke="#241a12" stroke-width="1.0"/>
<circle cx="129.80" cy="223.90" r="1.75" fill="#21646F" stroke="#241a12" stroke-width="1.0"/>
<circle cx="105.50" cy="227.20" r="1.75" fill="#21646F" stroke="#241a12" stroke-width="1.0"/>
<circle cx="109.30" cy="228.70" r="2.05" fill="#21646F" stroke="#241a12" stroke-width="0.9"/>
<circle cx="115.50" cy="229.00" r="2.05" fill="#21646F" stroke="#241a12" stroke-width="0.9"/>
<circle cx="119.40" cy="229.10" r="2.05" fill="#21646F" stroke="#241a12" stroke-width="0.9"/>
<circle cx="125.10" cy="229.10" r="1.75" fill="#21646F" stroke="#241a12" stroke-width="1.0"/>
<circle cx="131.80" cy="229.10" r="1.75" fill="#21646F" stroke="#241a12" stroke-width="1.0"/>
<circle cx="99.30" cy="229.70" r="1.75" fill="#21646F" stroke="#241a12" stroke-width="1.0"/>
<circle cx="103.60" cy="232.00" r="1.75" fill="#21646F" stroke="#241a12" stroke-width="1.0"/>
<circle cx="110.10" cy="233.00" r="2.05" fill="#21646F" stroke="#241a12" stroke-width="0.9"/>
<circle cx="116.50" cy="234.40" r="2.05" fill="#21646F" stroke="#241a12" stroke-width="0.9"/>
<circle cx="121.20" cy="235.80" r="2.05" fill="#21646F" stroke="#241a12" stroke-width="0.9"/>
<circle cx="125.80" cy="233.70" r="2.05" fill="#21646F" stroke="#241a12" stroke-width="0.9"/>
<circle cx="131.50" cy="234.40" r="1.75" fill="#21646F" stroke="#241a12" stroke-width="1.0"/>
<circle cx="92.60" cy="237.30" r="1.75" fill="#21646F" stroke="#241a12" stroke-width="1.0"/>
<circle cx="101.50" cy="238.70" r="1.75" fill="#21646F" stroke="#241a12" stroke-width="1.0"/>
<circle cx="111.50" cy="236.80" r="2.05" fill="#21646F" stroke="#241a12" stroke-width="0.9"/>
<circle cx="115.10" cy="240.10" r="2.05" fill="#21646F" stroke="#241a12" stroke-width="0.9"/>
<circle cx="120.80" cy="241.10" r="2.05" fill="#21646F" stroke="#241a12" stroke-width="0.9"/>
<circle cx="126.50" cy="241.60" r="1.75" fill="#21646F" stroke="#241a12" stroke-width="1.0"/>
<circle cx="135.80" cy="239.40" r="1.75" fill="#21646F" stroke="#241a12" stroke-width="1.0"/>
<circle cx="106.90" cy="241.60" r="2.05" fill="#21646F" stroke="#241a12" stroke-width="0.9"/>
<circle cx="110.80" cy="243.70" r="2.05" fill="#21646F" stroke="#241a12" stroke-width="0.9"/>
<circle cx="115.80" cy="246.60" r="1.75" fill="#21646F" stroke="#241a12" stroke-width="1.0"/>
<circle cx="121.50" cy="247.70" r="1.75" fill="#21646F" stroke="#241a12" stroke-width="1.0"/>
<circle cx="128.70" cy="249.20" r="1.75" fill="#21646F" stroke="#241a12" stroke-width="1.0"/>
<circle cx="134.40" cy="245.90" r="1.75" fill="#21646F" stroke="#241a12" stroke-width="1.0"/>
<circle cx="99.30" cy="247.30" r="1.75" fill="#21646F" stroke="#241a12" stroke-width="1.0"/>
<circle cx="110.10" cy="255.90" r="1.75" fill="#21646F" stroke="#241a12" stroke-width="1.0"/>
<circle cx="113.60" cy="257.30" r="1.75" fill="#21646F" stroke="#241a12" stroke-width="1.0"/>
<circle cx="119.40" cy="252.30" r="1.75" fill="#21646F" stroke="#241a12" stroke-width="1.0"/>
<circle cx="125.80" cy="256.60" r="1.75" fill="#21646F" stroke="#241a12" stroke-width="1.0"/>
<circle cx="120.10" cy="260.20" r="1.75" fill="#21646F" stroke="#241a12" stroke-width="1.0"/>
<circle cx="106.00" cy="236.00" r="2.05" fill="#21646F" stroke="#241a12" stroke-width="0.9"/>
<circle cx="118.00" cy="238.00" r="2.05" fill="#21646F" stroke="#241a12" stroke-width="0.9"/>
<circle cx="52.20" cy="257.20" r="1.75" fill="#EB5F24" stroke="#241a12" stroke-width="1.0"/>
<circle cx="59.70" cy="259.30" r="1.75" fill="#EB5F24" stroke="#241a12" stroke-width="1.0"/>
<circle cx="68.70" cy="257.20" r="1.75" fill="#EB5F24" stroke="#241a12" stroke-width="1.0"/>
<circle cx="73.40" cy="259.30" r="1.75" fill="#EB5F24" stroke="#241a12" stroke-width="1.0"/>
<circle cx="45.30" cy="262.90" r="1.75" fill="#EB5F24" stroke="#241a12" stroke-width="1.0"/>
<circle cx="54.80" cy="264.40" r="1.75" fill="#EB5F24" stroke="#241a12" stroke-width="1.0"/>
<circle cx="61.50" cy="265.10" r="2.05" fill="#EB5F24" stroke="#241a12" stroke-width="0.9"/>
<circle cx="67.30" cy="265.10" r="2.05" fill="#EB5F24" stroke="#241a12" stroke-width="0.9"/>
<circle cx="72.00" cy="265.80" r="2.05" fill="#EB5F24" stroke="#241a12" stroke-width="0.9"/>
<circle cx="47.20" cy="269.70" r="1.75" fill="#EB5F24" stroke="#241a12" stroke-width="1.0"/>
<circle cx="59.40" cy="267.90" r="2.05" fill="#EB5F24" stroke="#241a12" stroke-width="0.9"/>
<circle cx="65.10" cy="270.50" r="2.05" fill="#EB5F24" stroke="#241a12" stroke-width="0.9"/>
<circle cx="69.40" cy="270.80" r="2.05" fill="#EB5F24" stroke="#241a12" stroke-width="0.9"/>
<circle cx="42.20" cy="276.50" r="1.75" fill="#EB5F24" stroke="#241a12" stroke-width="1.0"/>
<circle cx="49.30" cy="275.40" r="1.75" fill="#EB5F24" stroke="#241a12" stroke-width="1.0"/>
<circle cx="60.10" cy="274.40" r="2.05" fill="#EB5F24" stroke="#241a12" stroke-width="0.9"/>
<circle cx="65.80" cy="275.10" r="2.05" fill="#EB5F24" stroke="#241a12" stroke-width="0.9"/>
<circle cx="71.60" cy="275.10" r="2.05" fill="#EB5F24" stroke="#241a12" stroke-width="0.9"/>
<circle cx="60.80" cy="278.30" r="2.05" fill="#EB5F24" stroke="#241a12" stroke-width="0.9"/>
<circle cx="66.30" cy="280.80" r="2.05" fill="#EB5F24" stroke="#241a12" stroke-width="0.9"/>
<circle cx="71.60" cy="279.40" r="2.05" fill="#EB5F24" stroke="#241a12" stroke-width="0.9"/>
<circle cx="43.90" cy="283.40" r="1.75" fill="#EB5F24" stroke="#241a12" stroke-width="1.0"/>
<circle cx="56.50" cy="283.40" r="1.75" fill="#EB5F24" stroke="#241a12" stroke-width="1.0"/>
<circle cx="60.50" cy="285.10" r="1.75" fill="#EB5F24" stroke="#241a12" stroke-width="1.0"/>
<circle cx="48.60" cy="287.70" r="1.75" fill="#EB5F24" stroke="#241a12" stroke-width="1.0"/>
<circle cx="61.50" cy="289.40" r="1.75" fill="#EB5F24" stroke="#241a12" stroke-width="1.0"/>
<circle cx="69.40" cy="287.70" r="2.05" fill="#EB5F24" stroke="#241a12" stroke-width="0.9"/>
<circle cx="73.00" cy="291.60" r="1.75" fill="#EB5F24" stroke="#241a12" stroke-width="1.0"/>
<circle cx="68.70" cy="296.60" r="1.75" fill="#EB5F24" stroke="#241a12" stroke-width="1.0"/>
<circle cx="55.10" cy="303.10" r="1.75" fill="#EB5F24" stroke="#241a12" stroke-width="1.0"/>
<circle cx="60.10" cy="307.40" r="1.75" fill="#EB5F24" stroke="#241a12" stroke-width="1.0"/>
<circle cx="65.40" cy="304.50" r="1.75" fill="#EB5F24" stroke="#241a12" stroke-width="1.0"/>
<circle cx="72.30" cy="308.10" r="1.75" fill="#EB5F24" stroke="#241a12" stroke-width="1.0"/>
<circle cx="77.50" cy="253.90" r="1.75" fill="#EB5F24" stroke="#241a12" stroke-width="1.0"/>
<circle cx="83.60" cy="252.20" r="1.75" fill="#EB5F24" stroke="#241a12" stroke-width="1.0"/>
<circle cx="90.10" cy="250.40" r="1.75" fill="#EB5F24" stroke="#241a12" stroke-width="1.0"/>
<circle cx="88.60" cy="256.50" r="1.75" fill="#EB5F24" stroke="#241a12" stroke-width="1.0"/>
<circle cx="98.70" cy="255.80" r="1.75" fill="#EB5F24" stroke="#241a12" stroke-width="1.0"/>
<circle cx="71.40" cy="257.90" r="1.75" fill="#EB5F24" stroke="#241a12" stroke-width="1.0"/>
<circle cx="76.00" cy="259.00" r="1.75" fill="#EB5F24" stroke="#241a12" stroke-width="1.0"/>
<circle cx="81.20" cy="260.80" r="1.75" fill="#EB5F24" stroke="#241a12" stroke-width="1.0"/>
<circle cx="87.50" cy="264.40" r="1.75" fill="#EB5F24" stroke="#241a12" stroke-width="1.0"/>
<circle cx="103.70" cy="263.40" r="1.75" fill="#EB5F24" stroke="#241a12" stroke-width="1.0"/>
<circle cx="70.70" cy="267.20" r="2.05" fill="#EB5F24" stroke="#241a12" stroke-width="0.9"/>
<circle cx="75.00" cy="267.20" r="2.05" fill="#EB5F24" stroke="#241a12" stroke-width="0.9"/>
<circle cx="79.30" cy="265.10" r="2.05" fill="#EB5F24" stroke="#241a12" stroke-width="0.9"/>
<circle cx="83.60" cy="266.20" r="1.75" fill="#EB5F24" stroke="#241a12" stroke-width="1.0"/>
<circle cx="75.70" cy="272.50" r="2.05" fill="#EB5F24" stroke="#241a12" stroke-width="0.9"/>
<circle cx="80.30" cy="272.20" r="2.05" fill="#EB5F24" stroke="#241a12" stroke-width="0.9"/>
<circle cx="86.50" cy="271.50" r="1.75" fill="#EB5F24" stroke="#241a12" stroke-width="1.0"/>
<circle cx="101.80" cy="270.80" r="1.75" fill="#EB5F24" stroke="#241a12" stroke-width="1.0"/>
<circle cx="71.40" cy="275.80" r="2.05" fill="#EB5F24" stroke="#241a12" stroke-width="0.9"/>
<circle cx="75.70" cy="277.30" r="2.05" fill="#EB5F24" stroke="#241a12" stroke-width="0.9"/>
<circle cx="84.00" cy="275.80" r="2.05" fill="#EB5F24" stroke="#241a12" stroke-width="0.9"/>
<circle cx="91.50" cy="274.80" r="1.75" fill="#EB5F24" stroke="#241a12" stroke-width="1.0"/>
<circle cx="71.40" cy="280.80" r="2.05" fill="#EB5F24" stroke="#241a12" stroke-width="0.9"/>
<circle cx="78.90" cy="279.70" r="2.05" fill="#EB5F24" stroke="#241a12" stroke-width="0.9"/>
<circle cx="84.00" cy="280.10" r="1.75" fill="#EB5F24" stroke="#241a12" stroke-width="1.0"/>
<circle cx="91.50" cy="280.80" r="1.75" fill="#EB5F24" stroke="#241a12" stroke-width="1.0"/>
<circle cx="98.00" cy="281.10" r="1.75" fill="#EB5F24" stroke="#241a12" stroke-width="1.0"/>
<circle cx="74.30" cy="284.00" r="2.05" fill="#EB5F24" stroke="#241a12" stroke-width="0.9"/>
<circle cx="81.50" cy="284.40" r="1.75" fill="#EB5F24" stroke="#241a12" stroke-width="1.0"/>
<circle cx="70.70" cy="288.00" r="1.75" fill="#EB5F24" stroke="#241a12" stroke-width="1.0"/>
<circle cx="82.60" cy="289.20" r="1.75" fill="#EB5F24" stroke="#241a12" stroke-width="1.0"/>
<circle cx="87.90" cy="290.90" r="1.75" fill="#EB5F24" stroke="#241a12" stroke-width="1.0"/>
<circle cx="75.70" cy="293.00" r="1.75" fill="#EB5F24" stroke="#241a12" stroke-width="1.0"/>
<circle cx="92.20" cy="298.00" r="1.75" fill="#EB5F24" stroke="#241a12" stroke-width="1.0"/>
<circle cx="74.00" cy="299.50" r="1.75" fill="#EB5F24" stroke="#241a12" stroke-width="1.0"/>
<circle cx="83.60" cy="302.30" r="1.75" fill="#EB5F24" stroke="#241a12" stroke-width="1.0"/>
<circle cx="89.40" cy="301.60" r="1.75" fill="#EB5F24" stroke="#241a12" stroke-width="1.0"/>
<circle cx="77.90" cy="303.80" r="1.75" fill="#EB5F24" stroke="#241a12" stroke-width="1.0"/>
<circle cx="72.20" cy="308.10" r="1.75" fill="#EB5F24" stroke="#241a12" stroke-width="1.0"/>
<circle cx="92.70" cy="307.40" r="1.75" fill="#EB5F24" stroke="#241a12" stroke-width="1.0"/>
<circle cx="64.00" cy="262.00" r="2.05" fill="#EB5F24" stroke="#241a12" stroke-width="0.9"/>
<circle cx="78.00" cy="269.00" r="2.05" fill="#EB5F24" stroke="#241a12" stroke-width="0.9"/>
<circle cx="68.00" cy="284.00" r="2.05" fill="#EB5F24" stroke="#241a12" stroke-width="0.9"/>
<circle cx="64.00" cy="292.00" r="1.75" fill="#EB5F24" stroke="#241a12" stroke-width="1.0"/>
<circle cx="95.70" cy="196.40" r="1.80" fill="#393527" stroke="#141210" stroke-width="1.1"/>
<circle cx="98.60" cy="200.70" r="1.80" fill="#393527" stroke="#141210" stroke-width="1.1"/>
<circle cx="105.80" cy="198.60" r="1.80" fill="#393527" stroke="#141210" stroke-width="1.1"/>
<circle cx="91.40" cy="208.60" r="1.80" fill="#393527" stroke="#141210" stroke-width="1.1"/>
<circle cx="97.90" cy="209.30" r="1.80" fill="#393527" stroke="#141210" stroke-width="1.1"/>
<circle cx="103.60" cy="211.00" r="1.80" fill="#393527" stroke="#141210" stroke-width="1.1"/>
<circle cx="111.20" cy="209.30" r="1.80" fill="#393527" stroke="#141210" stroke-width="1.1"/>
<circle cx="117.90" cy="203.90" r="1.80" fill="#393527" stroke="#141210" stroke-width="1.1"/>
<circle cx="87.90" cy="217.30" r="1.80" fill="#393527" stroke="#141210" stroke-width="1.1"/>
<circle cx="15.00" cy="252.40" r="1.65" fill="#cfcfcf" stroke="#333" stroke-width="1.1"/>
<circle cx="15.40" cy="259.00" r="1.65" fill="#cfcfcf" stroke="#333" stroke-width="1.1"/>
<circle cx="22.30" cy="255.70" r="1.65" fill="#cfcfcf" stroke="#333" stroke-width="1.1"/>
<circle cx="27.50" cy="259.60" r="1.65" fill="#cfcfcf" stroke="#333" stroke-width="1.1"/>
<circle cx="25.40" cy="264.90" r="1.65" fill="#cfcfcf" stroke="#333" stroke-width="1.1"/>
<circle cx="17.50" cy="265.40" r="1.65" fill="#cfcfcf" stroke="#333" stroke-width="1.1"/>
<circle cx="19.00" cy="271.80" r="1.65" fill="#cfcfcf" stroke="#333" stroke-width="1.1"/>
<circle cx="25.90" cy="272.90" r="1.65" fill="#cfcfcf" stroke="#333" stroke-width="1.1"/>
<circle cx="30.20" cy="278.00" r="1.65" fill="#cfcfcf" stroke="#333" stroke-width="1.1"/>
<circle cx="24.00" cy="279.80" r="1.65" fill="#cfcfcf" stroke="#333" stroke-width="1.1"/>
<circle cx="27.20" cy="285.30" r="1.65" fill="#cfcfcf" stroke="#333" stroke-width="1.1"/>
<circle cx="34.40" cy="286.60" r="1.65" fill="#cfcfcf" stroke="#333" stroke-width="1.1"/>
<circle cx="33.60" cy="293.50" r="1.65" fill="#cfcfcf" stroke="#333" stroke-width="1.1"/>
<circle cx="40.30" cy="292.20" r="1.65" fill="#cfcfcf" stroke="#333" stroke-width="1.1"/>
<circle cx="41.10" cy="299.10" r="1.65" fill="#cfcfcf" stroke="#333" stroke-width="1.1"/>
<circle cx="49.60" cy="299.70" r="1.65" fill="#cfcfcf" stroke="#333" stroke-width="1.1"/>
<circle cx="62.30" cy="296.20" r="1.65" fill="#cfcfcf" stroke="#333" stroke-width="1.1"/>
<circle cx="36.40" cy="257.20" r="1.65" fill="#cfcfcf" stroke="#333" stroke-width="1.1"/>
<circle cx="44.70" cy="251.50" r="1.65" fill="#cfcfcf" stroke="#333" stroke-width="1.1"/>
<circle cx="135.00" cy="257.30" r="1.65" fill="#cfcfcf" stroke="#333" stroke-width="1.1"/>
<circle cx="129.70" cy="264.90" r="1.65" fill="#cfcfcf" stroke="#333" stroke-width="1.1"/>
<circle cx="135.50" cy="264.40" r="1.65" fill="#cfcfcf" stroke="#333" stroke-width="1.1"/>
<circle cx="124.30" cy="268.60" r="1.65" fill="#cfcfcf" stroke="#333" stroke-width="1.1"/>
<circle cx="130.50" cy="272.10" r="1.65" fill="#cfcfcf" stroke="#333" stroke-width="1.1"/>
<circle cx="112.10" cy="269.40" r="1.65" fill="#cfcfcf" stroke="#333" stroke-width="1.1"/>
<circle cx="117.90" cy="271.00" r="1.65" fill="#cfcfcf" stroke="#333" stroke-width="1.1"/>
<circle cx="120.90" cy="276.50" r="1.65" fill="#cfcfcf" stroke="#333" stroke-width="1.1"/>
<circle cx="112.10" cy="278.10" r="1.65" fill="#cfcfcf" stroke="#333" stroke-width="1.1"/>
<circle cx="108.00" cy="283.00" r="1.65" fill="#cfcfcf" stroke="#333" stroke-width="1.1"/>
<circle cx="115.00" cy="283.40" r="1.65" fill="#cfcfcf" stroke="#333" stroke-width="1.1"/>
<circle cx="127.00" cy="279.30" r="1.65" fill="#cfcfcf" stroke="#333" stroke-width="1.1"/>
<circle cx="123.50" cy="284.20" r="1.65" fill="#cfcfcf" stroke="#333" stroke-width="1.1"/>
<circle cx="109.00" cy="288.70" r="1.65" fill="#cfcfcf" stroke="#333" stroke-width="1.1"/>
<circle cx="119.00" cy="290.60" r="1.65" fill="#cfcfcf" stroke="#333" stroke-width="1.1"/>
<circle cx="113.70" cy="295.40" r="1.65" fill="#cfcfcf" stroke="#333" stroke-width="1.1"/>
<circle cx="103.30" cy="293.70" r="1.65" fill="#cfcfcf" stroke="#333" stroke-width="1.1"/>
<circle cx="106.60" cy="299.20" r="1.65" fill="#cfcfcf" stroke="#333" stroke-width="1.1"/>
<circle cx="101.50" cy="302.30" r="1.65" fill="#cfcfcf" stroke="#333" stroke-width="1.1"/>
<line x1="197.80" y1="22.90" x2="197.80" y2="126.50" stroke="#111" stroke-width="1.45" />
<line x1="194.00" y1="126.50" x2="308.00" y2="126.50" stroke="#111" stroke-width="1.45" />
<line x1="194.00" y1="126.50" x2="197.80" y2="126.50" stroke="#111" stroke-width="1.45" />
<text x="188.60" y="130.60" font-size="12" text-anchor="end" font-weight="normal" >0</text>
<line x1="194.00" y1="105.90" x2="197.80" y2="105.90" stroke="#111" stroke-width="1.45" />
<text x="188.60" y="110.00" font-size="12" text-anchor="end" font-weight="normal" >20</text>
<line x1="194.00" y1="85.30" x2="197.80" y2="85.30" stroke="#111" stroke-width="1.45" />
<text x="188.60" y="89.40" font-size="12" text-anchor="end" font-weight="normal" >40</text>
<line x1="194.00" y1="64.70" x2="197.80" y2="64.70" stroke="#111" stroke-width="1.45" />
<text x="188.60" y="68.80" font-size="12" text-anchor="end" font-weight="normal" >60</text>
<line x1="194.00" y1="44.10" x2="197.80" y2="44.10" stroke="#111" stroke-width="1.45" />
<text x="188.60" y="48.20" font-size="12" text-anchor="end" font-weight="normal" >80</text>
<line x1="194.00" y1="23.50" x2="197.80" y2="23.50" stroke="#111" stroke-width="1.45" />
<text x="188.60" y="27.60" font-size="12" text-anchor="end" font-weight="normal" >100</text>
<rect x="210.20" y="109.05" width="12.00" height="17.45" fill="#EB5F24" stroke="#3a3a3a" stroke-width="0.9"/>
<line x1="216.20" y1="126.50" x2="216.20" y2="130.70" stroke="#111" stroke-width="1.45" />
<text x="217.40" y="146.30" font-size="14" text-anchor="middle" font-weight="normal" >Normal</text>
<rect x="246.70" y="59.85" width="12.00" height="66.65" fill="#EB5F24" stroke="#3a3a3a" stroke-width="0.9"/>
<line x1="252.70" y1="126.50" x2="252.70" y2="130.70" stroke="#111" stroke-width="1.45" />
<text x="253.90" y="146.30" font-size="14" text-anchor="middle" font-weight="normal" >Wet</text>
<rect x="283.20" y="109.85" width="12.00" height="16.65" fill="#EB5F24" stroke="#3a3a3a" stroke-width="0.9"/>
<line x1="289.20" y1="126.50" x2="289.20" y2="130.70" stroke="#111" stroke-width="1.45" />
<text x="290.40" y="146.30" font-size="14" text-anchor="middle" font-weight="normal" >Dry</text>
<text x="201.80" y="34.70" font-size="16.4" text-anchor="start" font-weight="normal" >Module 1</text>
<line x1="195.70" y1="181.00" x2="195.70" y2="284.60" stroke="#111" stroke-width="1.45" />
<line x1="191.90" y1="284.60" x2="305.90" y2="284.60" stroke="#111" stroke-width="1.45" />
<line x1="191.90" y1="284.60" x2="195.70" y2="284.60" stroke="#111" stroke-width="1.45" />
<text x="186.50" y="288.70" font-size="12" text-anchor="end" font-weight="normal" >0</text>
<line x1="191.90" y1="264.00" x2="195.70" y2="264.00" stroke="#111" stroke-width="1.45" />
<text x="186.50" y="268.10" font-size="12" text-anchor="end" font-weight="normal" >20</text>
<line x1="191.90" y1="243.40" x2="195.70" y2="243.40" stroke="#111" stroke-width="1.45" />
<text x="186.50" y="247.50" font-size="12" text-anchor="end" font-weight="normal" >40</text>
<line x1="191.90" y1="222.80" x2="195.70" y2="222.80" stroke="#111" stroke-width="1.45" />
<text x="186.50" y="226.90" font-size="12" text-anchor="end" font-weight="normal" >60</text>
<line x1="191.90" y1="202.20" x2="195.70" y2="202.20" stroke="#111" stroke-width="1.45" />
<text x="186.50" y="206.30" font-size="12" text-anchor="end" font-weight="normal" >80</text>
<line x1="191.90" y1="181.60" x2="195.70" y2="181.60" stroke="#111" stroke-width="1.45" />
<text x="186.50" y="185.70" font-size="12" text-anchor="end" font-weight="normal" >100</text>
<rect x="208.10" y="252.45" width="12.00" height="32.15" fill="#EB5F24" stroke="#3a3a3a" stroke-width="0.9"/>
<line x1="214.10" y1="284.60" x2="214.10" y2="288.80" stroke="#111" stroke-width="1.45" />
<text x="215.30" y="304.40" font-size="14" text-anchor="middle" font-weight="normal" >Normal</text>
<rect x="244.60" y="238.15" width="12.00" height="46.45" fill="#EB5F24" stroke="#3a3a3a" stroke-width="0.9"/>
<line x1="250.60" y1="284.60" x2="250.60" y2="288.80" stroke="#111" stroke-width="1.45" />
<text x="251.80" y="304.40" font-size="14" text-anchor="middle" font-weight="normal" >Wet</text>
<rect x="281.10" y="260.95" width="12.00" height="23.65" fill="#EB5F24" stroke="#3a3a3a" stroke-width="0.9"/>
<line x1="287.10" y1="284.60" x2="287.10" y2="288.80" stroke="#111" stroke-width="1.45" />
<text x="288.30" y="304.40" font-size="14" text-anchor="middle" font-weight="normal" >Dry</text>
<text x="199.70" y="190.20" font-size="16.4" text-anchor="start" font-weight="normal" >Module 1</text>
<line x1="322.60" y1="22.90" x2="322.60" y2="126.50" stroke="#111" stroke-width="1.45" />
<line x1="318.80" y1="126.50" x2="432.80" y2="126.50" stroke="#111" stroke-width="1.45" />
<line x1="318.80" y1="126.50" x2="322.60" y2="126.50" stroke="#111" stroke-width="1.45" />
<line x1="318.80" y1="105.90" x2="322.60" y2="105.90" stroke="#111" stroke-width="1.45" />
<line x1="318.80" y1="85.30" x2="322.60" y2="85.30" stroke="#111" stroke-width="1.45" />
<line x1="318.80" y1="64.70" x2="322.60" y2="64.70" stroke="#111" stroke-width="1.45" />
<line x1="318.80" y1="44.10" x2="322.60" y2="44.10" stroke="#111" stroke-width="1.45" />
<line x1="318.80" y1="23.50" x2="322.60" y2="23.50" stroke="#111" stroke-width="1.45" />
<rect x="335.00" y="90.65" width="12.00" height="35.85" fill="#F29A26" stroke="#3a3a3a" stroke-width="0.9"/>
<line x1="341.00" y1="126.50" x2="341.00" y2="130.70" stroke="#111" stroke-width="1.45" />
<text x="342.20" y="146.30" font-size="14" text-anchor="middle" font-weight="normal" >Normal</text>
<rect x="371.50" y="105.55" width="12.00" height="20.95" fill="#F29A26" stroke="#3a3a3a" stroke-width="0.9"/>
<line x1="377.50" y1="126.50" x2="377.50" y2="130.70" stroke="#111" stroke-width="1.45" />
<text x="378.70" y="146.30" font-size="14" text-anchor="middle" font-weight="normal" >Wet</text>
<rect x="408.00" y="82.15" width="12.00" height="44.35" fill="#F29A26" stroke="#3a3a3a" stroke-width="0.9"/>
<line x1="414.00" y1="126.50" x2="414.00" y2="130.70" stroke="#111" stroke-width="1.45" />
<text x="415.20" y="146.30" font-size="14" text-anchor="middle" font-weight="normal" >Dry</text>
<text x="326.60" y="34.70" font-size="16.4" text-anchor="start" font-weight="normal" >Module 2</text>
<line x1="321.50" y1="181.00" x2="321.50" y2="284.60" stroke="#111" stroke-width="1.45" />
<line x1="317.70" y1="284.60" x2="431.70" y2="284.60" stroke="#111" stroke-width="1.45" />
<line x1="317.70" y1="284.60" x2="321.50" y2="284.60" stroke="#111" stroke-width="1.45" />
<line x1="317.70" y1="264.00" x2="321.50" y2="264.00" stroke="#111" stroke-width="1.45" />
<line x1="317.70" y1="243.40" x2="321.50" y2="243.40" stroke="#111" stroke-width="1.45" />
<line x1="317.70" y1="222.80" x2="321.50" y2="222.80" stroke="#111" stroke-width="1.45" />
<line x1="317.70" y1="202.20" x2="321.50" y2="202.20" stroke="#111" stroke-width="1.45" />
<line x1="317.70" y1="181.60" x2="321.50" y2="181.60" stroke="#111" stroke-width="1.45" />
<rect x="333.90" y="252.75" width="12.00" height="31.85" fill="#F29A26" stroke="#3a3a3a" stroke-width="0.9"/>
<line x1="339.90" y1="284.60" x2="339.90" y2="288.80" stroke="#111" stroke-width="1.45" />
<text x="341.10" y="304.40" font-size="14" text-anchor="middle" font-weight="normal" >Normal</text>
<rect x="370.40" y="257.15" width="12.00" height="27.45" fill="#F29A26" stroke="#3a3a3a" stroke-width="0.9"/>
<line x1="376.40" y1="284.60" x2="376.40" y2="288.80" stroke="#111" stroke-width="1.45" />
<text x="377.60" y="304.40" font-size="14" text-anchor="middle" font-weight="normal" >Wet</text>
<rect x="406.90" y="241.65" width="12.00" height="42.95" fill="#F29A26" stroke="#3a3a3a" stroke-width="0.9"/>
<line x1="412.90" y1="284.60" x2="412.90" y2="288.80" stroke="#111" stroke-width="1.45" />
<text x="414.10" y="304.40" font-size="14" text-anchor="middle" font-weight="normal" >Dry</text>
<text x="325.50" y="190.20" font-size="16.4" text-anchor="start" font-weight="normal" >Module 2</text>
<line x1="447.50" y1="22.90" x2="447.50" y2="126.50" stroke="#111" stroke-width="1.45" />
<line x1="443.70" y1="126.50" x2="557.70" y2="126.50" stroke="#111" stroke-width="1.45" />
<line x1="443.70" y1="126.50" x2="447.50" y2="126.50" stroke="#111" stroke-width="1.45" />
<line x1="443.70" y1="105.90" x2="447.50" y2="105.90" stroke="#111" stroke-width="1.45" />
<line x1="443.70" y1="85.30" x2="447.50" y2="85.30" stroke="#111" stroke-width="1.45" />
<line x1="443.70" y1="64.70" x2="447.50" y2="64.70" stroke="#111" stroke-width="1.45" />
<line x1="443.70" y1="44.10" x2="447.50" y2="44.10" stroke="#111" stroke-width="1.45" />
<line x1="443.70" y1="23.50" x2="447.50" y2="23.50" stroke="#111" stroke-width="1.45" />
<rect x="459.90" y="77.85" width="12.00" height="48.65" fill="#21646F" stroke="#3a3a3a" stroke-width="0.9"/>
<line x1="465.90" y1="126.50" x2="465.90" y2="130.70" stroke="#111" stroke-width="1.45" />
<text x="467.10" y="146.30" font-size="14" text-anchor="middle" font-weight="normal" >Normal</text>
<rect x="496.40" y="112.45" width="12.00" height="14.05" fill="#21646F" stroke="#3a3a3a" stroke-width="0.9"/>
<line x1="502.40" y1="126.50" x2="502.40" y2="130.70" stroke="#111" stroke-width="1.45" />
<text x="503.60" y="146.30" font-size="14" text-anchor="middle" font-weight="normal" >Wet</text>
<rect x="532.90" y="87.25" width="12.00" height="39.25" fill="#21646F" stroke="#3a3a3a" stroke-width="0.9"/>
<line x1="538.90" y1="126.50" x2="538.90" y2="130.70" stroke="#111" stroke-width="1.45" />
<text x="540.10" y="146.30" font-size="14" text-anchor="middle" font-weight="normal" >Dry</text>
<text x="451.50" y="34.70" font-size="16.4" text-anchor="start" font-weight="normal" >Module 3</text>
<line x1="447.40" y1="181.00" x2="447.40" y2="284.60" stroke="#111" stroke-width="1.45" />
<line x1="443.60" y1="284.60" x2="557.60" y2="284.60" stroke="#111" stroke-width="1.45" />
<line x1="443.60" y1="284.60" x2="447.40" y2="284.60" stroke="#111" stroke-width="1.45" />
<line x1="443.60" y1="264.00" x2="447.40" y2="264.00" stroke="#111" stroke-width="1.45" />
<line x1="443.60" y1="243.40" x2="447.40" y2="243.40" stroke="#111" stroke-width="1.45" />
<line x1="443.60" y1="222.80" x2="447.40" y2="222.80" stroke="#111" stroke-width="1.45" />
<line x1="443.60" y1="202.20" x2="447.40" y2="202.20" stroke="#111" stroke-width="1.45" />
<line x1="443.60" y1="181.60" x2="447.40" y2="181.60" stroke="#111" stroke-width="1.45" />
<rect x="459.80" y="260.15" width="12.00" height="24.45" fill="#21646F" stroke="#3a3a3a" stroke-width="0.9"/>
<line x1="465.80" y1="284.60" x2="465.80" y2="288.80" stroke="#111" stroke-width="1.45" />
<text x="467.00" y="304.40" font-size="14" text-anchor="middle" font-weight="normal" >Normal</text>
<rect x="496.30" y="225.55" width="12.00" height="59.05" fill="#21646F" stroke="#3a3a3a" stroke-width="0.9"/>
<line x1="502.30" y1="284.60" x2="502.30" y2="288.80" stroke="#111" stroke-width="1.45" />
<text x="503.50" y="304.40" font-size="14" text-anchor="middle" font-weight="normal" >Wet</text>
<rect x="532.80" y="265.55" width="12.00" height="19.05" fill="#21646F" stroke="#3a3a3a" stroke-width="0.9"/>
<line x1="538.80" y1="284.60" x2="538.80" y2="288.80" stroke="#111" stroke-width="1.45" />
<text x="540.00" y="304.40" font-size="14" text-anchor="middle" font-weight="normal" >Dry</text>
<text x="451.40" y="190.20" font-size="16.4" text-anchor="start" font-weight="normal" >Module 3</text>
<line x1="572.60" y1="22.90" x2="572.60" y2="126.50" stroke="#111" stroke-width="1.45" />
<line x1="568.80" y1="126.50" x2="682.80" y2="126.50" stroke="#111" stroke-width="1.45" />
<line x1="568.80" y1="126.50" x2="572.60" y2="126.50" stroke="#111" stroke-width="1.45" />
<line x1="568.80" y1="105.90" x2="572.60" y2="105.90" stroke="#111" stroke-width="1.45" />
<line x1="568.80" y1="85.30" x2="572.60" y2="85.30" stroke="#111" stroke-width="1.45" />
<line x1="568.80" y1="64.70" x2="572.60" y2="64.70" stroke="#111" stroke-width="1.45" />
<line x1="568.80" y1="44.10" x2="572.60" y2="44.10" stroke="#111" stroke-width="1.45" />
<line x1="568.80" y1="23.50" x2="572.60" y2="23.50" stroke="#111" stroke-width="1.45" />
<rect x="585.00" y="101.45" width="12.00" height="25.05" fill="#393527" stroke="#3a3a3a" stroke-width="0.9"/>
<line x1="591.00" y1="126.50" x2="591.00" y2="130.70" stroke="#111" stroke-width="1.45" />
<text x="592.20" y="146.30" font-size="14" text-anchor="middle" font-weight="normal" >Normal</text>
<rect x="621.50" y="100.65" width="12.00" height="25.85" fill="#393527" stroke="#3a3a3a" stroke-width="0.9"/>
<line x1="627.50" y1="126.50" x2="627.50" y2="130.70" stroke="#111" stroke-width="1.45" />
<text x="628.70" y="146.30" font-size="14" text-anchor="middle" font-weight="normal" >Wet</text>
<rect x="658.00" y="75.25" width="12.00" height="51.25" fill="#393527" stroke="#3a3a3a" stroke-width="0.9"/>
<line x1="664.00" y1="126.50" x2="664.00" y2="130.70" stroke="#111" stroke-width="1.45" />
<text x="665.20" y="146.30" font-size="14" text-anchor="middle" font-weight="normal" >Dry</text>
<text x="576.60" y="34.70" font-size="16.4" text-anchor="start" font-weight="normal" >Module 4</text>
<line x1="574.10" y1="181.00" x2="574.10" y2="284.60" stroke="#111" stroke-width="1.45" />
<line x1="570.30" y1="284.60" x2="684.30" y2="284.60" stroke="#111" stroke-width="1.45" />
<line x1="570.30" y1="284.60" x2="574.10" y2="284.60" stroke="#111" stroke-width="1.45" />
<line x1="570.30" y1="264.00" x2="574.10" y2="264.00" stroke="#111" stroke-width="1.45" />
<line x1="570.30" y1="243.40" x2="574.10" y2="243.40" stroke="#111" stroke-width="1.45" />
<line x1="570.30" y1="222.80" x2="574.10" y2="222.80" stroke="#111" stroke-width="1.45" />
<line x1="570.30" y1="202.20" x2="574.10" y2="202.20" stroke="#111" stroke-width="1.45" />
<line x1="570.30" y1="181.60" x2="574.10" y2="181.60" stroke="#111" stroke-width="1.45" />
<rect x="586.50" y="259.75" width="12.00" height="24.85" fill="#393527" stroke="#3a3a3a" stroke-width="0.9"/>
<line x1="592.50" y1="284.60" x2="592.50" y2="288.80" stroke="#111" stroke-width="1.45" />
<text x="593.70" y="304.40" font-size="14" text-anchor="middle" font-weight="normal" >Normal</text>
<rect x="623.00" y="262.35" width="12.00" height="22.25" fill="#393527" stroke="#3a3a3a" stroke-width="0.9"/>
<line x1="629.00" y1="284.60" x2="629.00" y2="288.80" stroke="#111" stroke-width="1.45" />
<text x="630.20" y="304.40" font-size="14" text-anchor="middle" font-weight="normal" >Wet</text>
<rect x="659.50" y="228.45" width="12.00" height="56.15" fill="#393527" stroke="#3a3a3a" stroke-width="0.9"/>
<line x1="665.50" y1="284.60" x2="665.50" y2="288.80" stroke="#111" stroke-width="1.45" />
<text x="666.70" y="304.40" font-size="14" text-anchor="middle" font-weight="normal" >Dry</text>
<text x="578.10" y="190.20" font-size="16.4" text-anchor="start" font-weight="normal" >Module 4</text>
<text x="149.40" y="14.00" font-size="16.6">(<tspan font-weight="bold">c</tspan>)</text>
<text x="144.90" y="175.60" font-size="16.6">(<tspan font-weight="bold">d</tspan>)</text>
<text x="0.00" y="14.00" font-size="16.6">(<tspan font-weight="bold">a</tspan>)</text>
<text x="0.80" y="175.50" font-size="16.6">(<tspan font-weight="bold">b</tspan>)</text>
<text x="149.20" y="335.70" font-size="16.6">(<tspan font-weight="bold">e</tspan>)</text>
<text x="363.00" y="337.50" font-size="16.6">(<tspan font-weight="bold">f</tspan>)</text>
<text x="73.40" y="13.90" font-size="16.5" text-anchor="middle" font-weight="normal" >Fuxian</text>
<text x="73.30" y="175.80" font-size="16.5" text-anchor="middle" font-weight="normal" >Xingyun</text>
<text x="0" y="0" font-size="16.4" text-anchor="middle" transform="translate(166.20,73.50) rotate(-90)">Percentage (%)</text>
<text x="0" y="0" font-size="16.6" text-anchor="middle" transform="translate(166.00,232.80) rotate(-90)">Percentage (%)</text>
<text x="0" y="0" font-size="16.8" text-anchor="middle" transform="translate(168.60,387.00) rotate(-90)">Robustness</text>
<text x="0" y="0" font-size="16.0" text-anchor="middle" transform="translate(393.00,387.30) rotate(-90)">Vulnerability</text>
<rect x="32.60" y="327.50" width="25.00" height="11.20" fill="#EB5F24" stroke="#1a1a1a" stroke-width="1.1"/>
<text x="69.60" y="337.10" font-size="13.7" text-anchor="start" font-weight="normal" >Module 1</text>
<rect x="32.60" y="344.27" width="25.00" height="11.20" fill="#F29A26" stroke="#1a1a1a" stroke-width="1.1"/>
<text x="69.60" y="353.87" font-size="13.7" text-anchor="start" font-weight="normal" >Module 2</text>
<rect x="32.60" y="361.04" width="25.00" height="11.20" fill="#21646F" stroke="#1a1a1a" stroke-width="1.1"/>
<text x="69.60" y="370.64" font-size="13.7" text-anchor="start" font-weight="normal" >Module 3</text>
<rect x="32.60" y="377.81" width="25.00" height="11.20" fill="#393527" stroke="#1a1a1a" stroke-width="1.1"/>
<text x="69.60" y="387.41" font-size="13.7" text-anchor="start" font-weight="normal" >Module 4</text>
<line x1="210.40" y1="326.90" x2="210.40" y2="445.00" stroke="#111" stroke-width="1.5" />
<line x1="209.80" y1="445.00" x2="345.20" y2="445.00" stroke="#111" stroke-width="1.6" />
<line x1="206.60" y1="347.99" x2="210.40" y2="347.99" stroke="#111" stroke-width="1.5" />
<text x="202.50" y="352.69" font-size="14" text-anchor="end" font-weight="normal" >0.35</text>
<line x1="206.60" y1="389.80" x2="210.40" y2="389.80" stroke="#111" stroke-width="1.5" />
<text x="202.50" y="394.50" font-size="14" text-anchor="end" font-weight="normal" >0.20</text>
<line x1="206.60" y1="431.60" x2="210.40" y2="431.60" stroke="#111" stroke-width="1.5" />
<text x="202.50" y="436.30" font-size="14" text-anchor="end" font-weight="normal" >0.05</text>
<rect x="221.30" y="367.30" width="11.20" height="77.70" fill="#F23F40" stroke="#2a2a2a" stroke-width="0.9"/>
<rect x="232.50" y="337.70" width="11.50" height="107.30" fill="#0B8A3E" stroke="#2a2a2a" stroke-width="0.9"/>
<line x1="232.50" y1="445.00" x2="232.50" y2="448.80" stroke="#111" stroke-width="1.5" />
<text x="233.30" y="462.30" font-size="14" text-anchor="middle" font-weight="normal" >Wet</text>
<rect x="266.30" y="373.20" width="11.20" height="71.80" fill="#F23F40" stroke="#2a2a2a" stroke-width="0.9"/>
<rect x="277.50" y="352.20" width="11.50" height="92.80" fill="#0B8A3E" stroke="#2a2a2a" stroke-width="0.9"/>
<line x1="277.50" y1="445.00" x2="277.50" y2="448.80" stroke="#111" stroke-width="1.5" />
<text x="278.30" y="462.30" font-size="14" text-anchor="middle" font-weight="normal" >Dry</text>
<rect x="311.20" y="370.00" width="11.20" height="75.00" fill="#F23F40" stroke="#2a2a2a" stroke-width="0.9"/>
<rect x="322.40" y="361.20" width="11.50" height="83.80" fill="#0B8A3E" stroke="#2a2a2a" stroke-width="0.9"/>
<line x1="322.40" y1="445.00" x2="322.40" y2="448.80" stroke="#111" stroke-width="1.5" />
<text x="323.20" y="462.30" font-size="14" text-anchor="middle" font-weight="normal" >Normal</text>
<line x1="431.60" y1="326.90" x2="431.60" y2="445.00" stroke="#111" stroke-width="1.5" />
<line x1="431.00" y1="445.00" x2="567.00" y2="445.00" stroke="#111" stroke-width="1.6" />
<line x1="427.80" y1="347.90" x2="431.60" y2="347.90" stroke="#111" stroke-width="1.5" />
<text x="424.70" y="352.60" font-size="14" text-anchor="end" font-weight="normal" >0.04</text>
<line x1="427.80" y1="403.30" x2="431.60" y2="403.30" stroke="#111" stroke-width="1.5" />
<text x="424.70" y="408.00" font-size="14" text-anchor="end" font-weight="normal" >0.02</text>
<line x1="427.80" y1="445.00" x2="431.60" y2="445.00" stroke="#111" stroke-width="1.5" />
<text x="424.70" y="449.70" font-size="14" text-anchor="end" font-weight="normal" >0</text>
<line x1="453.80" y1="445.00" x2="453.80" y2="448.80" stroke="#111" stroke-width="1.5" />
<text x="453.80" y="462.50" font-size="14" text-anchor="middle" font-weight="normal" >Wet</text>
<line x1="499.10" y1="445.00" x2="499.10" y2="448.80" stroke="#111" stroke-width="1.5" />
<text x="499.10" y="462.50" font-size="14" text-anchor="middle" font-weight="normal" >Dry</text>
<line x1="543.80" y1="445.00" x2="543.80" y2="448.80" stroke="#111" stroke-width="1.5" />
<text x="543.80" y="462.50" font-size="14" text-anchor="middle" font-weight="normal" >Normal</text>
<polyline points="453.8,335.9 499.1,351.8 543.8,367.4" fill="none" stroke="#F23F40" stroke-width="1.9"/>
<rect x="451.0" y="333.09999999999997" width="5.6" height="5.6" fill="#F23F40"/>
<rect x="496.3" y="349.0" width="5.6" height="5.6" fill="#F23F40"/>
<rect x="541.0" y="364.59999999999997" width="5.6" height="5.6" fill="#F23F40"/>
<line x1="453.80" y1="437.80" x2="543.80" y2="422.60" stroke="#0B8A3E" stroke-width="1.9" />
<circle cx="453.8" cy="438.3" r="2.9" fill="#0B8A3E"/>
<circle cx="499.1" cy="426.5" r="2.9" fill="#0B8A3E"/>
<circle cx="543.8" cy="422.8" r="2.9" fill="#0B8A3E"/>
<rect x="575.90" y="360.00" width="12.00" height="12.20" fill="#F23F40" stroke="#333" stroke-width="0.8"/>
<rect x="575.90" y="391.20" width="12.00" height="11.60" fill="#0B8A3E" stroke="#333" stroke-width="0.8"/>
<text x="601.60" y="370.00" font-size="14" text-anchor="start" font-weight="normal" >Fuxian</text>
<text x="601.60" y="401.10" font-size="14" text-anchor="start" font-weight="normal" >Xingyun</text>
</svg></body></html>
